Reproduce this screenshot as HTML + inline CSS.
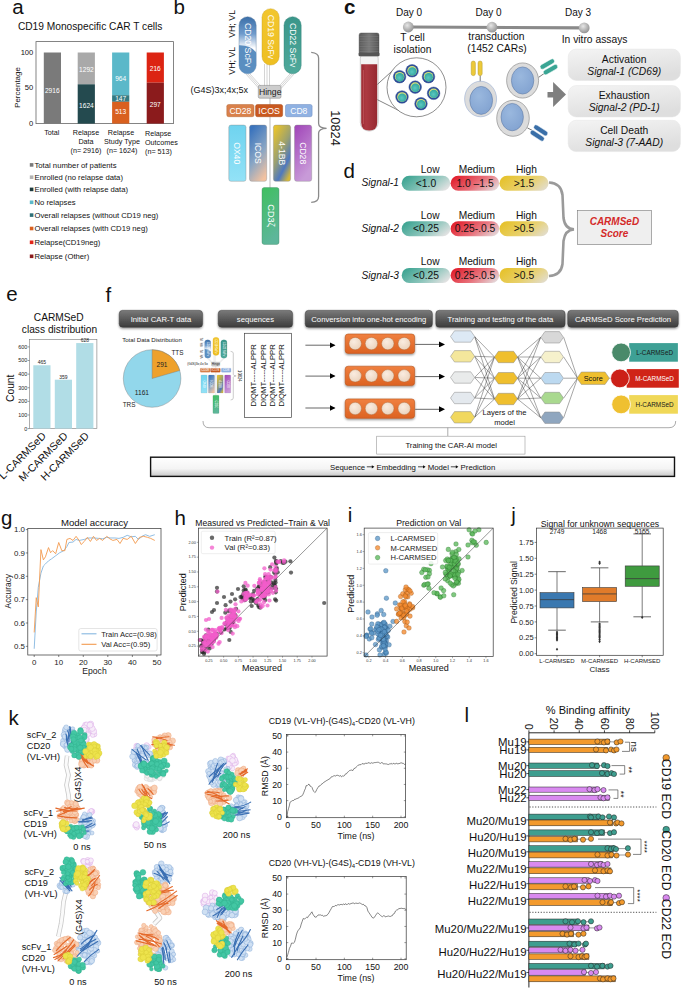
<!DOCTYPE html>
<html><head><meta charset="utf-8"><title>CAR-AI figure</title>
<style>html,body{margin:0;padding:0;background:#fff;}body{width:685px;height:989px;overflow:hidden;font-family:"Liberation Sans", sans-serif;}svg{display:block;}</style>
</head><body><svg width="685" height="989" viewBox="0 0 685 989" font-family='"Liberation Sans", sans-serif'><defs><style>.hg{fill:#2a2a2a;fill-opacity:.7}.hp{fill:#f25cc9;fill-opacity:.75}.ib{fill:#5d98c8;stroke:#1f4f7a;stroke-width:.3;fill-opacity:.78}.io{fill:#f58a2e;stroke:#8a4a10;stroke-width:.3;fill-opacity:.78}.ig{fill:#5cb85c;stroke:#1f6a1f;stroke-width:.3;fill-opacity:.78}.pB{fill:#cfe0f3;stroke:#86a9d6;stroke-width:.45}.pO{fill:#f9d0b4;stroke:#eda47c;stroke-width:.45}.pP{fill:#f7ecf9;stroke:#dba8e6;stroke-width:.5}.pW{fill:#f4f4f4;stroke:#cfcfcf;stroke-width:.45}.pT{fill:#43c7a4;stroke:#2fae8c;stroke-width:.4}.pY{fill:#ede34c;stroke:#d6c935;stroke-width:.4}.rB{stroke:#3a6fb3;stroke-width:1.1;fill:none;stroke-linecap:round}.rO{stroke:#e4692a;stroke-width:1.1;fill:none;stroke-linecap:round}.dO{fill:#f39a2d;stroke:#222;stroke-width:.5}.dT{fill:#3e9e8f;stroke:#222;stroke-width:.5}.dV{fill:#d98af0;stroke:#222;stroke-width:.5}</style><linearGradient id="gCD20" x1="0" y1="0" x2="0" y2="1"><stop offset="0" stop-color="#3b6fa8"/><stop offset="0.3" stop-color="#6f9bcc"/><stop offset="0.55" stop-color="#ffffff"/><stop offset="1" stop-color="#ffffff"/></linearGradient><clipPath id="cpCD20"><rect x="239" y="16.7" width="17.2" height="57.1" rx="8.6"/></clipPath><linearGradient id="gCD19" x1="0" y1="0" x2="0" y2="1"><stop offset="0" stop-color="#f2c62e"/><stop offset="1" stop-color="#eebf22"/></linearGradient><linearGradient id="gCD22" x1="0" y1="0" x2="0" y2="1"><stop offset="0" stop-color="#3a968a"/><stop offset="1" stop-color="#4fa99b"/></linearGradient><linearGradient id="gOX40" x1="0" y1="0" x2="0" y2="1"><stop offset="0" stop-color="#6fd3ef"/><stop offset="1" stop-color="#93e2f7"/></linearGradient><linearGradient id="gICOS" x1="0.3" y1="0" x2="0.7" y2="1"><stop offset="0" stop-color="#3b74bd"/><stop offset="0.55" stop-color="#8aa6c4"/><stop offset="1" stop-color="#f3c2a0"/></linearGradient><linearGradient id="g41BB" x1="0.2" y1="0" x2="0.8" y2="1"><stop offset="0" stop-color="#e6c22e"/><stop offset="0.45" stop-color="#9aa070"/><stop offset="0.75" stop-color="#4e78bf"/><stop offset="1" stop-color="#d6b83a"/></linearGradient><linearGradient id="gCD28v" x1="0" y1="0" x2="0.4" y2="1"><stop offset="0" stop-color="#a044b8"/><stop offset="1" stop-color="#c89ad8"/></linearGradient><linearGradient id="gCD3" x1="0" y1="0" x2="0.3" y2="1"><stop offset="0" stop-color="#3fbf5f"/><stop offset="1" stop-color="#5db69a"/></linearGradient><radialGradient id="gDot" cx="0.4" cy="0.35" r="0.7"><stop offset="0" stop-color="#e6e6e6"/><stop offset="1" stop-color="#8e8e8e"/></radialGradient><radialGradient id="gNuc" cx="0.4" cy="0.35" r="0.8"><stop offset="0" stop-color="#9ab8de"/><stop offset="1" stop-color="#7fa0cf"/></radialGradient><radialGradient id="gTc" cx="0.45" cy="0.55" r="0.6"><stop offset="0" stop-color="#5cc8c0"/><stop offset="1" stop-color="#2ea49c"/></radialGradient><linearGradient id="gBox" x1="0" y1="0" x2="0.4" y2="1"><stop offset="0" stop-color="#f4f4f4"/><stop offset="1" stop-color="#dedede"/></linearGradient><linearGradient id="gCap" x1="0" y1="0" x2="1" y2="0"><stop offset="0" stop-color="#5a5a5a"/><stop offset="0.5" stop-color="#7a7a7a"/><stop offset="1" stop-color="#555"/></linearGradient><linearGradient id="gBlood" x1="0" y1="0" x2="1" y2="0"><stop offset="0" stop-color="#9a2a32"/><stop offset="0.3" stop-color="#ad3a42"/><stop offset="1" stop-color="#962830"/></linearGradient><linearGradient id="gLow" x1="0" y1="0.3" x2="1" y2="0.7"><stop offset="0" stop-color="#3fa593"/><stop offset="0.55" stop-color="#8cc5bb"/><stop offset="1" stop-color="#e2e2e2"/></linearGradient><linearGradient id="gMed" x1="0" y1="0.3" x2="1" y2="0.7"><stop offset="0" stop-color="#e2202e"/><stop offset="0.55" stop-color="#e8707a"/><stop offset="1" stop-color="#e4d4d6"/></linearGradient><linearGradient id="gHigh" x1="0" y1="0.3" x2="1" y2="0.7"><stop offset="0" stop-color="#e6c22c"/><stop offset="0.55" stop-color="#e8d06a"/><stop offset="1" stop-color="#e2dcc8"/></linearGradient><linearGradient id="gHead" x1="0" y1="0" x2="0" y2="1"><stop offset="0" stop-color="#7a7a7a"/><stop offset="0.5" stop-color="#5a5a5a"/><stop offset="1" stop-color="#3c3c3c"/></linearGradient><filter id="fSh" x="-10%" y="-30%" width="120%" height="170%"><feDropShadow dx="0" dy="1.2" stdDeviation="0.9" flood-color="#000" flood-opacity="0.45"/></filter><marker id="mArr" markerWidth="6" markerHeight="6" refX="5" refY="3" orient="auto" markerUnits="userSpaceOnUse"><path d="M0,0 L6,3 L0,6 Z" fill="#000"/></marker><linearGradient id="gOr" x1="0" y1="0" x2="0" y2="1"><stop offset="0" stop-color="#f08040"/><stop offset="1" stop-color="#dc6222"/></linearGradient><radialGradient id="gCr" cx="0.4" cy="0.35" r="0.7"><stop offset="0" stop-color="#faece0"/><stop offset="1" stop-color="#ead2bc"/></radialGradient><linearGradient id="gBan" x1="0" y1="0" x2="0" y2="1"><stop offset="0" stop-color="#ffffff"/><stop offset="0.6" stop-color="#f4f4f4"/><stop offset="1" stop-color="#c8c8c8"/></linearGradient><filter id="fBump" x="-20%" y="-20%" width="140%" height="140%"><feTurbulence type="fractalNoise" baseFrequency="0.35" numOctaves="2" seed="3" result="n"/><feDisplacementMap in="SourceGraphic" in2="n" scale="3.2" xChannelSelector="R" yChannelSelector="G"/></filter></defs><text x="12.30" y="14.20" font-size="20.5" text-anchor="start" fill="#111">a</text><text x="173.50" y="14.20" font-size="20.5" text-anchor="start" fill="#111">b</text><text x="343.50" y="178.40" font-size="20.5" text-anchor="start" fill="#111">d</text><text x="6.30" y="301.20" font-size="20.5" text-anchor="start" fill="#111">e</text><text x="105.50" y="302.40" font-size="20.5" text-anchor="start" fill="#111">f</text><text x="1.00" y="524.50" font-size="20.5" text-anchor="start" fill="#111">g</text><text x="174.50" y="524.50" font-size="20.5" text-anchor="start" fill="#111">h</text><text x="347.80" y="522.00" font-size="20.5" text-anchor="start" fill="#111">i</text><text x="511.30" y="522.00" font-size="20.5" text-anchor="start" fill="#111">j</text><text x="8.60" y="724.50" font-size="20.5" text-anchor="start" fill="#111">k</text><text x="464.50" y="722.00" font-size="20.5" text-anchor="start" fill="#111">l</text><text x="344.00" y="14.20" font-size="20.5" text-anchor="start" fill="#111" font-weight="bold">c</text><text x="17.90" y="29.80" font-size="10.2" text-anchor="start" fill="#111">CD19 Monospecific CAR T cells</text><rect x="36.00" y="41.60" width="137.40" height="82.00" fill="none" stroke="#666" stroke-width="0.8" rx="0"/><text x="33.30" y="55.30" font-size="7.6" text-anchor="end" fill="#111">100</text><text x="33.30" y="90.30" font-size="7.6" text-anchor="end" fill="#111">50</text><text x="33.30" y="126.00" font-size="7.6" text-anchor="end" fill="#111">0</text><text x="19.50" y="87.50" font-size="8.0" text-anchor="middle" fill="#111" transform="rotate(-90 19.5 87.5)">Percentage</text><rect x="43.80" y="52.50" width="17.20" height="71.10" fill="#7a7a7a" stroke="none" stroke-width="0" rx="0"/><rect x="77.70" y="52.50" width="17.20" height="31.80" fill="#a9a9a9" stroke="none" stroke-width="0" rx="0"/><rect x="77.70" y="84.30" width="17.20" height="39.30" fill="#244a4f" stroke="none" stroke-width="0" rx="0"/><rect x="112.10" y="52.50" width="17.20" height="42.70" fill="#5bb8c9" stroke="none" stroke-width="0" rx="0"/><rect x="112.10" y="95.20" width="17.20" height="6.60" fill="#347a82" stroke="none" stroke-width="0" rx="0"/><rect x="112.10" y="101.80" width="17.20" height="21.80" fill="#d9601f" stroke="none" stroke-width="0" rx="0"/><rect x="146.70" y="52.50" width="17.20" height="30.20" fill="#dc2413" stroke="none" stroke-width="0" rx="0"/><rect x="146.70" y="82.70" width="17.20" height="40.90" fill="#8b1b1c" stroke="none" stroke-width="0" rx="0"/><text x="52.30" y="93.20" font-size="6.6" text-anchor="middle" fill="#fff">2916</text><text x="86.40" y="72.00" font-size="6.6" text-anchor="middle" fill="#fff">1292</text><text x="86.40" y="108.10" font-size="6.6" text-anchor="middle" fill="#fff">1624</text><text x="120.70" y="81.20" font-size="6.6" text-anchor="middle" fill="#fff">964</text><text x="120.70" y="100.90" font-size="6.6" text-anchor="middle" fill="#fff">147</text><text x="120.70" y="114.40" font-size="6.6" text-anchor="middle" fill="#fff">513</text><text x="155.30" y="71.40" font-size="6.6" text-anchor="middle" fill="#fff">216</text><text x="155.30" y="107.00" font-size="6.6" text-anchor="middle" fill="#fff">297</text><text x="51.80" y="135.00" font-size="7.2" text-anchor="middle" fill="#111">Total</text><text x="86.00" y="135.00" font-size="7.2" text-anchor="middle" fill="#111">Relapse</text><text x="86.00" y="143.80" font-size="7.2" text-anchor="middle" fill="#111">Data</text><text x="86.00" y="152.60" font-size="7.2" text-anchor="middle" fill="#111">(n= 2916)</text><text x="121.00" y="135.00" font-size="7.2" text-anchor="middle" fill="#111">Relapse</text><text x="122.00" y="143.80" font-size="7.2" text-anchor="middle" fill="#111">Study Type</text><text x="122.00" y="152.60" font-size="7.2" text-anchor="middle" fill="#111">(n= 1624)</text><text x="145.00" y="136.00" font-size="7.2" text-anchor="start" fill="#111">Relapse</text><text x="145.00" y="144.80" font-size="7.2" text-anchor="start" fill="#111">Outcomes</text><text x="145.00" y="153.60" font-size="7.2" text-anchor="start" fill="#111">(n= 513)</text><rect x="29.80" y="163.10" width="3.60" height="3.60" fill="#7a7a7a" stroke="none" stroke-width="0" rx="0"/><text x="34.50" y="167.70" font-size="7.7" text-anchor="start" fill="#111">Total number of patients</text><rect x="29.80" y="175.40" width="3.60" height="3.60" fill="#b3b3b3" stroke="none" stroke-width="0" rx="0"/><text x="34.50" y="180.00" font-size="7.7" text-anchor="start" fill="#111">Enrolled (no relapse data)</text><rect x="29.80" y="187.60" width="3.60" height="3.60" fill="#1d3a3d" stroke="none" stroke-width="0" rx="0"/><text x="34.50" y="192.20" font-size="7.7" text-anchor="start" fill="#111">Enrolled (with relapse data)</text><rect x="29.80" y="200.50" width="3.60" height="3.60" fill="#5bb8c9" stroke="none" stroke-width="0" rx="0"/><text x="34.50" y="205.10" font-size="7.7" text-anchor="start" fill="#111">No relapses</text><rect x="29.80" y="213.30" width="3.60" height="3.60" fill="#2f7078" stroke="none" stroke-width="0" rx="0"/><text x="34.50" y="217.90" font-size="7.7" text-anchor="start" fill="#111">Overall relapses (without CD19 neg)</text><rect x="29.80" y="226.70" width="3.60" height="3.60" fill="#d9601f" stroke="none" stroke-width="0" rx="0"/><text x="34.50" y="231.30" font-size="7.7" text-anchor="start" fill="#111">Overall relapses (with CD19 neg)</text><rect x="29.80" y="240.50" width="3.60" height="3.60" fill="#e1261a" stroke="none" stroke-width="0" rx="0"/><text x="34.50" y="245.10" font-size="7.7" text-anchor="start" fill="#111">Relapse(CD19neg)</text><rect x="29.80" y="254.50" width="3.60" height="3.60" fill="#8b1b1c" stroke="none" stroke-width="0" rx="0"/><text x="34.50" y="259.10" font-size="7.7" text-anchor="start" fill="#111">Relapse (Other)</text><g id="constructB"><line x1="245.50" y1="73.50" x2="259.00" y2="88.50" stroke="#cfcfcf" stroke-width="0.9"/><line x1="290.50" y1="73.50" x2="277.00" y2="88.50" stroke="#cfcfcf" stroke-width="0.9"/><line x1="247.50" y1="73.50" x2="261.00" y2="88.50" stroke="#cfcfcf" stroke-width="0.9"/><line x1="292.50" y1="73.50" x2="279.00" y2="88.50" stroke="#cfcfcf" stroke-width="0.9"/><line x1="249.50" y1="73.50" x2="263.00" y2="88.50" stroke="#cfcfcf" stroke-width="0.9"/><line x1="294.50" y1="73.50" x2="281.00" y2="88.50" stroke="#cfcfcf" stroke-width="0.9"/><line x1="264.50" y1="64.00" x2="264.50" y2="86.00" stroke="#cfcfcf" stroke-width="0.9"/><line x1="267.00" y1="64.00" x2="267.00" y2="86.00" stroke="#cfcfcf" stroke-width="0.9"/><line x1="269.50" y1="64.00" x2="269.50" y2="86.00" stroke="#cfcfcf" stroke-width="0.9"/><line x1="270.00" y1="98.00" x2="270.00" y2="188.00" stroke="#bdbdbd" stroke-width="1.0"/><rect x="239.00" y="16.70" width="17.20" height="57.10" fill="url(#gCD20)" stroke="#5a7a9a" stroke-width="0.4" rx="8.6"/><path d="M238,45.3 Q251,44.5 257,53.5 L257,75 L238,75 Z" fill="#5a8ec0" stroke="none" stroke-width="0" clip-path="url(#cpCD20)"/><rect x="262.00" y="8.70" width="17.20" height="56.40" fill="url(#gCD19)" stroke="#c8a020" stroke-width="0.4" rx="8.6"/><rect x="284.00" y="16.70" width="17.20" height="57.10" fill="url(#gCD22)" stroke="#2f7f74" stroke-width="0.4" rx="8.6"/><text x="247.60" y="45.20" font-size="8.7" text-anchor="middle" fill="#fff" transform="rotate(90 247.6 45.2)" dominant-baseline="central">CD20 ScFv</text><text x="270.60" y="36.90" font-size="8.7" text-anchor="middle" fill="#fff" transform="rotate(90 270.6 36.9)" dominant-baseline="central">CD19 ScFv</text><text x="292.60" y="45.20" font-size="8.7" text-anchor="middle" fill="#fff" transform="rotate(90 292.6 45.2)" dominant-baseline="central">CD22 ScFv</text><text x="232.40" y="23.90" font-size="8.8" text-anchor="middle" fill="#111" transform="rotate(-90 232.4 23.9)" dominant-baseline="central">VH; VL</text><text x="232.40" y="60.70" font-size="8.8" text-anchor="middle" fill="#111" transform="rotate(-90 232.4 60.7)" dominant-baseline="central">VH; VL</text><text x="190.50" y="93.30" font-size="9.0" text-anchor="start" fill="#111">(G4S)3x;4x;5x</text><rect x="258.30" y="85.40" width="22.70" height="12.80" fill="#cdcdcd" stroke="#7a7a7a" stroke-width="0.5" rx="1.5"/><text x="270.20" y="94.60" font-size="8.6" text-anchor="middle" fill="#222">Hinge</text><rect x="226.80" y="104.50" width="27.20" height="12.20" fill="#d9814b" stroke="#b86a38" stroke-width="0.5" rx="1.8"/><rect x="255.60" y="104.50" width="27.00" height="12.20" fill="#c9591f" stroke="#a84a18" stroke-width="0.5" rx="1.8"/><rect x="285.50" y="104.50" width="26.60" height="12.20" fill="#8fb1e2" stroke="#6b8bc0" stroke-width="0.5" rx="1.8"/><text x="240.40" y="113.80" font-size="8.6" text-anchor="middle" fill="#fff">CD28</text><text x="269.10" y="113.80" font-size="8.8" text-anchor="middle" fill="#fff">ICOS</text><text x="298.80" y="113.80" font-size="8.6" text-anchor="middle" fill="#fff">CD8</text><rect x="228.80" y="125.10" width="17.20" height="56.20" fill="url(#gOX40)" stroke="#8a8a8a" stroke-width="0.4" rx="2.2"/><text x="237.40" y="153.20" font-size="8.6" text-anchor="middle" fill="#fff" transform="rotate(90 237.4 153.2)" dominant-baseline="central">OX40</text><rect x="249.50" y="125.10" width="17.20" height="56.20" fill="url(#gICOS)" stroke="#8a8a8a" stroke-width="0.4" rx="2.2"/><text x="258.10" y="153.20" font-size="8.6" text-anchor="middle" fill="#fff" transform="rotate(90 258.1 153.2)" dominant-baseline="central">ICOS</text><rect x="273.40" y="125.10" width="17.20" height="56.20" fill="url(#g41BB)" stroke="#8a8a8a" stroke-width="0.4" rx="2.2"/><text x="282.00" y="153.20" font-size="8.6" text-anchor="middle" fill="#fff" transform="rotate(90 282.0 153.2)" dominant-baseline="central">4-1BB</text><rect x="294.50" y="125.10" width="17.20" height="56.20" fill="url(#gCD28v)" stroke="#8a8a8a" stroke-width="0.4" rx="2.2"/><text x="303.10" y="153.20" font-size="8.6" text-anchor="middle" fill="#fff" transform="rotate(90 303.1 153.2)" dominant-baseline="central">CD28</text><rect x="262.00" y="187.60" width="17.00" height="56.80" fill="url(#gCD3)" stroke="#4a8a6a" stroke-width="0.4" rx="2.2"/><text x="270.50" y="215.50" font-size="9.2" text-anchor="middle" fill="#fff" transform="rotate(90 270.5 215.5)" dominant-baseline="central">CD3ζ</text><path d="M311.2,52.4 Q318.6,53 318.6,58 L318.6,123.5 Q318.6,128 326.6,128.3 Q318.6,128.6 318.6,133 L318.6,196.5 Q318.6,202 311.2,202.4" fill="none" stroke="#8a8a8a" stroke-width="1.3"/><text x="335.30" y="128.00" font-size="12.8" text-anchor="middle" fill="#111" transform="rotate(90 335.3 128.0)" dominant-baseline="central">10824</text></g><line x1="408.30" y1="27.00" x2="584.20" y2="27.90" stroke="#8a8a8a" stroke-width="3.2"/><circle cx="408.30" cy="27.00" r="5.40" fill="url(#gDot)" stroke="none" stroke-width="0"/><circle cx="492.00" cy="27.20" r="5.40" fill="url(#gDot)" stroke="none" stroke-width="0"/><circle cx="584.20" cy="27.90" r="5.40" fill="url(#gDot)" stroke="none" stroke-width="0"/><text x="409.00" y="15.80" font-size="10.0" text-anchor="middle" fill="#111">Day 0</text><text x="488.60" y="15.80" font-size="10.0" text-anchor="middle" fill="#111">Day 0</text><text x="578.00" y="16.10" font-size="10.0" text-anchor="middle" fill="#111">Day 3</text><text x="412.50" y="41.00" font-size="10.3" text-anchor="middle" fill="#111">T cell</text><text x="412.50" y="53.10" font-size="10.3" text-anchor="middle" fill="#111">isolation</text><text x="496.40" y="40.30" font-size="10.3" text-anchor="middle" fill="#111">transduction</text><text x="497.00" y="52.40" font-size="10.3" text-anchor="middle" fill="#111">(1452 CARs)</text><text x="594.60" y="43.30" font-size="10.3" text-anchor="middle" fill="#111">In vitro assays</text><rect x="360.30" y="50.00" width="17.90" height="81.00" fill="#f4f4f4" stroke="#b5b5b5" stroke-width="0.6" rx="8.5"/><path d="M361.2,64.3 L377.2,64.3 L377.2,122.5 Q377.2,130.6 369.2,130.6 Q361.2,130.6 361.2,122.5 Z" fill="url(#gBlood)" stroke="none" stroke-width="0"/><line x1="363.40" y1="70.00" x2="363.40" y2="124.00" stroke="#c9646a" stroke-width="0.6"/><rect x="359.10" y="33.00" width="19.90" height="22.80" fill="url(#gCap)" stroke="#4a4a4a" stroke-width="0.4" rx="2"/><line x1="359.50" y1="36.50" x2="378.60" y2="36.50" stroke="#888" stroke-width="0.35"/><line x1="359.50" y1="39.00" x2="378.60" y2="39.00" stroke="#888" stroke-width="0.35"/><line x1="359.50" y1="41.50" x2="378.60" y2="41.50" stroke="#888" stroke-width="0.35"/><line x1="359.50" y1="44.00" x2="378.60" y2="44.00" stroke="#888" stroke-width="0.35"/><line x1="359.50" y1="46.50" x2="378.60" y2="46.50" stroke="#888" stroke-width="0.35"/><line x1="359.50" y1="49.00" x2="378.60" y2="49.00" stroke="#888" stroke-width="0.35"/><line x1="359.50" y1="51.50" x2="378.60" y2="51.50" stroke="#888" stroke-width="0.35"/><rect x="358.60" y="52.80" width="20.90" height="3.40" fill="#555" stroke="none" stroke-width="0" rx="1"/><line x1="377.40" y1="84.40" x2="396.40" y2="67.10" stroke="#333" stroke-width="0.6"/><line x1="377.40" y1="99.70" x2="402.80" y2="112.50" stroke="#333" stroke-width="0.6"/><circle cx="416.50" cy="87.30" r="29.50" fill="#fff" stroke="#444" stroke-width="0.6"/><circle cx="399.60" cy="76.70" r="6.30" fill="#2e4f9d" stroke="#1f3a80" stroke-width="0.4"/><circle cx="399.60" cy="76.70" r="4.80" fill="#d8e27a" stroke="none" stroke-width="0"/><circle cx="399.80" cy="77.30" r="4.20" fill="url(#gTc)" stroke="none" stroke-width="0"/><circle cx="412.10" cy="70.80" r="6.30" fill="#2e4f9d" stroke="#1f3a80" stroke-width="0.4"/><circle cx="412.10" cy="70.80" r="4.80" fill="#d8e27a" stroke="none" stroke-width="0"/><circle cx="412.30" cy="71.40" r="4.20" fill="url(#gTc)" stroke="none" stroke-width="0"/><circle cx="428.50" cy="76.70" r="6.30" fill="#2e4f9d" stroke="#1f3a80" stroke-width="0.4"/><circle cx="428.50" cy="76.70" r="4.80" fill="#d8e27a" stroke="none" stroke-width="0"/><circle cx="428.70" cy="77.30" r="4.20" fill="url(#gTc)" stroke="none" stroke-width="0"/><circle cx="415.20" cy="87.10" r="6.30" fill="#2e4f9d" stroke="#1f3a80" stroke-width="0.4"/><circle cx="415.20" cy="87.10" r="4.80" fill="#d8e27a" stroke="none" stroke-width="0"/><circle cx="415.40" cy="87.70" r="4.20" fill="url(#gTc)" stroke="none" stroke-width="0"/><circle cx="402.00" cy="97.00" r="6.30" fill="#2e4f9d" stroke="#1f3a80" stroke-width="0.4"/><circle cx="402.00" cy="97.00" r="4.80" fill="#d8e27a" stroke="none" stroke-width="0"/><circle cx="402.20" cy="97.60" r="4.20" fill="url(#gTc)" stroke="none" stroke-width="0"/><circle cx="433.60" cy="93.30" r="6.30" fill="#2e4f9d" stroke="#1f3a80" stroke-width="0.4"/><circle cx="433.60" cy="93.30" r="4.80" fill="#d8e27a" stroke="none" stroke-width="0"/><circle cx="433.80" cy="93.90" r="4.20" fill="url(#gTc)" stroke="none" stroke-width="0"/><circle cx="421.00" cy="103.70" r="6.30" fill="#2e4f9d" stroke="#1f3a80" stroke-width="0.4"/><circle cx="421.00" cy="103.70" r="4.80" fill="#d8e27a" stroke="none" stroke-width="0"/><circle cx="421.20" cy="104.30" r="4.20" fill="url(#gTc)" stroke="none" stroke-width="0"/><line x1="480.20" y1="75.50" x2="480.20" y2="83.00" stroke="#555" stroke-width="0.8"/><ellipse cx="480.6" cy="99.0" rx="16.0" ry="17.8" fill="#dcdcdc" stroke="#8aa3cc" stroke-width="0.5"/><ellipse cx="481.20000000000005" cy="100.4" rx="11.4" ry="14.0" fill="url(#gNuc)" stroke="#55709c" stroke-width="0.5"/><rect x="471.20" y="61.00" width="4.20" height="14.70" fill="#ecc93a" stroke="#a48a20" stroke-width="0.4" rx="2.1"/><rect x="478.00" y="61.00" width="4.20" height="14.70" fill="#ecc93a" stroke="#a48a20" stroke-width="0.4" rx="2.1"/><line x1="538.70" y1="77.30" x2="545.50" y2="72.50" stroke="#555" stroke-width="0.8"/><ellipse cx="522.6" cy="80.5" rx="16.0" ry="17.6" fill="#dcdcdc" stroke="#6a6a6a" stroke-width="0.5"/><ellipse cx="522.6" cy="80.5" rx="11.2" ry="13.6" fill="url(#gNuc)" stroke="#55709c" stroke-width="0.5"/><g transform="rotate(-30 549 67)"><rect x="541" y="61.2" width="16" height="4.8" rx="2.4" fill="#3aa594" stroke="#fff" stroke-width="0.5"/><rect x="541" y="67.6" width="16" height="4.8" rx="2.4" fill="#3aa594" stroke="#fff" stroke-width="0.5"/></g><line x1="527.40" y1="127.90" x2="533.50" y2="131.00" stroke="#555" stroke-width="0.8"/><ellipse cx="513.0" cy="118.3" rx="16.3" ry="18.0" fill="#dcdcdc" stroke="#6a6a6a" stroke-width="0.5"/><ellipse cx="512.2" cy="117.1" rx="11.2" ry="13.7" fill="url(#gNuc)" stroke="#55709c" stroke-width="0.5"/><g transform="rotate(33 539 133)"><rect x="531" y="127.4" width="16" height="4.8" rx="2.4" fill="#3a6fa8" stroke="#fff" stroke-width="0.5"/><rect x="531" y="133.8" width="16" height="4.8" rx="2.4" fill="#3a6fa8" stroke="#fff" stroke-width="0.5"/></g><path d="M547.5,92 L553.1,92 L553.1,82.1 L566,94.6 L553.1,107 L553.1,97.4 L547.5,97.4 Z" fill="#7f7f7f" stroke="none" stroke-width="0"/><rect x="568.20" y="49.10" width="112.20" height="31.30" fill="url(#gBox)" stroke="#e4e4e4" stroke-width="0.5" rx="8"/><text x="624.20" y="62.80" font-size="10.3" text-anchor="middle" fill="#111">Activation</text><text x="624.20" y="74.70" font-size="10.3" text-anchor="middle" fill="#111" font-style="italic">Signal-1 (CD69)</text><rect x="568.20" y="85.60" width="112.20" height="31.30" fill="url(#gBox)" stroke="#e4e4e4" stroke-width="0.5" rx="8"/><text x="624.20" y="99.30" font-size="10.3" text-anchor="middle" fill="#111">Exhaustion</text><text x="624.20" y="111.20" font-size="10.3" text-anchor="middle" fill="#111" font-style="italic">Signal-2 (PD-1)</text><rect x="568.20" y="120.30" width="112.20" height="31.30" fill="url(#gBox)" stroke="#e4e4e4" stroke-width="0.5" rx="8"/><text x="624.20" y="134.00" font-size="10.3" text-anchor="middle" fill="#111">Cell Death</text><text x="624.20" y="145.90" font-size="10.3" text-anchor="middle" fill="#111" font-style="italic">Signal-3 (7-AAD)</text><rect x="401.70" y="175.80" width="48.60" height="15.00" fill="url(#gLow)" stroke="none" stroke-width="0" rx="7.5"/><rect x="450.60" y="175.80" width="48.60" height="15.00" fill="url(#gMed)" stroke="none" stroke-width="0" rx="7.5"/><rect x="499.50" y="175.80" width="49.00" height="15.00" fill="url(#gHigh)" stroke="none" stroke-width="0" rx="7.5"/><text x="398.90" y="186.40" font-size="10.2" text-anchor="end" fill="#111" font-style="italic">Signal-1</text><text x="426.00" y="186.60" font-size="10.3" text-anchor="middle" fill="#111">&lt;1.0</text><text x="475.00" y="186.60" font-size="10.3" text-anchor="middle" fill="#111">1.0 –1.5</text><text x="524.00" y="186.60" font-size="10.3" text-anchor="middle" fill="#111">&gt;1.5</text><text x="430.20" y="173.00" font-size="10.2" text-anchor="middle" fill="#111">Low</text><text x="476.80" y="173.00" font-size="10.2" text-anchor="middle" fill="#111">Medium</text><text x="526.40" y="173.00" font-size="10.2" text-anchor="middle" fill="#111">High</text><rect x="401.70" y="221.30" width="48.60" height="15.00" fill="url(#gLow)" stroke="none" stroke-width="0" rx="7.5"/><rect x="450.60" y="221.30" width="48.60" height="15.00" fill="url(#gMed)" stroke="none" stroke-width="0" rx="7.5"/><rect x="499.50" y="221.30" width="49.00" height="15.00" fill="url(#gHigh)" stroke="none" stroke-width="0" rx="7.5"/><text x="398.90" y="231.90" font-size="10.2" text-anchor="end" fill="#111" font-style="italic">Signal-2</text><text x="426.00" y="232.10" font-size="10.3" text-anchor="middle" fill="#111">&lt;0.25</text><text x="475.00" y="232.10" font-size="10.3" text-anchor="middle" fill="#111">0.25-.0.5</text><text x="524.00" y="232.10" font-size="10.3" text-anchor="middle" fill="#111">&gt;0.5</text><text x="430.20" y="218.50" font-size="10.2" text-anchor="middle" fill="#111">Low</text><text x="476.80" y="218.50" font-size="10.2" text-anchor="middle" fill="#111">Medium</text><text x="526.40" y="218.50" font-size="10.2" text-anchor="middle" fill="#111">High</text><rect x="401.70" y="267.90" width="48.60" height="15.00" fill="url(#gLow)" stroke="none" stroke-width="0" rx="7.5"/><rect x="450.60" y="267.90" width="48.60" height="15.00" fill="url(#gMed)" stroke="none" stroke-width="0" rx="7.5"/><rect x="499.50" y="267.90" width="49.00" height="15.00" fill="url(#gHigh)" stroke="none" stroke-width="0" rx="7.5"/><text x="398.90" y="278.50" font-size="10.2" text-anchor="end" fill="#111" font-style="italic">Signal-3</text><text x="426.00" y="278.70" font-size="10.3" text-anchor="middle" fill="#111">&lt;0.25</text><text x="475.00" y="278.70" font-size="10.3" text-anchor="middle" fill="#111">0.25-.0.5</text><text x="524.00" y="278.70" font-size="10.3" text-anchor="middle" fill="#111">&gt;0.5</text><text x="430.20" y="265.10" font-size="10.2" text-anchor="middle" fill="#111">Low</text><text x="476.80" y="265.10" font-size="10.2" text-anchor="middle" fill="#111">Medium</text><text x="526.40" y="265.10" font-size="10.2" text-anchor="middle" fill="#111">High</text><path d="M549,182.5 Q561,183 562.5,195 L563.5,218 Q565,229 574,229.4 Q565,230 563.5,241 L562.5,264 Q561,275.5 549,276" fill="none" stroke="#9a9a9a" stroke-width="2.6"/><rect x="577.30" y="210.50" width="74.20" height="34.10" fill="#efefef" stroke="#777" stroke-width="0.6" rx="0"/><text x="614.40" y="225.20" font-size="10.0" text-anchor="middle" fill="#d42a2a" font-weight="bold" font-style="italic">CARMSeD</text><text x="614.40" y="237.40" font-size="10.0" text-anchor="middle" fill="#d42a2a" font-weight="bold" font-style="italic">Score</text><text x="58.70" y="320.90" font-size="10.2" text-anchor="middle" fill="#111">CARMSeD</text><text x="59.50" y="333.20" font-size="10.2" text-anchor="middle" fill="#111">class distribution</text><rect x="29.40" y="339.60" width="67.50" height="89.00" fill="none" stroke="#777" stroke-width="0.6" rx="0"/><line x1="27.60" y1="428.60" x2="29.40" y2="428.60" stroke="#333" stroke-width="0.5"/><text x="27.30" y="430.50" font-size="5.4" text-anchor="end" fill="#222">0</text><line x1="27.60" y1="414.98" x2="29.40" y2="414.98" stroke="#333" stroke-width="0.5"/><text x="27.30" y="416.88" font-size="5.4" text-anchor="end" fill="#222">100</text><line x1="27.60" y1="401.36" x2="29.40" y2="401.36" stroke="#333" stroke-width="0.5"/><text x="27.30" y="403.26" font-size="5.4" text-anchor="end" fill="#222">200</text><line x1="27.60" y1="387.74" x2="29.40" y2="387.74" stroke="#333" stroke-width="0.5"/><text x="27.30" y="389.64" font-size="5.4" text-anchor="end" fill="#222">300</text><line x1="27.60" y1="374.12" x2="29.40" y2="374.12" stroke="#333" stroke-width="0.5"/><text x="27.30" y="376.02" font-size="5.4" text-anchor="end" fill="#222">400</text><line x1="27.60" y1="360.50" x2="29.40" y2="360.50" stroke="#333" stroke-width="0.5"/><text x="27.30" y="362.40" font-size="5.4" text-anchor="end" fill="#222">500</text><line x1="27.60" y1="346.88" x2="29.40" y2="346.88" stroke="#333" stroke-width="0.5"/><text x="27.30" y="348.78" font-size="5.4" text-anchor="end" fill="#222">600</text><rect x="33.30" y="365.27" width="17.20" height="63.33" fill="#b1dde6" stroke="none" stroke-width="0" rx="0"/><text x="41.90" y="364.07" font-size="5.0" text-anchor="middle" fill="#222">465</text><rect x="54.80" y="379.70" width="17.20" height="48.90" fill="#b1dde6" stroke="none" stroke-width="0" rx="0"/><text x="63.40" y="378.50" font-size="5.0" text-anchor="middle" fill="#222">359</text><rect x="76.20" y="343.07" width="17.20" height="85.53" fill="#b1dde6" stroke="none" stroke-width="0" rx="0"/><text x="84.80" y="341.87" font-size="5.0" text-anchor="middle" fill="#222">628</text><text x="13.70" y="388.30" font-size="10.3" text-anchor="middle" fill="#111" transform="rotate(-90 13.7 388.3)">Count</text><text x="41.00" y="431.00" font-size="10.6" text-anchor="end" fill="#111" transform="rotate(-45 41.0 431.0)" dominant-baseline="hanging">L-CARMSeD</text><text x="62.70" y="431.00" font-size="10.6" text-anchor="end" fill="#111" transform="rotate(-45 62.7 431.0)" dominant-baseline="hanging">M-CARMSeD</text><text x="84.00" y="431.00" font-size="10.6" text-anchor="end" fill="#111" transform="rotate(-45 84.0 431.0)" dominant-baseline="hanging">H-CARMSeD</text><rect x="119.20" y="310.30" width="83.40" height="17.00" fill="url(#gHead)" stroke="#333" stroke-width="0.4" rx="3.5" filter="url(#fSh)"/><text x="160.90" y="321.50" font-size="7.7" text-anchor="middle" fill="#fff">Initial CAR-T data</text><rect x="218.20" y="310.30" width="74.40" height="17.00" fill="url(#gHead)" stroke="#333" stroke-width="0.4" rx="3.5" filter="url(#fSh)"/><text x="255.40" y="321.50" font-size="7.7" text-anchor="middle" fill="#fff">sequences</text><rect x="305.20" y="310.30" width="127.20" height="17.00" fill="url(#gHead)" stroke="#333" stroke-width="0.4" rx="3.5" filter="url(#fSh)"/><text x="368.80" y="321.50" font-size="7.7" text-anchor="middle" fill="#fff">Conversion into one-hot encoding</text><rect x="435.80" y="310.30" width="129.30" height="17.00" fill="url(#gHead)" stroke="#333" stroke-width="0.4" rx="3.5" filter="url(#fSh)"/><text x="500.45" y="321.50" font-size="7.7" text-anchor="middle" fill="#fff">Training and testing of the data</text><rect x="567.70" y="310.30" width="110.60" height="17.00" fill="url(#gHead)" stroke="#333" stroke-width="0.4" rx="3.5" filter="url(#fSh)"/><text x="623.00" y="321.50" font-size="7.7" text-anchor="middle" fill="#fff">CARMSeD Score Prediction</text><text x="122.20" y="341.70" font-size="6.1" text-anchor="start" fill="#222">Total Data Distribution</text><circle cx="152.10" cy="378.50" r="28.80" fill="#92d7eb" stroke="#777" stroke-width="0.4"/><path d="M152.1,378.5 L152.10,349.70 A28.8,28.8 0 0,1 179.78,370.56 Z" fill="#eea12c" stroke="#777" stroke-width="0.4"/><text x="171.40" y="354.90" font-size="6.4" text-anchor="start" fill="#222">TTS</text><text x="162.00" y="366.80" font-size="6.6" text-anchor="middle" fill="#222">291</text><text x="141.90" y="394.80" font-size="6.6" text-anchor="middle" fill="#222">1161</text><text x="122.70" y="406.50" font-size="6.4" text-anchor="start" fill="#222">TRS</text><use href="#constructB" transform="translate(216 337.2) scale(0.36 0.324) translate(-270.6 -8.7)"/><rect x="244.40" y="333.30" width="47.20" height="84.30" fill="#fff" stroke="#444" stroke-width="0.7" rx="0"/><text x="253.60" y="375.40" font-size="7.7" text-anchor="middle" fill="#111" transform="rotate(-90 253.6 375.4)" dominant-baseline="central">DIQMT-----ALPPR</text><text x="263.20" y="375.40" font-size="7.7" text-anchor="middle" fill="#111" transform="rotate(-90 263.2 375.4)" dominant-baseline="central">DIQMT-----ALPPR</text><text x="272.10" y="375.40" font-size="7.7" text-anchor="middle" fill="#111" transform="rotate(-90 272.1 375.4)" dominant-baseline="central">DIQMT-----ALPPR</text><text x="281.60" y="375.40" font-size="7.7" text-anchor="middle" fill="#111" transform="rotate(-90 281.6 375.4)" dominant-baseline="central">DIQMT-----ALPPR</text><line x1="305.40" y1="345.20" x2="334.50" y2="345.20" stroke="#000" stroke-width="0.6" marker-end="url(#mArr)"/><line x1="305.40" y1="376.10" x2="334.50" y2="376.10" stroke="#000" stroke-width="0.6" marker-end="url(#mArr)"/><line x1="305.40" y1="408.00" x2="334.50" y2="408.00" stroke="#000" stroke-width="0.6" marker-end="url(#mArr)"/><rect x="345.20" y="334.00" width="69.40" height="19.40" fill="url(#gOr)" stroke="#b8561c" stroke-width="0.6" rx="3" filter="url(#fSh)"/><circle cx="355.20" cy="343.60" r="6.20" fill="url(#gCr)" stroke="#a86a40" stroke-width="0.4"/><circle cx="371.40" cy="343.60" r="6.20" fill="url(#gCr)" stroke="#a86a40" stroke-width="0.4"/><circle cx="387.80" cy="343.60" r="6.20" fill="url(#gCr)" stroke="#a86a40" stroke-width="0.4"/><circle cx="404.20" cy="343.60" r="6.20" fill="url(#gCr)" stroke="#a86a40" stroke-width="0.4"/><line x1="415.20" y1="344.40" x2="444.00" y2="344.40" stroke="#000" stroke-width="0.6" marker-end="url(#mArr)"/><rect x="345.20" y="366.20" width="69.40" height="19.40" fill="url(#gOr)" stroke="#b8561c" stroke-width="0.6" rx="3" filter="url(#fSh)"/><circle cx="355.20" cy="375.80" r="6.20" fill="url(#gCr)" stroke="#a86a40" stroke-width="0.4"/><circle cx="371.40" cy="375.80" r="6.20" fill="url(#gCr)" stroke="#a86a40" stroke-width="0.4"/><circle cx="387.80" cy="375.80" r="6.20" fill="url(#gCr)" stroke="#a86a40" stroke-width="0.4"/><circle cx="404.20" cy="375.80" r="6.20" fill="url(#gCr)" stroke="#a86a40" stroke-width="0.4"/><line x1="415.20" y1="376.60" x2="444.00" y2="376.60" stroke="#000" stroke-width="0.6" marker-end="url(#mArr)"/><rect x="345.20" y="398.90" width="69.40" height="19.40" fill="url(#gOr)" stroke="#b8561c" stroke-width="0.6" rx="3" filter="url(#fSh)"/><circle cx="355.20" cy="408.50" r="6.20" fill="url(#gCr)" stroke="#a86a40" stroke-width="0.4"/><circle cx="371.40" cy="408.50" r="6.20" fill="url(#gCr)" stroke="#a86a40" stroke-width="0.4"/><circle cx="387.80" cy="408.50" r="6.20" fill="url(#gCr)" stroke="#a86a40" stroke-width="0.4"/><circle cx="404.20" cy="408.50" r="6.20" fill="url(#gCr)" stroke="#a86a40" stroke-width="0.4"/><line x1="415.20" y1="409.30" x2="444.00" y2="409.30" stroke="#000" stroke-width="0.6" marker-end="url(#mArr)"/><line x1="474.60" y1="336.50" x2="494.50" y2="357.00" stroke="#222" stroke-width="0.4"/><line x1="474.60" y1="336.50" x2="494.50" y2="378.20" stroke="#222" stroke-width="0.4"/><line x1="474.60" y1="336.50" x2="494.50" y2="399.00" stroke="#222" stroke-width="0.4"/><line x1="474.60" y1="356.30" x2="494.50" y2="357.00" stroke="#222" stroke-width="0.4"/><line x1="474.60" y1="356.30" x2="494.50" y2="378.20" stroke="#222" stroke-width="0.4"/><line x1="474.60" y1="356.30" x2="494.50" y2="399.00" stroke="#222" stroke-width="0.4"/><line x1="474.60" y1="377.50" x2="494.50" y2="357.00" stroke="#222" stroke-width="0.4"/><line x1="474.60" y1="377.50" x2="494.50" y2="378.20" stroke="#222" stroke-width="0.4"/><line x1="474.60" y1="377.50" x2="494.50" y2="399.00" stroke="#222" stroke-width="0.4"/><line x1="474.60" y1="398.00" x2="494.50" y2="357.00" stroke="#222" stroke-width="0.4"/><line x1="474.60" y1="398.00" x2="494.50" y2="378.20" stroke="#222" stroke-width="0.4"/><line x1="474.60" y1="398.00" x2="494.50" y2="399.00" stroke="#222" stroke-width="0.4"/><line x1="474.60" y1="417.30" x2="494.50" y2="357.00" stroke="#222" stroke-width="0.4"/><line x1="474.60" y1="417.30" x2="494.50" y2="378.20" stroke="#222" stroke-width="0.4"/><line x1="474.60" y1="417.30" x2="494.50" y2="399.00" stroke="#222" stroke-width="0.4"/><line x1="517.50" y1="357.00" x2="540.70" y2="337.30" stroke="#222" stroke-width="0.4"/><line x1="517.50" y1="357.00" x2="540.70" y2="357.00" stroke="#222" stroke-width="0.4"/><line x1="517.50" y1="357.00" x2="540.70" y2="378.20" stroke="#222" stroke-width="0.4"/><line x1="517.50" y1="357.00" x2="540.70" y2="398.00" stroke="#222" stroke-width="0.4"/><line x1="517.50" y1="357.00" x2="540.70" y2="417.70" stroke="#222" stroke-width="0.4"/><line x1="517.50" y1="378.20" x2="540.70" y2="337.30" stroke="#222" stroke-width="0.4"/><line x1="517.50" y1="378.20" x2="540.70" y2="357.00" stroke="#222" stroke-width="0.4"/><line x1="517.50" y1="378.20" x2="540.70" y2="378.20" stroke="#222" stroke-width="0.4"/><line x1="517.50" y1="378.20" x2="540.70" y2="398.00" stroke="#222" stroke-width="0.4"/><line x1="517.50" y1="378.20" x2="540.70" y2="417.70" stroke="#222" stroke-width="0.4"/><line x1="517.50" y1="399.00" x2="540.70" y2="337.30" stroke="#222" stroke-width="0.4"/><line x1="517.50" y1="399.00" x2="540.70" y2="357.00" stroke="#222" stroke-width="0.4"/><line x1="517.50" y1="399.00" x2="540.70" y2="378.20" stroke="#222" stroke-width="0.4"/><line x1="517.50" y1="399.00" x2="540.70" y2="398.00" stroke="#222" stroke-width="0.4"/><line x1="517.50" y1="399.00" x2="540.70" y2="417.70" stroke="#222" stroke-width="0.4"/><line x1="563.70" y1="337.30" x2="577.50" y2="378.20" stroke="#222" stroke-width="0.4"/><line x1="563.70" y1="357.00" x2="577.50" y2="378.20" stroke="#222" stroke-width="0.4"/><line x1="563.70" y1="378.20" x2="577.50" y2="378.20" stroke="#222" stroke-width="0.4"/><line x1="563.70" y1="398.00" x2="577.50" y2="378.20" stroke="#222" stroke-width="0.4"/><line x1="563.70" y1="417.70" x2="577.50" y2="378.20" stroke="#222" stroke-width="0.4"/><path d="M450.50,336.50 L454.49,330.80 L470.71,330.80 L474.70,336.50 L470.71,342.20 L454.49,342.20 Z" fill="#dde9f5" stroke="#888" stroke-width="0.5"/><path d="M450.50,356.30 L454.49,350.60 L470.71,350.60 L474.70,356.30 L470.71,362.00 L454.49,362.00 Z" fill="#f4e79c" stroke="#888" stroke-width="0.5"/><path d="M450.50,377.50 L454.49,371.80 L470.71,371.80 L474.70,377.50 L470.71,383.20 L454.49,383.20 Z" fill="#e9ebeb" stroke="#888" stroke-width="0.5"/><path d="M450.50,398.00 L454.49,392.30 L470.71,392.30 L474.70,398.00 L470.71,403.70 L454.49,403.70 Z" fill="#e4e9ee" stroke="#888" stroke-width="0.5"/><path d="M450.50,417.30 L454.49,411.60 L470.71,411.60 L474.70,417.30 L470.71,423.00 L454.49,423.00 Z" fill="#f1d85e" stroke="#888" stroke-width="0.5"/><path d="M494.40,357.00 L498.39,351.30 L513.61,351.30 L517.60,357.00 L513.61,362.70 L498.39,362.70 Z" fill="#efbf2e" stroke="#888" stroke-width="0.5"/><path d="M494.40,378.20 L498.39,372.50 L513.61,372.50 L517.60,378.20 L513.61,383.90 L498.39,383.90 Z" fill="#efbf2e" stroke="#888" stroke-width="0.5"/><path d="M494.40,399.00 L498.39,393.30 L513.61,393.30 L517.60,399.00 L513.61,404.70 L498.39,404.70 Z" fill="#efbf2e" stroke="#888" stroke-width="0.5"/><path d="M540.90,337.30 L544.89,331.60 L559.51,331.60 L563.50,337.30 L559.51,343.00 L544.89,343.00 Z" fill="#d8d8d8" stroke="#888" stroke-width="0.5"/><path d="M540.90,357.00 L544.89,351.30 L559.51,351.30 L563.50,357.00 L559.51,362.70 L544.89,362.70 Z" fill="#f6f1cc" stroke="#888" stroke-width="0.5"/><path d="M540.90,378.20 L544.89,372.50 L559.51,372.50 L563.50,378.20 L559.51,383.90 L544.89,383.90 Z" fill="#bcd9f0" stroke="#888" stroke-width="0.5"/><path d="M540.90,398.00 L544.89,392.30 L559.51,392.30 L563.50,398.00 L559.51,403.70 L544.89,403.70 Z" fill="#a9d98f" stroke="#888" stroke-width="0.5"/><path d="M540.90,417.70 L544.89,412.00 L559.51,412.00 L563.50,417.70 L559.51,423.40 L544.89,423.40 Z" fill="#8fa6bf" stroke="#888" stroke-width="0.5"/><path d="M577.00,378.20 L581.34,372.00 L605.06,372.00 L609.40,378.20 L605.06,384.40 L581.34,384.40 Z" fill="#efbf2e" stroke="#888" stroke-width="0.5"/><text x="593.20" y="381.00" font-size="7.3" text-anchor="middle" fill="#111">Score</text><line x1="609.40" y1="378.20" x2="612.00" y2="378.20" stroke="#222" stroke-width="0.4"/><text x="504.50" y="415.40" font-size="7.6" text-anchor="middle" fill="#111">Layers of the</text><text x="504.50" y="425.40" font-size="7.6" text-anchor="middle" fill="#111">model</text><rect x="629.20" y="343.10" width="48.70" height="18.60" fill="#3ea095" stroke="none" stroke-width="0" rx="0"/><circle cx="621.10" cy="352.40" r="9.40" fill="#4a8a6a" stroke="#fff" stroke-width="0.8"/><text x="654.60" y="354.70" font-size="6.4" text-anchor="middle" fill="#1a1a1a">L-CARMSeD</text><rect x="626.70" y="369.10" width="52.10" height="18.60" fill="#d02418" stroke="none" stroke-width="0" rx="0"/><circle cx="619.90" cy="378.40" r="9.40" fill="#cc2018" stroke="#fff" stroke-width="0.8"/><text x="654.60" y="380.70" font-size="6.4" text-anchor="middle" fill="#fff">M-CARMSeD</text><rect x="629.20" y="395.10" width="48.70" height="18.60" fill="#f0d858" stroke="none" stroke-width="0" rx="0"/><circle cx="621.10" cy="404.40" r="9.40" fill="#efc030" stroke="#fff" stroke-width="0.8"/><text x="654.60" y="406.70" font-size="6.4" text-anchor="middle" fill="#1a1a1a">H-CARMSeD</text><path d="M203,421 Q203,427.7 209,427.7 L669,427.7 Q675.7,427.7 675.7,421" fill="none" stroke="#888" stroke-width="0.7"/><line x1="447.80" y1="427.70" x2="447.80" y2="436.20" stroke="#888" stroke-width="0.7"/><rect x="376.70" y="436.20" width="148.30" height="17.90" fill="#fff" stroke="#999" stroke-width="0.6" rx="0"/><text x="451.20" y="447.60" font-size="7.7" text-anchor="middle" fill="#111">Training the CAR-AI model</text><rect x="150.60" y="457.20" width="523.90" height="19.20" fill="url(#gBan)" stroke="#111" stroke-width="1.4" rx="0"/><text x="330.00" y="469.60" font-size="7.8" text-anchor="start" fill="#111">Sequence</text><text x="376.50" y="469.60" font-size="7.8" text-anchor="start" fill="#111">Embedding</text><text x="427.70" y="469.60" font-size="7.8" text-anchor="start" fill="#111">Model</text><text x="460.60" y="469.60" font-size="7.8" text-anchor="start" fill="#111">Prediction</text><line x1="366.80" y1="466.80" x2="373.20" y2="466.80" stroke="#111" stroke-width="0.75"/><path d="M374.4,466.8 L371.8,465.2 L371.8,468.4 Z" fill="#111" stroke="none" stroke-width="0"/><line x1="418.00" y1="466.80" x2="424.40" y2="466.80" stroke="#111" stroke-width="0.75"/><path d="M425.6,466.8 L423.0,465.2 L423.0,468.4 Z" fill="#111" stroke="none" stroke-width="0"/><line x1="450.80" y1="466.80" x2="457.20" y2="466.80" stroke="#111" stroke-width="0.75"/><path d="M458.4,466.8 L455.8,465.2 L455.8,468.4 Z" fill="#111" stroke="none" stroke-width="0"/><text x="94.50" y="526.30" font-size="9.6" text-anchor="middle" fill="#111">Model accuracy</text><rect x="27.80" y="528.60" width="133.20" height="126.40" fill="none" stroke="#333" stroke-width="0.7" rx="0"/><line x1="25.80" y1="646.35" x2="27.80" y2="646.35" stroke="#333" stroke-width="0.6"/><text x="25.00" y="649.15" font-size="7.9" text-anchor="end" fill="#222">0.5</text><line x1="25.80" y1="623.00" x2="27.80" y2="623.00" stroke="#333" stroke-width="0.6"/><text x="25.00" y="625.80" font-size="7.9" text-anchor="end" fill="#222">0.6</text><line x1="25.80" y1="599.65" x2="27.80" y2="599.65" stroke="#333" stroke-width="0.6"/><text x="25.00" y="602.45" font-size="7.9" text-anchor="end" fill="#222">0.7</text><line x1="25.80" y1="576.30" x2="27.80" y2="576.30" stroke="#333" stroke-width="0.6"/><text x="25.00" y="579.10" font-size="7.9" text-anchor="end" fill="#222">0.8</text><line x1="25.80" y1="552.95" x2="27.80" y2="552.95" stroke="#333" stroke-width="0.6"/><text x="25.00" y="555.75" font-size="7.9" text-anchor="end" fill="#222">0.9</text><line x1="25.80" y1="529.60" x2="27.80" y2="529.60" stroke="#333" stroke-width="0.6"/><text x="25.00" y="532.40" font-size="7.9" text-anchor="end" fill="#222">1.0</text><line x1="34.20" y1="655.00" x2="34.20" y2="657.00" stroke="#333" stroke-width="0.6"/><text x="34.20" y="664.60" font-size="7.9" text-anchor="middle" fill="#222">0</text><line x1="58.74" y1="655.00" x2="58.74" y2="657.00" stroke="#333" stroke-width="0.6"/><text x="58.74" y="664.60" font-size="7.9" text-anchor="middle" fill="#222">10</text><line x1="83.28" y1="655.00" x2="83.28" y2="657.00" stroke="#333" stroke-width="0.6"/><text x="83.28" y="664.60" font-size="7.9" text-anchor="middle" fill="#222">20</text><line x1="107.82" y1="655.00" x2="107.82" y2="657.00" stroke="#333" stroke-width="0.6"/><text x="107.82" y="664.60" font-size="7.9" text-anchor="middle" fill="#222">30</text><line x1="132.36" y1="655.00" x2="132.36" y2="657.00" stroke="#333" stroke-width="0.6"/><text x="132.36" y="664.60" font-size="7.9" text-anchor="middle" fill="#222">40</text><line x1="156.90" y1="655.00" x2="156.90" y2="657.00" stroke="#333" stroke-width="0.6"/><text x="156.90" y="664.60" font-size="7.9" text-anchor="middle" fill="#222">50</text><text x="94.50" y="673.90" font-size="8.6" text-anchor="middle" fill="#222">Epoch</text><text x="11.20" y="591.20" font-size="8.4" text-anchor="middle" fill="#222" transform="rotate(-90 11.2 591.2)">Accuracy</text><polyline points="34.20,648.76 36.24,611.97 38.28,587.44 40.94,573.14 43.39,565.98 45.44,563.94 48.50,560.87 51.57,558.83 55.66,555.77 59.74,552.70 63.83,550.66 66.90,546.57 68.94,542.48 73.03,542.07 76.09,539.42 79.16,540.44 84.27,539.42 88.36,537.98 94.49,537.98 98.57,538.39 102.66,538.80 106.75,537.37 110.84,537.98 114.92,537.98 119.01,538.39 123.10,537.37 127.19,535.33 131.27,536.76 135.36,536.35 138.43,539.42 142.51,535.94 145.58,534.71 149.67,536.35 154.78,534.71" fill="none" stroke="#86b7e0" stroke-width="0.9" stroke-linejoin="round"/><polyline points="34.20,632.41 36.24,597.66 38.28,606.86 40.94,549.63 43.39,559.85 45.44,556.79 48.50,547.59 50.55,552.70 52.59,550.66 55.66,553.72 58.72,542.48 61.79,550.66 64.85,550.66 66.90,539.42 69.96,538.39 73.03,540.44 76.09,536.35 79.16,540.44 81.20,544.52 84.27,541.46 87.33,537.37 90.40,541.46 93.47,536.35 96.53,540.44 99.60,538.39 102.66,540.44 106.75,536.35 109.82,538.80 112.88,540.44 116.97,539.42 120.03,543.50 123.10,538.39 127.19,539.42 131.27,536.35 135.36,543.50 139.45,537.37 143.54,536.35 147.62,537.37 150.69,538.39 154.78,540.44" fill="none" stroke="#f39a4e" stroke-width="0.9" stroke-linejoin="round"/><rect x="78.80" y="628.50" width="78.30" height="22.50" fill="#fff" stroke="#d4d4d4" stroke-width="0.6" rx="2" fill-opacity="0.85"/><line x1="81.50" y1="633.80" x2="96.50" y2="633.80" stroke="#86b7e0" stroke-width="1.1"/><line x1="81.50" y1="644.30" x2="96.50" y2="644.30" stroke="#f39a4e" stroke-width="1.1"/><text x="101.20" y="636.60" font-size="7.6" text-anchor="start" fill="#222">Train Acc=(0.98)</text><text x="101.20" y="647.10" font-size="7.6" text-anchor="start" fill="#222">Val Acc=(0.95)</text><text x="262.60" y="525.60" font-size="8.6" text-anchor="middle" fill="#111">Measured vs Predicted−Train &amp; Val</text><circle class="hg" cx="208.2" cy="643.5" r="2.1"/><circle class="hg" cx="206.1" cy="641.5" r="2.1"/><circle class="hg" cx="203.2" cy="645.5" r="2.1"/><circle class="hg" cx="214.1" cy="636.0" r="2.1"/><circle class="hg" cx="213.3" cy="636.0" r="2.1"/><circle class="hg" cx="210.3" cy="639.3" r="2.1"/><circle class="hg" cx="202.8" cy="651.9" r="2.1"/><circle class="hg" cx="211.6" cy="639.4" r="2.1"/><circle class="hg" cx="202.7" cy="644.7" r="2.1"/><circle class="hg" cx="209.3" cy="639.3" r="2.1"/><circle class="hg" cx="208.6" cy="636.8" r="2.1"/><circle class="hg" cx="210.4" cy="640.2" r="2.1"/><circle class="hg" cx="209.6" cy="648.4" r="2.1"/><circle class="hg" cx="213.7" cy="640.7" r="2.1"/><circle class="hg" cx="203.2" cy="642.7" r="2.1"/><circle class="hg" cx="206.2" cy="642.6" r="2.1"/><circle class="hg" cx="211.5" cy="638.2" r="2.1"/><circle class="hg" cx="203.4" cy="641.2" r="2.1"/><circle class="hg" cx="208.9" cy="646.5" r="2.1"/><circle class="hg" cx="205.0" cy="645.9" r="2.1"/><circle class="hg" cx="205.9" cy="635.4" r="2.1"/><circle class="hg" cx="211.7" cy="643.7" r="2.1"/><circle class="hg" cx="205.3" cy="639.7" r="2.1"/><circle class="hg" cx="210.1" cy="638.2" r="2.1"/><circle class="hg" cx="203.6" cy="650.7" r="2.1"/><circle class="hg" cx="213.5" cy="639.5" r="2.1"/><circle class="hg" cx="215.5" cy="634.1" r="2.1"/><circle class="hg" cx="205.1" cy="637.4" r="2.1"/><circle class="hg" cx="209.1" cy="636.3" r="2.1"/><circle class="hg" cx="202.6" cy="640.6" r="2.1"/><circle class="hg" cx="202.2" cy="645.0" r="2.1"/><circle class="hg" cx="208.4" cy="629.5" r="2.1"/><circle class="hg" cx="202.1" cy="649.4" r="2.1"/><circle class="hg" cx="216.0" cy="634.6" r="2.1"/><circle class="hg" cx="207.6" cy="637.4" r="2.1"/><circle class="hg" cx="205.6" cy="649.2" r="2.1"/><circle class="hg" cx="213.4" cy="635.4" r="2.1"/><circle class="hg" cx="210.3" cy="640.7" r="2.1"/><circle class="hg" cx="216.8" cy="633.8" r="2.1"/><circle class="hg" cx="211.8" cy="639.5" r="2.1"/><circle class="hg" cx="204.4" cy="652.3" r="2.1"/><circle class="hg" cx="213.7" cy="637.1" r="2.1"/><circle class="hg" cx="221.0" cy="632.5" r="2.1"/><circle class="hg" cx="225.3" cy="612.7" r="2.1"/><circle class="hg" cx="232.0" cy="623.8" r="2.1"/><circle class="hg" cx="230.7" cy="631.9" r="2.1"/><circle class="hg" cx="230.1" cy="617.3" r="2.1"/><circle class="hg" cx="232.2" cy="620.0" r="2.1"/><circle class="hg" cx="233.3" cy="622.1" r="2.1"/><circle class="hg" cx="225.6" cy="624.5" r="2.1"/><circle class="hg" cx="232.2" cy="614.4" r="2.1"/><circle class="hg" cx="229.7" cy="628.1" r="2.1"/><circle class="hg" cx="231.8" cy="611.0" r="2.1"/><circle class="hg" cx="224.5" cy="629.5" r="2.1"/><circle class="hg" cx="227.5" cy="621.5" r="2.1"/><circle class="hg" cx="229.6" cy="610.4" r="2.1"/><circle class="hg" cx="228.4" cy="611.0" r="2.1"/><circle class="hg" cx="228.8" cy="627.0" r="2.1"/><circle class="hg" cx="235.3" cy="615.2" r="2.1"/><circle class="hg" cx="230.5" cy="619.0" r="2.1"/><circle class="hg" cx="231.4" cy="621.0" r="2.1"/><circle class="hg" cx="229.4" cy="622.6" r="2.1"/><circle class="hg" cx="230.7" cy="617.4" r="2.1"/><circle class="hg" cx="233.2" cy="617.1" r="2.1"/><circle class="hg" cx="236.1" cy="608.8" r="2.1"/><circle class="hg" cx="226.5" cy="623.1" r="2.1"/><circle class="hg" cx="232.1" cy="622.6" r="2.1"/><circle class="hg" cx="229.3" cy="623.8" r="2.1"/><circle class="hg" cx="225.6" cy="605.2" r="2.1"/><circle class="hg" cx="226.5" cy="628.5" r="2.1"/><circle class="hg" cx="231.0" cy="618.9" r="2.1"/><circle class="hg" cx="230.0" cy="624.8" r="2.1"/><circle class="hg" cx="243.4" cy="593.9" r="2.1"/><circle class="hg" cx="254.1" cy="590.8" r="2.1"/><circle class="hg" cx="240.5" cy="597.1" r="2.1"/><circle class="hg" cx="241.9" cy="596.4" r="2.1"/><circle class="hg" cx="230.5" cy="601.6" r="2.1"/><circle class="hg" cx="245.6" cy="590.4" r="2.1"/><circle class="hg" cx="244.1" cy="598.6" r="2.1"/><circle class="hg" cx="248.9" cy="597.7" r="2.1"/><circle class="hg" cx="235.1" cy="599.3" r="2.1"/><circle class="hg" cx="242.5" cy="598.5" r="2.1"/><circle class="hg" cx="243.7" cy="586.3" r="2.1"/><circle class="hg" cx="245.5" cy="589.5" r="2.1"/><circle class="hg" cx="243.7" cy="590.4" r="2.1"/><circle class="hg" cx="245.6" cy="598.7" r="2.1"/><circle class="hg" cx="242.6" cy="596.9" r="2.1"/><circle class="hg" cx="246.7" cy="594.4" r="2.1"/><circle class="hg" cx="244.9" cy="600.2" r="2.1"/><circle class="hg" cx="247.1" cy="592.6" r="2.1"/><circle class="hg" cx="270.2" cy="567.2" r="2.1"/><circle class="hg" cx="265.9" cy="582.7" r="2.1"/><circle class="hg" cx="266.3" cy="590.6" r="2.1"/><circle class="hg" cx="266.4" cy="589.8" r="2.1"/><circle class="hg" cx="250.6" cy="597.8" r="2.1"/><circle class="hg" cx="261.9" cy="583.3" r="2.1"/><circle class="hg" cx="252.9" cy="594.2" r="2.1"/><circle class="hg" cx="271.3" cy="582.4" r="2.1"/><circle class="hg" cx="265.6" cy="577.0" r="2.1"/><circle class="hg" cx="258.6" cy="587.4" r="2.1"/><circle class="hg" cx="272.4" cy="587.9" r="2.1"/><circle class="hg" cx="265.3" cy="600.1" r="2.1"/><circle class="hg" cx="266.5" cy="582.3" r="2.1"/><circle class="hg" cx="260.1" cy="607.7" r="2.1"/><circle class="hg" cx="260.2" cy="589.4" r="2.1"/><circle class="hg" cx="266.3" cy="588.0" r="2.1"/><circle class="hg" cx="265.4" cy="576.7" r="2.1"/><circle class="hg" cx="273.6" cy="585.0" r="2.1"/><circle class="hg" cx="268.5" cy="578.9" r="2.1"/><circle class="hg" cx="263.8" cy="597.8" r="2.1"/><circle class="hg" cx="264.0" cy="589.4" r="2.1"/><circle class="hg" cx="268.0" cy="578.9" r="2.1"/><circle class="hg" cx="251.7" cy="606.0" r="2.1"/><circle class="hg" cx="258.3" cy="605.5" r="2.1"/><circle class="hg" cx="262.0" cy="586.3" r="2.1"/><circle class="hg" cx="266.2" cy="591.9" r="2.1"/><circle class="hg" cx="268.5" cy="592.4" r="2.1"/><circle class="hg" cx="266.8" cy="592.8" r="2.1"/><circle class="hg" cx="275.6" cy="582.6" r="2.1"/><circle class="hg" cx="263.6" cy="596.9" r="2.1"/><circle class="hg" cx="250.8" cy="601.4" r="2.1"/><circle class="hg" cx="258.8" cy="606.9" r="2.1"/><circle class="hg" cx="257.7" cy="599.0" r="2.1"/><circle class="hg" cx="262.1" cy="591.4" r="2.1"/><circle class="hg" cx="261.4" cy="594.9" r="2.1"/><circle class="hg" cx="270.8" cy="576.9" r="2.1"/><circle class="hg" cx="269.2" cy="588.3" r="2.1"/><circle class="hg" cx="257.2" cy="588.6" r="2.1"/><circle class="hg" cx="264.8" cy="596.5" r="2.1"/><circle class="hg" cx="253.7" cy="600.8" r="2.1"/><circle class="hg" cx="270.4" cy="584.4" r="2.1"/><circle class="hg" cx="266.2" cy="591.8" r="2.1"/><circle class="hg" cx="259.1" cy="586.1" r="2.1"/><circle class="hg" cx="253.9" cy="600.1" r="2.1"/><circle class="hg" cx="264.7" cy="581.9" r="2.1"/><circle class="hg" cx="275.2" cy="586.0" r="2.1"/><circle class="hg" cx="275.7" cy="592.3" r="2.1"/><circle class="hg" cx="276.1" cy="588.8" r="2.1"/><circle class="hg" cx="276.1" cy="600.6" r="2.1"/><circle class="hg" cx="274.2" cy="583.4" r="2.1"/><circle class="hg" cx="275.6" cy="569.8" r="2.1"/><circle class="hg" cx="275.1" cy="599.3" r="2.1"/><circle class="hg" cx="275.4" cy="574.1" r="2.1"/><circle class="hg" cx="276.4" cy="569.2" r="2.1"/><circle class="hg" cx="276.1" cy="570.3" r="2.1"/><circle class="hg" cx="276.3" cy="563.7" r="2.1"/><circle class="hg" cx="274.1" cy="572.5" r="2.1"/><circle class="hg" cx="276.8" cy="568.0" r="2.1"/><circle class="hg" cx="275.4" cy="580.0" r="2.1"/><circle class="hg" cx="274.4" cy="557.6" r="2.1"/><circle class="hg" cx="277.7" cy="572.3" r="2.1"/><circle class="hg" cx="276.4" cy="562.5" r="2.1"/><circle class="hg" cx="290.4" cy="561.3" r="2.1"/><circle class="hg" cx="283.8" cy="562.9" r="2.1"/><circle class="hg" cx="276.5" cy="561.4" r="2.1"/><circle class="hg" cx="282.5" cy="562.7" r="2.1"/><circle class="hg" cx="280.8" cy="561.2" r="2.1"/><circle class="hg" cx="275.9" cy="561.0" r="2.1"/><circle class="hg" cx="285.5" cy="561.7" r="2.1"/><circle class="hg" cx="291.0" cy="572.6" r="2.1"/><circle class="hg" cx="324.2" cy="603.0" r="2.1"/><circle class="hg" cx="217.0" cy="587.8" r="2.1"/><circle class="hg" cx="217.0" cy="591.6" r="2.1"/><circle class="hg" cx="229.3" cy="640.0" r="2.1"/><circle class="hg" cx="217.0" cy="603.0" r="2.1"/><circle class="hg" cx="214.0" cy="610.0" r="2.1"/><circle class="hg" cx="224.0" cy="597.0" r="2.1"/><circle class="hg" cx="232.0" cy="594.0" r="2.1"/><circle class="hg" cx="238.0" cy="589.0" r="2.1"/><circle class="hg" cx="212.0" cy="612.0" r="2.1"/><circle class="hg" cx="252.0" cy="598.0" r="2.1"/><circle class="hg" cx="256.0" cy="603.0" r="2.1"/><circle class="hg" cx="201.0" cy="646.0" r="2.1"/><circle class="hg" cx="202.0" cy="652.0" r="2.1"/><circle class="hg" cx="204.0" cy="654.0" r="2.1"/><circle class="hg" cx="200.5" cy="640.0" r="2.1"/><circle class="hp" cx="206.0" cy="641.7" r="2.1"/><circle class="hp" cx="224.3" cy="623.8" r="2.1"/><circle class="hp" cx="205.9" cy="629.6" r="2.1"/><circle class="hp" cx="215.1" cy="635.1" r="2.1"/><circle class="hp" cx="218.7" cy="628.5" r="2.1"/><circle class="hp" cx="212.8" cy="639.3" r="2.1"/><circle class="hp" cx="207.8" cy="651.6" r="2.1"/><circle class="hp" cx="210.5" cy="634.8" r="2.1"/><circle class="hp" cx="221.6" cy="633.1" r="2.1"/><circle class="hp" cx="204.6" cy="645.3" r="2.1"/><circle class="hp" cx="213.1" cy="636.6" r="2.1"/><circle class="hp" cx="207.2" cy="638.7" r="2.1"/><circle class="hp" cx="222.1" cy="627.0" r="2.1"/><circle class="hp" cx="203.2" cy="642.9" r="2.1"/><circle class="hp" cx="220.5" cy="629.4" r="2.1"/><circle class="hp" cx="220.3" cy="628.4" r="2.1"/><circle class="hp" cx="209.2" cy="643.7" r="2.1"/><circle class="hp" cx="201.7" cy="649.8" r="2.1"/><circle class="hp" cx="212.9" cy="639.3" r="2.1"/><circle class="hp" cx="208.6" cy="642.2" r="2.1"/><circle class="hp" cx="214.2" cy="635.9" r="2.1"/><circle class="hp" cx="214.4" cy="634.5" r="2.1"/><circle class="hp" cx="212.8" cy="641.3" r="2.1"/><circle class="hp" cx="209.2" cy="636.3" r="2.1"/><circle class="hp" cx="209.3" cy="641.8" r="2.1"/><circle class="hp" cx="211.6" cy="638.9" r="2.1"/><circle class="hp" cx="212.0" cy="638.3" r="2.1"/><circle class="hp" cx="207.2" cy="636.6" r="2.1"/><circle class="hp" cx="216.2" cy="637.3" r="2.1"/><circle class="hp" cx="212.4" cy="635.0" r="2.1"/><circle class="hp" cx="210.1" cy="633.6" r="2.1"/><circle class="hp" cx="205.0" cy="649.6" r="2.1"/><circle class="hp" cx="210.5" cy="644.9" r="2.1"/><circle class="hp" cx="199.7" cy="640.0" r="2.1"/><circle class="hp" cx="212.6" cy="647.1" r="2.1"/><circle class="hp" cx="206.0" cy="637.9" r="2.1"/><circle class="hp" cx="210.4" cy="643.5" r="2.1"/><circle class="hp" cx="213.8" cy="635.3" r="2.1"/><circle class="hp" cx="218.8" cy="630.2" r="2.1"/><circle class="hp" cx="213.2" cy="639.2" r="2.1"/><circle class="hp" cx="220.2" cy="629.7" r="2.1"/><circle class="hp" cx="211.8" cy="629.9" r="2.1"/><circle class="hp" cx="213.2" cy="640.2" r="2.1"/><circle class="hp" cx="213.7" cy="641.7" r="2.1"/><circle class="hp" cx="216.3" cy="636.0" r="2.1"/><circle class="hp" cx="218.5" cy="643.7" r="2.1"/><circle class="hp" cx="215.2" cy="630.1" r="2.1"/><circle class="hp" cx="219.7" cy="642.0" r="2.1"/><circle class="hp" cx="212.9" cy="641.6" r="2.1"/><circle class="hp" cx="215.0" cy="632.1" r="2.1"/><circle class="hp" cx="208.0" cy="645.4" r="2.1"/><circle class="hp" cx="216.2" cy="637.8" r="2.1"/><circle class="hp" cx="214.3" cy="633.3" r="2.1"/><circle class="hp" cx="216.1" cy="633.8" r="2.1"/><circle class="hp" cx="212.4" cy="636.8" r="2.1"/><circle class="hp" cx="212.7" cy="640.7" r="2.1"/><circle class="hp" cx="205.9" cy="643.3" r="2.1"/><circle class="hp" cx="207.1" cy="635.4" r="2.1"/><circle class="hp" cx="203.9" cy="637.1" r="2.1"/><circle class="hp" cx="210.8" cy="643.1" r="2.1"/><circle class="hp" cx="213.3" cy="634.5" r="2.1"/><circle class="hp" cx="206.4" cy="636.9" r="2.1"/><circle class="hp" cx="219.5" cy="627.8" r="2.1"/><circle class="hp" cx="212.7" cy="629.8" r="2.1"/><circle class="hp" cx="205.3" cy="635.9" r="2.1"/><circle class="hp" cx="217.1" cy="634.9" r="2.1"/><circle class="hp" cx="204.7" cy="649.4" r="2.1"/><circle class="hp" cx="208.4" cy="631.1" r="2.1"/><circle class="hp" cx="201.9" cy="647.2" r="2.1"/><circle class="hp" cx="205.0" cy="639.4" r="2.1"/><circle class="hp" cx="212.4" cy="638.2" r="2.1"/><circle class="hp" cx="215.8" cy="635.4" r="2.1"/><circle class="hp" cx="220.3" cy="630.9" r="2.1"/><circle class="hp" cx="205.4" cy="645.1" r="2.1"/><circle class="hp" cx="204.5" cy="642.5" r="2.1"/><circle class="hp" cx="211.2" cy="638.5" r="2.1"/><circle class="hp" cx="208.4" cy="632.3" r="2.1"/><circle class="hp" cx="207.1" cy="645.5" r="2.1"/><circle class="hp" cx="209.9" cy="638.7" r="2.1"/><circle class="hp" cx="209.0" cy="637.1" r="2.1"/><circle class="hp" cx="233.8" cy="615.8" r="2.1"/><circle class="hp" cx="228.6" cy="619.8" r="2.1"/><circle class="hp" cx="221.6" cy="617.9" r="2.1"/><circle class="hp" cx="228.8" cy="626.5" r="2.1"/><circle class="hp" cx="228.1" cy="630.1" r="2.1"/><circle class="hp" cx="226.8" cy="617.4" r="2.1"/><circle class="hp" cx="229.4" cy="621.3" r="2.1"/><circle class="hp" cx="234.1" cy="617.7" r="2.1"/><circle class="hp" cx="228.1" cy="619.2" r="2.1"/><circle class="hp" cx="230.4" cy="620.9" r="2.1"/><circle class="hp" cx="233.7" cy="615.5" r="2.1"/><circle class="hp" cx="224.8" cy="623.1" r="2.1"/><circle class="hp" cx="227.7" cy="621.6" r="2.1"/><circle class="hp" cx="228.0" cy="627.2" r="2.1"/><circle class="hp" cx="230.2" cy="623.4" r="2.1"/><circle class="hp" cx="230.9" cy="616.1" r="2.1"/><circle class="hp" cx="235.5" cy="604.3" r="2.1"/><circle class="hp" cx="234.0" cy="612.9" r="2.1"/><circle class="hp" cx="225.9" cy="609.8" r="2.1"/><circle class="hp" cx="230.0" cy="625.2" r="2.1"/><circle class="hp" cx="240.1" cy="618.8" r="2.1"/><circle class="hp" cx="236.0" cy="619.4" r="2.1"/><circle class="hp" cx="236.0" cy="616.1" r="2.1"/><circle class="hp" cx="231.7" cy="616.5" r="2.1"/><circle class="hp" cx="228.7" cy="615.4" r="2.1"/><circle class="hp" cx="230.5" cy="611.0" r="2.1"/><circle class="hp" cx="238.6" cy="620.9" r="2.1"/><circle class="hp" cx="230.5" cy="621.5" r="2.1"/><circle class="hp" cx="233.9" cy="612.4" r="2.1"/><circle class="hp" cx="229.9" cy="625.6" r="2.1"/><circle class="hp" cx="234.7" cy="617.0" r="2.1"/><circle class="hp" cx="234.9" cy="627.2" r="2.1"/><circle class="hp" cx="235.1" cy="609.1" r="2.1"/><circle class="hp" cx="230.2" cy="617.7" r="2.1"/><circle class="hp" cx="232.1" cy="609.9" r="2.1"/><circle class="hp" cx="231.0" cy="615.0" r="2.1"/><circle class="hp" cx="231.7" cy="625.4" r="2.1"/><circle class="hp" cx="234.2" cy="611.2" r="2.1"/><circle class="hp" cx="232.0" cy="625.4" r="2.1"/><circle class="hp" cx="231.9" cy="620.7" r="2.1"/><circle class="hp" cx="238.4" cy="611.3" r="2.1"/><circle class="hp" cx="237.3" cy="626.2" r="2.1"/><circle class="hp" cx="233.6" cy="620.9" r="2.1"/><circle class="hp" cx="229.3" cy="624.2" r="2.1"/><circle class="hp" cx="232.7" cy="633.6" r="2.1"/><circle class="hp" cx="230.3" cy="609.6" r="2.1"/><circle class="hp" cx="222.1" cy="628.0" r="2.1"/><circle class="hp" cx="232.3" cy="611.7" r="2.1"/><circle class="hp" cx="229.8" cy="620.0" r="2.1"/><circle class="hp" cx="227.1" cy="619.5" r="2.1"/><circle class="hp" cx="226.3" cy="618.1" r="2.1"/><circle class="hp" cx="231.8" cy="620.8" r="2.1"/><circle class="hp" cx="231.4" cy="616.6" r="2.1"/><circle class="hp" cx="229.4" cy="626.1" r="2.1"/><circle class="hp" cx="235.0" cy="625.1" r="2.1"/><circle class="hp" cx="232.5" cy="614.8" r="2.1"/><circle class="hp" cx="227.6" cy="622.3" r="2.1"/><circle class="hp" cx="227.6" cy="625.7" r="2.1"/><circle class="hp" cx="233.4" cy="618.7" r="2.1"/><circle class="hp" cx="239.3" cy="618.8" r="2.1"/><circle class="hp" cx="245.1" cy="597.7" r="2.1"/><circle class="hp" cx="245.4" cy="582.9" r="2.1"/><circle class="hp" cx="245.7" cy="597.1" r="2.1"/><circle class="hp" cx="247.2" cy="594.8" r="2.1"/><circle class="hp" cx="246.5" cy="596.2" r="2.1"/><circle class="hp" cx="247.9" cy="595.5" r="2.1"/><circle class="hp" cx="241.3" cy="601.4" r="2.1"/><circle class="hp" cx="243.6" cy="594.1" r="2.1"/><circle class="hp" cx="246.0" cy="599.5" r="2.1"/><circle class="hp" cx="246.6" cy="598.0" r="2.1"/><circle class="hp" cx="247.7" cy="592.5" r="2.1"/><circle class="hp" cx="246.4" cy="593.0" r="2.1"/><circle class="hp" cx="244.0" cy="600.3" r="2.1"/><circle class="hp" cx="245.4" cy="592.8" r="2.1"/><circle class="hp" cx="247.6" cy="596.0" r="2.1"/><circle class="hp" cx="246.3" cy="598.8" r="2.1"/><circle class="hp" cx="268.7" cy="574.0" r="2.1"/><circle class="hp" cx="263.0" cy="588.5" r="2.1"/><circle class="hp" cx="270.8" cy="578.4" r="2.1"/><circle class="hp" cx="264.1" cy="581.4" r="2.1"/><circle class="hp" cx="262.9" cy="590.1" r="2.1"/><circle class="hp" cx="261.2" cy="607.2" r="2.1"/><circle class="hp" cx="259.9" cy="579.2" r="2.1"/><circle class="hp" cx="265.6" cy="583.8" r="2.1"/><circle class="hp" cx="266.4" cy="587.2" r="2.1"/><circle class="hp" cx="255.8" cy="601.5" r="2.1"/><circle class="hp" cx="267.0" cy="576.9" r="2.1"/><circle class="hp" cx="253.3" cy="595.3" r="2.1"/><circle class="hp" cx="259.2" cy="600.4" r="2.1"/><circle class="hp" cx="271.9" cy="577.5" r="2.1"/><circle class="hp" cx="272.9" cy="592.8" r="2.1"/><circle class="hp" cx="258.1" cy="592.7" r="2.1"/><circle class="hp" cx="267.4" cy="587.0" r="2.1"/><circle class="hp" cx="254.1" cy="595.6" r="2.1"/><circle class="hp" cx="265.2" cy="588.2" r="2.1"/><circle class="hp" cx="256.7" cy="600.0" r="2.1"/><circle class="hp" cx="262.5" cy="595.3" r="2.1"/><circle class="hp" cx="262.2" cy="590.7" r="2.1"/><circle class="hp" cx="265.7" cy="595.0" r="2.1"/><circle class="hp" cx="267.4" cy="578.2" r="2.1"/><circle class="hp" cx="263.6" cy="581.7" r="2.1"/><circle class="hp" cx="266.3" cy="591.0" r="2.1"/><circle class="hp" cx="267.9" cy="577.2" r="2.1"/><circle class="hp" cx="263.5" cy="591.0" r="2.1"/><circle class="hp" cx="256.7" cy="601.9" r="2.1"/><circle class="hp" cx="261.6" cy="596.2" r="2.1"/><circle class="hp" cx="250.4" cy="594.8" r="2.1"/><circle class="hp" cx="264.2" cy="590.2" r="2.1"/><circle class="hp" cx="264.2" cy="596.2" r="2.1"/><circle class="hp" cx="259.4" cy="590.9" r="2.1"/><circle class="hp" cx="258.8" cy="582.9" r="2.1"/><circle class="hp" cx="260.1" cy="595.3" r="2.1"/><circle class="hp" cx="265.9" cy="582.9" r="2.1"/><circle class="hp" cx="261.7" cy="586.2" r="2.1"/><circle class="hp" cx="270.9" cy="591.1" r="2.1"/><circle class="hp" cx="269.5" cy="600.5" r="2.1"/><circle class="hp" cx="260.3" cy="595.2" r="2.1"/><circle class="hp" cx="267.8" cy="590.8" r="2.1"/><circle class="hp" cx="249.4" cy="595.4" r="2.1"/><circle class="hp" cx="268.7" cy="586.9" r="2.1"/><circle class="hp" cx="276.1" cy="590.6" r="2.1"/><circle class="hp" cx="264.9" cy="588.9" r="2.1"/><circle class="hp" cx="268.4" cy="583.4" r="2.1"/><circle class="hp" cx="265.1" cy="574.2" r="2.1"/><circle class="hp" cx="247.7" cy="585.7" r="2.1"/><circle class="hp" cx="265.0" cy="582.8" r="2.1"/><circle class="hp" cx="275.5" cy="587.2" r="2.1"/><circle class="hp" cx="262.0" cy="589.5" r="2.1"/><circle class="hp" cx="257.6" cy="592.2" r="2.1"/><circle class="hp" cx="262.9" cy="596.4" r="2.1"/><circle class="hp" cx="263.4" cy="589.8" r="2.1"/><circle class="hp" cx="265.9" cy="593.3" r="2.1"/><circle class="hp" cx="264.5" cy="585.8" r="2.1"/><circle class="hp" cx="265.2" cy="584.4" r="2.1"/><circle class="hp" cx="263.9" cy="602.2" r="2.1"/><circle class="hp" cx="261.2" cy="584.3" r="2.1"/><circle class="hp" cx="268.9" cy="582.2" r="2.1"/><circle class="hp" cx="262.8" cy="605.8" r="2.1"/><circle class="hp" cx="268.0" cy="589.2" r="2.1"/><circle class="hp" cx="263.2" cy="588.1" r="2.1"/><circle class="hp" cx="260.3" cy="604.4" r="2.1"/><circle class="hp" cx="262.0" cy="589.2" r="2.1"/><circle class="hp" cx="264.8" cy="587.4" r="2.1"/><circle class="hp" cx="264.4" cy="583.8" r="2.1"/><circle class="hp" cx="254.3" cy="585.8" r="2.1"/><circle class="hp" cx="263.9" cy="594.8" r="2.1"/><circle class="hp" cx="267.2" cy="578.6" r="2.1"/><circle class="hp" cx="268.8" cy="594.3" r="2.1"/><circle class="hp" cx="264.5" cy="594.1" r="2.1"/><circle class="hp" cx="270.2" cy="576.7" r="2.1"/><circle class="hp" cx="265.4" cy="578.7" r="2.1"/><circle class="hp" cx="263.6" cy="588.2" r="2.1"/><circle class="hp" cx="268.0" cy="591.5" r="2.1"/><circle class="hp" cx="270.5" cy="569.6" r="2.1"/><circle class="hp" cx="262.5" cy="595.6" r="2.1"/><circle class="hp" cx="260.5" cy="599.4" r="2.1"/><circle class="hp" cx="264.3" cy="584.9" r="2.1"/><circle class="hp" cx="259.1" cy="582.5" r="2.1"/><circle class="hp" cx="260.1" cy="580.7" r="2.1"/><circle class="hp" cx="257.8" cy="594.4" r="2.1"/><circle class="hp" cx="264.7" cy="595.0" r="2.1"/><circle class="hp" cx="261.8" cy="588.5" r="2.1"/><circle class="hp" cx="271.6" cy="589.0" r="2.1"/><circle class="hp" cx="264.5" cy="590.7" r="2.1"/><circle class="hp" cx="269.3" cy="580.7" r="2.1"/><circle class="hp" cx="267.5" cy="605.5" r="2.1"/><circle class="hp" cx="264.4" cy="568.3" r="2.1"/><circle class="hp" cx="264.5" cy="591.2" r="2.1"/><circle class="hp" cx="269.7" cy="583.7" r="2.1"/><circle class="hp" cx="257.7" cy="589.9" r="2.1"/><circle class="hp" cx="267.5" cy="591.4" r="2.1"/><circle class="hp" cx="275.2" cy="577.6" r="2.1"/><circle class="hp" cx="274.5" cy="570.2" r="2.1"/><circle class="hp" cx="275.7" cy="571.8" r="2.1"/><circle class="hp" cx="275.4" cy="566.8" r="2.1"/><circle class="hp" cx="275.7" cy="576.2" r="2.1"/><circle class="hp" cx="275.5" cy="570.3" r="2.1"/><circle class="hp" cx="276.6" cy="569.9" r="2.1"/><circle class="hp" cx="277.4" cy="561.7" r="2.1"/><circle class="hp" cx="278.9" cy="561.5" r="2.1"/><circle class="hp" cx="272.1" cy="564.3" r="2.1"/><circle class="hp" cx="279.1" cy="562.0" r="2.1"/><circle class="hp" cx="284.1" cy="560.4" r="2.1"/><circle class="hp" cx="283.9" cy="562.0" r="2.1"/><circle class="hp" cx="217.5" cy="591.6" r="2.1"/><circle class="hp" cx="206.0" cy="620.0" r="2.1"/><circle class="hp" cx="209.0" cy="619.0" r="2.1"/><line x1="198.60" y1="655.90" x2="326.90" y2="528.30" stroke="#333" stroke-width="0.5"/><rect x="198.40" y="528.10" width="128.70" height="128.00" fill="none" stroke="#333" stroke-width="0.7" rx="0"/><line x1="196.80" y1="646.10" x2="198.40" y2="646.10" stroke="#333" stroke-width="0.4"/><text x="195.80" y="647.40" font-size="3.8" text-anchor="end" fill="#333">0.25</text><line x1="208.90" y1="656.10" x2="208.90" y2="657.70" stroke="#333" stroke-width="0.4"/><text x="208.90" y="661.60" font-size="3.8" text-anchor="middle" fill="#333">0.25</text><line x1="196.80" y1="631.27" x2="198.40" y2="631.27" stroke="#333" stroke-width="0.4"/><text x="195.80" y="632.57" font-size="3.8" text-anchor="end" fill="#333">0.50</text><line x1="223.62" y1="656.10" x2="223.62" y2="657.70" stroke="#333" stroke-width="0.4"/><text x="223.62" y="661.60" font-size="3.8" text-anchor="middle" fill="#333">0.50</text><line x1="196.80" y1="616.45" x2="198.40" y2="616.45" stroke="#333" stroke-width="0.4"/><text x="195.80" y="617.75" font-size="3.8" text-anchor="end" fill="#333">0.75</text><line x1="238.35" y1="656.10" x2="238.35" y2="657.70" stroke="#333" stroke-width="0.4"/><text x="238.35" y="661.60" font-size="3.8" text-anchor="middle" fill="#333">0.75</text><line x1="196.80" y1="601.62" x2="198.40" y2="601.62" stroke="#333" stroke-width="0.4"/><text x="195.80" y="602.92" font-size="3.8" text-anchor="end" fill="#333">1.00</text><line x1="253.07" y1="656.10" x2="253.07" y2="657.70" stroke="#333" stroke-width="0.4"/><text x="253.07" y="661.60" font-size="3.8" text-anchor="middle" fill="#333">1.00</text><line x1="196.80" y1="586.80" x2="198.40" y2="586.80" stroke="#333" stroke-width="0.4"/><text x="195.80" y="588.10" font-size="3.8" text-anchor="end" fill="#333">1.25</text><line x1="267.80" y1="656.10" x2="267.80" y2="657.70" stroke="#333" stroke-width="0.4"/><text x="267.80" y="661.60" font-size="3.8" text-anchor="middle" fill="#333">1.25</text><line x1="196.80" y1="571.98" x2="198.40" y2="571.98" stroke="#333" stroke-width="0.4"/><text x="195.80" y="573.27" font-size="3.8" text-anchor="end" fill="#333">1.50</text><line x1="282.52" y1="656.10" x2="282.52" y2="657.70" stroke="#333" stroke-width="0.4"/><text x="282.52" y="661.60" font-size="3.8" text-anchor="middle" fill="#333">1.50</text><line x1="196.80" y1="557.15" x2="198.40" y2="557.15" stroke="#333" stroke-width="0.4"/><text x="195.80" y="558.45" font-size="3.8" text-anchor="end" fill="#333">1.75</text><line x1="297.25" y1="656.10" x2="297.25" y2="657.70" stroke="#333" stroke-width="0.4"/><text x="297.25" y="661.60" font-size="3.8" text-anchor="middle" fill="#333">1.75</text><line x1="196.80" y1="542.33" x2="198.40" y2="542.33" stroke="#333" stroke-width="0.4"/><text x="195.80" y="543.62" font-size="3.8" text-anchor="end" fill="#333">2.00</text><line x1="311.98" y1="656.10" x2="311.98" y2="657.70" stroke="#333" stroke-width="0.4"/><text x="311.98" y="661.60" font-size="3.8" text-anchor="middle" fill="#333">2.00</text><text x="262.00" y="671.00" font-size="9.0" text-anchor="middle" fill="#111">Measured</text><text x="185.60" y="592.30" font-size="9.0" text-anchor="middle" fill="#111" transform="rotate(-90 185.6 592.3)">Predicted</text><rect x="201.30" y="531.20" width="73.80" height="22.50" fill="#fff" stroke="#ddd" stroke-width="0.5" rx="1.5" fill-opacity="0.85"/><circle cx="212.00" cy="537.80" r="2.20" fill="#2a2a2a" stroke="none" stroke-width="0" fill-opacity="0.7"/><circle cx="212.00" cy="547.60" r="2.20" fill="#f25cc9" stroke="none" stroke-width="0" fill-opacity="0.75"/><text x="224.60" y="540.60" font-size="7.7" text-anchor="start" fill="#222">Train (R²=0.87)</text><text x="224.60" y="550.40" font-size="7.7" text-anchor="start" fill="#222">Val (R²=0.83)</text><text x="428.70" y="526.00" font-size="8.7" text-anchor="middle" fill="#111">Prediction on Val</text><circle class="ib" cx="384.2" cy="654.3" r="2.3"/><circle class="ib" cx="379.0" cy="624.1" r="2.3"/><circle class="ib" cx="384.0" cy="627.9" r="2.3"/><circle class="ib" cx="384.6" cy="631.3" r="2.3"/><circle class="ib" cx="383.0" cy="623.0" r="2.3"/><circle class="ib" cx="382.5" cy="627.3" r="2.3"/><circle class="ib" cx="381.5" cy="628.7" r="2.3"/><circle class="ib" cx="387.7" cy="637.1" r="2.3"/><circle class="ib" cx="383.1" cy="631.5" r="2.3"/><circle class="ib" cx="381.6" cy="647.4" r="2.3"/><circle class="ib" cx="385.8" cy="634.1" r="2.3"/><circle class="ib" cx="384.8" cy="631.7" r="2.3"/><circle class="ib" cx="386.7" cy="636.4" r="2.3"/><circle class="ib" cx="382.2" cy="639.9" r="2.3"/><circle class="ib" cx="383.7" cy="627.1" r="2.3"/><circle class="ib" cx="382.1" cy="638.8" r="2.3"/><circle class="ib" cx="385.0" cy="638.6" r="2.3"/><circle class="ib" cx="380.6" cy="632.5" r="2.3"/><circle class="ib" cx="383.9" cy="631.7" r="2.3"/><circle class="ib" cx="385.4" cy="646.0" r="2.3"/><circle class="ib" cx="382.7" cy="638.8" r="2.3"/><circle class="ib" cx="386.7" cy="628.0" r="2.3"/><circle class="ib" cx="384.6" cy="642.9" r="2.3"/><circle class="ib" cx="389.1" cy="644.8" r="2.3"/><circle class="ib" cx="386.4" cy="640.9" r="2.3"/><circle class="ib" cx="385.4" cy="642.5" r="2.3"/><circle class="ib" cx="377.4" cy="613.8" r="2.3"/><circle class="ib" cx="384.7" cy="640.3" r="2.3"/><circle class="ib" cx="381.9" cy="636.9" r="2.3"/><circle class="ib" cx="383.7" cy="614.5" r="2.3"/><circle class="ib" cx="385.5" cy="652.4" r="2.3"/><circle class="ib" cx="386.3" cy="653.2" r="2.3"/><circle class="ib" cx="383.8" cy="641.8" r="2.3"/><circle class="ib" cx="383.8" cy="623.4" r="2.3"/><circle class="ib" cx="379.4" cy="649.9" r="2.3"/><circle class="ib" cx="385.3" cy="624.2" r="2.3"/><circle class="ib" cx="385.6" cy="644.2" r="2.3"/><circle class="ib" cx="385.1" cy="631.0" r="2.3"/><circle class="ib" cx="385.3" cy="627.0" r="2.3"/><circle class="ib" cx="377.6" cy="627.2" r="2.3"/><circle class="ib" cx="384.7" cy="634.3" r="2.3"/><circle class="ib" cx="381.2" cy="610.5" r="2.3"/><circle class="ib" cx="383.6" cy="639.3" r="2.3"/><circle class="ib" cx="382.4" cy="627.1" r="2.3"/><circle class="ib" cx="381.6" cy="624.5" r="2.3"/><circle class="ib" cx="382.2" cy="633.3" r="2.3"/><circle class="ib" cx="381.8" cy="634.4" r="2.3"/><circle class="ib" cx="386.1" cy="652.0" r="2.3"/><circle class="ib" cx="382.2" cy="633.0" r="2.3"/><circle class="ib" cx="385.9" cy="634.0" r="2.3"/><circle class="ib" cx="383.2" cy="645.8" r="2.3"/><circle class="ib" cx="384.8" cy="630.6" r="2.3"/><circle class="ib" cx="378.4" cy="639.4" r="2.3"/><circle class="ib" cx="384.3" cy="623.6" r="2.3"/><circle class="ib" cx="382.8" cy="635.9" r="2.3"/><circle class="ib" cx="382.5" cy="633.4" r="2.3"/><circle class="ib" cx="381.7" cy="646.2" r="2.3"/><circle class="ib" cx="382.0" cy="642.0" r="2.3"/><circle class="ib" cx="385.0" cy="647.6" r="2.3"/><circle class="ib" cx="385.1" cy="649.1" r="2.3"/><circle class="ib" cx="384.3" cy="646.1" r="2.3"/><circle class="ib" cx="384.0" cy="622.3" r="2.3"/><circle class="ib" cx="383.6" cy="643.3" r="2.3"/><circle class="ib" cx="379.3" cy="634.5" r="2.3"/><circle class="ib" cx="383.9" cy="642.1" r="2.3"/><circle class="ib" cx="383.7" cy="640.7" r="2.3"/><circle class="ib" cx="385.3" cy="628.7" r="2.3"/><circle class="ib" cx="384.9" cy="626.9" r="2.3"/><circle class="ib" cx="383.5" cy="638.9" r="2.3"/><circle class="ib" cx="382.7" cy="638.7" r="2.3"/><circle class="ib" cx="379.4" cy="637.8" r="2.3"/><circle class="ib" cx="383.4" cy="639.3" r="2.3"/><circle class="ib" cx="383.4" cy="645.7" r="2.3"/><circle class="ib" cx="383.1" cy="630.8" r="2.3"/><circle class="ib" cx="377.2" cy="615.2" r="2.3"/><circle class="ib" cx="379.1" cy="638.1" r="2.3"/><circle class="ib" cx="389.9" cy="626.2" r="2.3"/><circle class="ib" cx="382.8" cy="630.8" r="2.3"/><circle class="ib" cx="378.1" cy="630.5" r="2.3"/><circle class="ib" cx="384.4" cy="627.5" r="2.3"/><circle class="ib" cx="382.1" cy="635.8" r="2.3"/><circle class="ib" cx="382.3" cy="629.6" r="2.3"/><circle class="ib" cx="382.3" cy="633.8" r="2.3"/><circle class="ib" cx="377.7" cy="633.9" r="2.3"/><circle class="ib" cx="369.3" cy="639.0" r="2.3"/><circle class="ib" cx="376.2" cy="629.2" r="2.3"/><circle class="ib" cx="388.3" cy="630.4" r="2.3"/><circle class="ib" cx="384.4" cy="631.7" r="2.3"/><circle class="ib" cx="380.9" cy="629.1" r="2.3"/><circle class="ib" cx="366.8" cy="635.1" r="2.3"/><circle class="ib" cx="371.8" cy="624.1" r="2.3"/><circle class="ib" cx="393.0" cy="621.5" r="2.3"/><circle class="ib" cx="366.5" cy="635.6" r="2.3"/><circle class="ib" cx="370.0" cy="629.1" r="2.3"/><circle class="ib" cx="377.8" cy="623.7" r="2.3"/><circle class="ib" cx="375.5" cy="644.5" r="2.3"/><circle class="ib" cx="371.8" cy="637.7" r="2.3"/><circle class="ib" cx="371.3" cy="632.1" r="2.3"/><circle class="ib" cx="370.7" cy="628.7" r="2.3"/><circle class="ib" cx="373.2" cy="633.3" r="2.3"/><circle class="ib" cx="375.8" cy="629.5" r="2.3"/><circle class="ib" cx="366.1" cy="636.4" r="2.3"/><circle class="ib" cx="377.7" cy="631.2" r="2.3"/><circle class="ib" cx="371.6" cy="633.3" r="2.3"/><circle class="ib" cx="376.8" cy="626.6" r="2.3"/><circle class="ib" cx="379.0" cy="629.6" r="2.3"/><circle class="ib" cx="380.6" cy="635.4" r="2.3"/><circle class="ib" cx="385.8" cy="570.7" r="2.3"/><circle class="ib" cx="386.4" cy="598.2" r="2.3"/><circle class="ib" cx="395.3" cy="603.0" r="2.3"/><circle class="ib" cx="368.0" cy="612.0" r="2.3"/><circle class="ib" cx="372.0" cy="617.0" r="2.3"/><circle class="ib" cx="366.0" cy="655.0" r="2.3"/><circle class="ib" cx="380.0" cy="655.0" r="2.3"/><circle class="io" cx="403.7" cy="613.4" r="2.3"/><circle class="io" cx="402.2" cy="615.7" r="2.3"/><circle class="io" cx="411.2" cy="593.2" r="2.3"/><circle class="io" cx="407.0" cy="607.8" r="2.3"/><circle class="io" cx="407.8" cy="596.8" r="2.3"/><circle class="io" cx="400.6" cy="596.5" r="2.3"/><circle class="io" cx="406.6" cy="614.1" r="2.3"/><circle class="io" cx="405.4" cy="594.4" r="2.3"/><circle class="io" cx="403.8" cy="616.2" r="2.3"/><circle class="io" cx="402.0" cy="614.3" r="2.3"/><circle class="io" cx="402.8" cy="593.7" r="2.3"/><circle class="io" cx="412.6" cy="607.8" r="2.3"/><circle class="io" cx="406.2" cy="596.7" r="2.3"/><circle class="io" cx="406.4" cy="613.8" r="2.3"/><circle class="io" cx="407.2" cy="592.6" r="2.3"/><circle class="io" cx="405.3" cy="596.0" r="2.3"/><circle class="io" cx="404.3" cy="603.1" r="2.3"/><circle class="io" cx="409.6" cy="603.9" r="2.3"/><circle class="io" cx="404.8" cy="621.6" r="2.3"/><circle class="io" cx="403.0" cy="605.7" r="2.3"/><circle class="io" cx="407.8" cy="610.9" r="2.3"/><circle class="io" cx="407.2" cy="589.0" r="2.3"/><circle class="io" cx="399.6" cy="604.9" r="2.3"/><circle class="io" cx="405.3" cy="589.7" r="2.3"/><circle class="io" cx="401.1" cy="608.3" r="2.3"/><circle class="io" cx="401.2" cy="608.5" r="2.3"/><circle class="io" cx="406.6" cy="607.3" r="2.3"/><circle class="io" cx="406.0" cy="607.7" r="2.3"/><circle class="io" cx="410.0" cy="616.1" r="2.3"/><circle class="io" cx="398.6" cy="614.2" r="2.3"/><circle class="io" cx="402.3" cy="609.8" r="2.3"/><circle class="io" cx="403.8" cy="617.6" r="2.3"/><circle class="io" cx="400.9" cy="605.2" r="2.3"/><circle class="io" cx="410.0" cy="609.3" r="2.3"/><circle class="io" cx="404.5" cy="601.5" r="2.3"/><circle class="io" cx="404.6" cy="606.8" r="2.3"/><circle class="io" cx="407.6" cy="608.5" r="2.3"/><circle class="io" cx="396.6" cy="608.9" r="2.3"/><circle class="io" cx="401.9" cy="608.2" r="2.3"/><circle class="io" cx="402.9" cy="601.8" r="2.3"/><circle class="io" cx="412.6" cy="606.6" r="2.3"/><circle class="io" cx="401.1" cy="617.9" r="2.3"/><circle class="io" cx="396.6" cy="621.4" r="2.3"/><circle class="io" cx="406.3" cy="625.8" r="2.3"/><circle class="io" cx="398.5" cy="614.1" r="2.3"/><circle class="io" cx="407.2" cy="622.1" r="2.3"/><circle class="io" cx="403.7" cy="615.4" r="2.3"/><circle class="io" cx="409.7" cy="604.9" r="2.3"/><circle class="io" cx="408.6" cy="589.6" r="2.3"/><circle class="io" cx="405.6" cy="606.6" r="2.3"/><circle class="io" cx="410.0" cy="590.9" r="2.3"/><circle class="io" cx="406.6" cy="610.9" r="2.3"/><circle class="io" cx="405.2" cy="605.3" r="2.3"/><circle class="io" cx="400.4" cy="612.8" r="2.3"/><circle class="io" cx="399.6" cy="613.1" r="2.3"/><circle class="io" cx="406.0" cy="587.0" r="2.3"/><circle class="io" cx="409.0" cy="628.0" r="2.3"/><circle class="io" cx="404.0" cy="632.0" r="2.3"/><circle class="ig" cx="455.0" cy="557.4" r="2.3"/><circle class="ig" cx="458.3" cy="580.5" r="2.3"/><circle class="ig" cx="445.7" cy="560.5" r="2.3"/><circle class="ig" cx="456.1" cy="551.5" r="2.3"/><circle class="ig" cx="448.3" cy="549.4" r="2.3"/><circle class="ig" cx="454.6" cy="564.0" r="2.3"/><circle class="ig" cx="453.7" cy="567.1" r="2.3"/><circle class="ig" cx="447.3" cy="559.0" r="2.3"/><circle class="ig" cx="447.7" cy="580.8" r="2.3"/><circle class="ig" cx="450.7" cy="574.3" r="2.3"/><circle class="ig" cx="454.0" cy="565.5" r="2.3"/><circle class="ig" cx="450.4" cy="568.7" r="2.3"/><circle class="ig" cx="456.6" cy="573.2" r="2.3"/><circle class="ig" cx="453.4" cy="561.7" r="2.3"/><circle class="ig" cx="458.9" cy="572.1" r="2.3"/><circle class="ig" cx="455.5" cy="574.6" r="2.3"/><circle class="ig" cx="452.0" cy="558.0" r="2.3"/><circle class="ig" cx="448.8" cy="561.2" r="2.3"/><circle class="ig" cx="453.8" cy="559.4" r="2.3"/><circle class="ig" cx="455.5" cy="584.1" r="2.3"/><circle class="ig" cx="457.9" cy="577.5" r="2.3"/><circle class="ig" cx="452.4" cy="575.5" r="2.3"/><circle class="ig" cx="451.7" cy="566.3" r="2.3"/><circle class="ig" cx="450.9" cy="566.5" r="2.3"/><circle class="ig" cx="453.0" cy="562.6" r="2.3"/><circle class="ig" cx="442.5" cy="567.0" r="2.3"/><circle class="ig" cx="453.1" cy="558.0" r="2.3"/><circle class="ig" cx="453.4" cy="585.9" r="2.3"/><circle class="ig" cx="457.1" cy="564.6" r="2.3"/><circle class="ig" cx="458.9" cy="579.3" r="2.3"/><circle class="ig" cx="462.1" cy="570.5" r="2.3"/><circle class="ig" cx="455.6" cy="570.4" r="2.3"/><circle class="ig" cx="448.8" cy="572.5" r="2.3"/><circle class="ig" cx="456.4" cy="558.6" r="2.3"/><circle class="ig" cx="456.3" cy="554.4" r="2.3"/><circle class="ig" cx="446.7" cy="574.4" r="2.3"/><circle class="ig" cx="450.4" cy="575.2" r="2.3"/><circle class="ig" cx="455.2" cy="576.7" r="2.3"/><circle class="ig" cx="452.0" cy="565.9" r="2.3"/><circle class="ig" cx="452.4" cy="567.4" r="2.3"/><circle class="ig" cx="455.9" cy="567.0" r="2.3"/><circle class="ig" cx="450.4" cy="559.9" r="2.3"/><circle class="ig" cx="458.4" cy="583.3" r="2.3"/><circle class="ig" cx="457.2" cy="567.9" r="2.3"/><circle class="ig" cx="451.7" cy="584.6" r="2.3"/><circle class="ig" cx="447.5" cy="568.7" r="2.3"/><circle class="ig" cx="455.8" cy="573.9" r="2.3"/><circle class="ig" cx="459.1" cy="558.8" r="2.3"/><circle class="ig" cx="447.7" cy="577.2" r="2.3"/><circle class="ig" cx="456.6" cy="564.1" r="2.3"/><circle class="ig" cx="448.1" cy="567.2" r="2.3"/><circle class="ig" cx="456.0" cy="561.6" r="2.3"/><circle class="ig" cx="451.1" cy="563.7" r="2.3"/><circle class="ig" cx="456.0" cy="566.1" r="2.3"/><circle class="ig" cx="446.0" cy="574.3" r="2.3"/><circle class="ig" cx="454.8" cy="565.9" r="2.3"/><circle class="ig" cx="456.4" cy="568.9" r="2.3"/><circle class="ig" cx="452.7" cy="574.6" r="2.3"/><circle class="ig" cx="455.2" cy="571.9" r="2.3"/><circle class="ig" cx="452.0" cy="553.8" r="2.3"/><circle class="ig" cx="458.8" cy="549.5" r="2.3"/><circle class="ig" cx="455.2" cy="561.5" r="2.3"/><circle class="ig" cx="452.3" cy="552.2" r="2.3"/><circle class="ig" cx="449.0" cy="570.1" r="2.3"/><circle class="ig" cx="458.1" cy="564.5" r="2.3"/><circle class="ig" cx="454.6" cy="563.9" r="2.3"/><circle class="ig" cx="453.6" cy="570.9" r="2.3"/><circle class="ig" cx="457.0" cy="582.5" r="2.3"/><circle class="ig" cx="448.8" cy="572.9" r="2.3"/><circle class="ig" cx="449.9" cy="576.1" r="2.3"/><circle class="ig" cx="457.0" cy="560.9" r="2.3"/><circle class="ig" cx="456.5" cy="581.9" r="2.3"/><circle class="ig" cx="450.8" cy="560.6" r="2.3"/><circle class="ig" cx="450.2" cy="583.1" r="2.3"/><circle class="ig" cx="454.3" cy="575.0" r="2.3"/><circle class="ig" cx="445.3" cy="572.4" r="2.3"/><circle class="ig" cx="447.2" cy="566.8" r="2.3"/><circle class="ig" cx="448.4" cy="560.4" r="2.3"/><circle class="ig" cx="449.8" cy="575.6" r="2.3"/><circle class="ig" cx="457.9" cy="574.2" r="2.3"/><circle class="ig" cx="455.3" cy="560.9" r="2.3"/><circle class="ig" cx="447.1" cy="566.0" r="2.3"/><circle class="ig" cx="450.9" cy="573.9" r="2.3"/><circle class="ig" cx="454.9" cy="578.3" r="2.3"/><circle class="ig" cx="450.3" cy="576.0" r="2.3"/><circle class="ig" cx="445.2" cy="578.9" r="2.3"/><circle class="ig" cx="458.1" cy="563.3" r="2.3"/><circle class="ig" cx="449.3" cy="567.3" r="2.3"/><circle class="ig" cx="453.7" cy="594.7" r="2.3"/><circle class="ig" cx="454.1" cy="557.4" r="2.3"/><circle class="ig" cx="429.4" cy="570.4" r="2.3"/><circle class="ig" cx="423.7" cy="569.2" r="2.3"/><circle class="ig" cx="427.3" cy="569.7" r="2.3"/><circle class="ig" cx="423.8" cy="585.2" r="2.3"/><circle class="ig" cx="424.7" cy="584.5" r="2.3"/><circle class="ig" cx="421.8" cy="572.5" r="2.3"/><circle class="ig" cx="428.9" cy="588.3" r="2.3"/><circle class="ig" cx="429.4" cy="573.7" r="2.3"/><circle class="ig" cx="428.2" cy="583.9" r="2.3"/><circle class="ig" cx="431.0" cy="563.6" r="2.3"/><circle class="ig" cx="425.8" cy="577.3" r="2.3"/><circle class="ig" cx="428.0" cy="576.9" r="2.3"/><circle class="ig" cx="425.3" cy="569.8" r="2.3"/><circle class="ig" cx="427.2" cy="584.2" r="2.3"/><circle class="ig" cx="437.1" cy="593.9" r="2.3"/><circle class="ig" cx="440.1" cy="596.9" r="2.3"/><circle class="ig" cx="443.6" cy="590.6" r="2.3"/><circle class="ig" cx="440.4" cy="597.3" r="2.3"/><circle class="ig" cx="436.9" cy="593.3" r="2.3"/><circle class="ig" cx="443.8" cy="595.8" r="2.3"/><circle class="ig" cx="441.1" cy="588.0" r="2.3"/><circle class="ig" cx="434.0" cy="592.7" r="2.3"/><circle class="ig" cx="486.2" cy="542.4" r="2.3"/><circle class="ig" cx="476.3" cy="545.3" r="2.3"/><circle class="ig" cx="469.1" cy="529.8" r="2.3"/><circle class="ig" cx="472.3" cy="542.7" r="2.3"/><circle class="ig" cx="471.9" cy="540.2" r="2.3"/><circle class="ig" cx="471.9" cy="533.5" r="2.3"/><circle class="ig" cx="472.6" cy="534.0" r="2.3"/><circle class="ig" cx="474.7" cy="542.2" r="2.3"/><circle class="ig" cx="473.5" cy="541.7" r="2.3"/><circle class="ig" cx="478.9" cy="529.8" r="2.3"/><circle class="ig" cx="456.0" cy="544.0" r="2.3"/><circle class="ig" cx="468.0" cy="557.0" r="2.3"/><circle class="ig" cx="468.0" cy="545.0" r="2.3"/><circle class="ig" cx="475.0" cy="531.0" r="2.3"/><line x1="364.40" y1="656.40" x2="493.00" y2="528.30" stroke="#333" stroke-width="0.5"/><rect x="364.20" y="528.10" width="129.00" height="128.50" fill="none" stroke="#333" stroke-width="0.7" rx="0"/><line x1="362.60" y1="652.70" x2="364.20" y2="652.70" stroke="#333" stroke-width="0.4"/><text x="361.80" y="654.00" font-size="3.8" text-anchor="end" fill="#333">0.2</text><line x1="368.90" y1="656.60" x2="368.90" y2="658.20" stroke="#333" stroke-width="0.4"/><text x="368.90" y="662.00" font-size="3.8" text-anchor="middle" fill="#333">0.2</text><line x1="362.60" y1="635.84" x2="364.20" y2="635.84" stroke="#333" stroke-width="0.4"/><text x="361.80" y="637.14" font-size="3.8" text-anchor="end" fill="#333">0.4</text><line x1="385.62" y1="656.60" x2="385.62" y2="658.20" stroke="#333" stroke-width="0.4"/><text x="385.62" y="662.00" font-size="3.8" text-anchor="middle" fill="#333">0.4</text><line x1="362.60" y1="618.98" x2="364.20" y2="618.98" stroke="#333" stroke-width="0.4"/><text x="361.80" y="620.28" font-size="3.8" text-anchor="end" fill="#333">0.6</text><line x1="402.34" y1="656.60" x2="402.34" y2="658.20" stroke="#333" stroke-width="0.4"/><text x="402.34" y="662.00" font-size="3.8" text-anchor="middle" fill="#333">0.6</text><line x1="362.60" y1="602.12" x2="364.20" y2="602.12" stroke="#333" stroke-width="0.4"/><text x="361.80" y="603.42" font-size="3.8" text-anchor="end" fill="#333">0.8</text><line x1="419.06" y1="656.60" x2="419.06" y2="658.20" stroke="#333" stroke-width="0.4"/><text x="419.06" y="662.00" font-size="3.8" text-anchor="middle" fill="#333">0.8</text><line x1="362.60" y1="585.26" x2="364.20" y2="585.26" stroke="#333" stroke-width="0.4"/><text x="361.80" y="586.56" font-size="3.8" text-anchor="end" fill="#333">1.0</text><line x1="435.78" y1="656.60" x2="435.78" y2="658.20" stroke="#333" stroke-width="0.4"/><text x="435.78" y="662.00" font-size="3.8" text-anchor="middle" fill="#333">1.0</text><line x1="362.60" y1="568.40" x2="364.20" y2="568.40" stroke="#333" stroke-width="0.4"/><text x="361.80" y="569.70" font-size="3.8" text-anchor="end" fill="#333">1.2</text><line x1="452.50" y1="656.60" x2="452.50" y2="658.20" stroke="#333" stroke-width="0.4"/><text x="452.50" y="662.00" font-size="3.8" text-anchor="middle" fill="#333">1.2</text><line x1="362.60" y1="551.54" x2="364.20" y2="551.54" stroke="#333" stroke-width="0.4"/><text x="361.80" y="552.84" font-size="3.8" text-anchor="end" fill="#333">1.4</text><line x1="469.22" y1="656.60" x2="469.22" y2="658.20" stroke="#333" stroke-width="0.4"/><text x="469.22" y="662.00" font-size="3.8" text-anchor="middle" fill="#333">1.4</text><line x1="362.60" y1="534.68" x2="364.20" y2="534.68" stroke="#333" stroke-width="0.4"/><text x="361.80" y="535.98" font-size="3.8" text-anchor="end" fill="#333">1.6</text><line x1="485.94" y1="656.60" x2="485.94" y2="658.20" stroke="#333" stroke-width="0.4"/><text x="485.94" y="662.00" font-size="3.8" text-anchor="middle" fill="#333">1.6</text><text x="428.80" y="671.30" font-size="9.0" text-anchor="middle" fill="#111">Measured</text><text x="353.60" y="593.70" font-size="9.0" text-anchor="middle" fill="#111" transform="rotate(-90 353.6 593.7)">Predicted</text><rect x="368.40" y="532.60" width="69.30" height="31.50" fill="#fff" stroke="#ddd" stroke-width="0.5" rx="1.5" fill-opacity="0.85"/><circle cx="377.60" cy="538.40" r="2.30" fill="#5d98c8" stroke="#1f4f7a" stroke-width="0.3" fill-opacity="0.78"/><text x="390.50" y="541.10" font-size="7.6" text-anchor="start" fill="#222">L-CARMSED</text><circle cx="377.60" cy="547.80" r="2.30" fill="#f58a2e" stroke="#8a4a10" stroke-width="0.3" fill-opacity="0.78"/><text x="390.50" y="550.50" font-size="7.6" text-anchor="start" fill="#222">M-CARMSED</text><circle cx="377.60" cy="557.60" r="2.30" fill="#5cb85c" stroke="#1f6a1f" stroke-width="0.3" fill-opacity="0.78"/><text x="390.50" y="560.30" font-size="7.6" text-anchor="start" fill="#222">H-CARMSED</text><text x="599.90" y="527.30" font-size="8.7" text-anchor="middle" fill="#111">Signal for unknown sequences</text><rect x="536.50" y="528.10" width="126.70" height="127.20" fill="none" stroke="#333" stroke-width="0.7" rx="0"/><line x1="534.60" y1="653.70" x2="536.50" y2="653.70" stroke="#333" stroke-width="0.6"/><text x="533.60" y="656.30" font-size="7.5" text-anchor="end" fill="#222">0.00</text><line x1="534.60" y1="637.80" x2="536.50" y2="637.80" stroke="#333" stroke-width="0.6"/><text x="533.60" y="640.40" font-size="7.5" text-anchor="end" fill="#222">0.25</text><line x1="534.60" y1="621.90" x2="536.50" y2="621.90" stroke="#333" stroke-width="0.6"/><text x="533.60" y="624.50" font-size="7.5" text-anchor="end" fill="#222">0.50</text><line x1="534.60" y1="606.00" x2="536.50" y2="606.00" stroke="#333" stroke-width="0.6"/><text x="533.60" y="608.60" font-size="7.5" text-anchor="end" fill="#222">0.75</text><line x1="534.60" y1="590.10" x2="536.50" y2="590.10" stroke="#333" stroke-width="0.6"/><text x="533.60" y="592.70" font-size="7.5" text-anchor="end" fill="#222">1.00</text><line x1="534.60" y1="574.20" x2="536.50" y2="574.20" stroke="#333" stroke-width="0.6"/><text x="533.60" y="576.80" font-size="7.5" text-anchor="end" fill="#222">1.25</text><line x1="534.60" y1="558.30" x2="536.50" y2="558.30" stroke="#333" stroke-width="0.6"/><text x="533.60" y="560.90" font-size="7.5" text-anchor="end" fill="#222">1.50</text><line x1="534.60" y1="542.40" x2="536.50" y2="542.40" stroke="#333" stroke-width="0.6"/><text x="533.60" y="545.00" font-size="7.5" text-anchor="end" fill="#222">1.75</text><line x1="557.00" y1="655.30" x2="557.00" y2="657.20" stroke="#333" stroke-width="0.6"/><text x="557.00" y="663.40" font-size="6.0" text-anchor="middle" fill="#222">L-CARMSED</text><line x1="599.60" y1="655.30" x2="599.60" y2="657.20" stroke="#333" stroke-width="0.6"/><text x="599.60" y="663.40" font-size="6.0" text-anchor="middle" fill="#222">M-CARMSED</text><line x1="642.20" y1="655.30" x2="642.20" y2="657.20" stroke="#333" stroke-width="0.6"/><text x="642.20" y="663.40" font-size="6.0" text-anchor="middle" fill="#222">H-CARMSED</text><text x="599.60" y="672.00" font-size="8.0" text-anchor="middle" fill="#222">Class</text><text x="517.20" y="592.30" font-size="8.6" text-anchor="middle" fill="#222" transform="rotate(-90 517.2 592.3)">Predicted Signal</text><text x="557.00" y="534.30" font-size="6.6" text-anchor="middle" fill="#222">2749</text><text x="599.60" y="534.30" font-size="6.6" text-anchor="middle" fill="#222">1468</text><text x="642.20" y="534.30" font-size="6.6" text-anchor="middle" fill="#222">5155</text><line x1="557.00" y1="592.64" x2="557.00" y2="571.66" stroke="#444" stroke-width="0.7"/><line x1="557.00" y1="607.91" x2="557.00" y2="630.17" stroke="#444" stroke-width="0.7"/><line x1="548.20" y1="571.66" x2="565.80" y2="571.66" stroke="#444" stroke-width="0.8"/><line x1="548.20" y1="630.17" x2="565.80" y2="630.17" stroke="#444" stroke-width="0.8"/><rect x="540.00" y="592.64" width="34.00" height="15.26" fill="#3a78b0" stroke="#3a3a3a" stroke-width="0.6" rx="0"/><line x1="540.00" y1="599.64" x2="574.00" y2="599.64" stroke="#3a3a3a" stroke-width="0.8"/><path d="M557.00,630.48 L558.20,632.08 L557.00,633.68 L555.80,632.08 Z" fill="#333"/><path d="M557.00,631.75 L558.20,633.35 L557.00,634.95 L555.80,633.35 Z" fill="#333"/><path d="M557.00,633.02 L558.20,634.62 L557.00,636.22 L555.80,634.62 Z" fill="#333"/><path d="M557.00,634.29 L558.20,635.89 L557.00,637.49 L555.80,635.89 Z" fill="#333"/><path d="M557.00,635.56 L558.20,637.16 L557.00,638.76 L555.80,637.16 Z" fill="#333"/><path d="M557.00,636.52 L558.20,638.12 L557.00,639.72 L555.80,638.12 Z" fill="#333"/><path d="M557.00,637.47 L558.20,639.07 L557.00,640.67 L555.80,639.07 Z" fill="#333"/><path d="M557.00,638.43 L558.20,640.03 L557.00,641.63 L555.80,640.03 Z" fill="#333"/><path d="M557.00,647.65 L558.20,649.25 L557.00,650.85 L555.80,649.25 Z" fill="#333"/><line x1="599.60" y1="587.56" x2="599.60" y2="567.84" stroke="#444" stroke-width="0.7"/><line x1="599.60" y1="601.55" x2="599.60" y2="621.90" stroke="#444" stroke-width="0.7"/><line x1="590.80" y1="567.84" x2="608.40" y2="567.84" stroke="#444" stroke-width="0.8"/><line x1="590.80" y1="621.90" x2="608.40" y2="621.90" stroke="#444" stroke-width="0.8"/><rect x="582.60" y="587.56" width="34.00" height="13.99" fill="#e07b2a" stroke="#3a3a3a" stroke-width="0.6" rx="0"/><line x1="582.60" y1="593.92" x2="616.60" y2="593.92" stroke="#3a3a3a" stroke-width="0.8"/><path d="M599.60,622.21 L600.80,623.81 L599.60,625.41 L598.40,623.81 Z" fill="#333"/><path d="M599.60,623.48 L600.80,625.08 L599.60,626.68 L598.40,625.08 Z" fill="#333"/><path d="M599.60,624.75 L600.80,626.35 L599.60,627.95 L598.40,626.35 Z" fill="#333"/><path d="M599.60,626.02 L600.80,627.62 L599.60,629.22 L598.40,627.62 Z" fill="#333"/><path d="M599.60,627.30 L600.80,628.90 L599.60,630.50 L598.40,628.90 Z" fill="#333"/><path d="M599.60,628.57 L600.80,630.17 L599.60,631.77 L598.40,630.17 Z" fill="#333"/><path d="M599.60,629.84 L600.80,631.44 L599.60,633.04 L598.40,631.44 Z" fill="#333"/><path d="M599.60,631.11 L600.80,632.71 L599.60,634.31 L598.40,632.71 Z" fill="#333"/><path d="M599.60,632.38 L600.80,633.98 L599.60,635.58 L598.40,633.98 Z" fill="#333"/><path d="M599.60,633.66 L600.80,635.26 L599.60,636.86 L598.40,635.26 Z" fill="#333"/><path d="M599.60,634.93 L600.80,636.53 L599.60,638.13 L598.40,636.53 Z" fill="#333"/><path d="M599.60,636.20 L600.80,637.80 L599.60,639.40 L598.40,637.80 Z" fill="#333"/><path d="M599.60,638.11 L600.80,639.71 L599.60,641.31 L598.40,639.71 Z" fill="#333"/><path d="M599.60,640.02 L600.80,641.62 L599.60,643.22 L598.40,641.62 Z" fill="#333"/><path d="M599.60,561.79 L600.80,563.39 L599.60,564.99 L598.40,563.39 Z" fill="#333"/><path d="M599.60,560.52 L600.80,562.12 L599.60,563.72 L598.40,562.12 Z" fill="#333"/><line x1="642.20" y1="565.93" x2="642.20" y2="530.32" stroke="#444" stroke-width="0.7"/><line x1="642.20" y1="586.28" x2="642.20" y2="616.81" stroke="#444" stroke-width="0.7"/><line x1="633.40" y1="533.90" x2="651.00" y2="533.90" stroke="#444" stroke-width="0.8"/><line x1="633.40" y1="616.81" x2="651.00" y2="616.81" stroke="#444" stroke-width="0.8"/><rect x="625.20" y="565.93" width="34.00" height="20.35" fill="#3f9b3f" stroke="#3a3a3a" stroke-width="0.6" rx="0"/><line x1="625.20" y1="578.65" x2="659.20" y2="578.65" stroke="#3a3a3a" stroke-width="0.8"/><path d="M642.20,615.85 L643.40,617.45 L642.20,619.05 L641.00,617.45 Z" fill="#333"/><polyline points="67.10,755.80 66.00,765.00 68.50,775.00 66.50,785.00 68.50,795.00 69.00,800.50" fill="none" stroke="#c9c9c9" stroke-width="4.6" stroke-linejoin="round"/><polyline points="67.10,755.80 66.00,765.00 68.50,775.00 66.50,785.00 68.50,795.00 69.00,800.50" fill="none" stroke="#fafafa" stroke-width="3.0" stroke-linejoin="round"/><polyline points="66.10,891.40 63.50,902.00 62.50,913.00 61.00,924.00 58.30,936.60" fill="none" stroke="#c9c9c9" stroke-width="4.6" stroke-linejoin="round"/><polyline points="66.10,891.40 63.50,902.00 62.50,913.00 61.00,924.00 58.30,936.60" fill="none" stroke="#fafafa" stroke-width="3.0" stroke-linejoin="round"/><polyline points="150.00,905.00 156.00,912.00 160.00,918.00 154.00,924.00" fill="none" stroke="#c9c9c9" stroke-width="4.6" stroke-linejoin="round"/><polyline points="150.00,905.00 156.00,912.00 160.00,918.00 154.00,924.00" fill="none" stroke="#fafafa" stroke-width="3.0" stroke-linejoin="round"/><g><circle class="pP" cx="87.5" cy="732.7" r="2.9"/><circle class="pP" cx="87.7" cy="731.9" r="2.5"/><circle class="pP" cx="84.0" cy="731.9" r="2.6"/><circle class="pP" cx="85.5" cy="724.9" r="2.8"/><circle class="pP" cx="90.7" cy="724.1" r="3.0"/><circle class="pP" cx="94.3" cy="734.3" r="2.6"/><circle class="pP" cx="88.5" cy="724.4" r="2.1"/><circle class="pP" cx="87.7" cy="730.8" r="2.8"/><circle class="pP" cx="88.4" cy="734.1" r="2.4"/><circle class="pP" cx="90.3" cy="731.0" r="2.2"/><circle class="pP" cx="92.7" cy="735.2" r="2.2"/><circle class="pP" cx="84.6" cy="728.2" r="2.0"/><circle class="pP" cx="91.7" cy="730.1" r="2.8"/><circle class="pP" cx="86.6" cy="739.4" r="2.8"/><circle class="pP" cx="93.6" cy="731.2" r="3.0"/><circle class="pP" cx="86.8" cy="724.6" r="2.6"/><circle class="pP" cx="91.9" cy="727.9" r="2.0"/><circle class="pP" cx="85.9" cy="739.5" r="2.7"/><circle class="pP" cx="83.1" cy="727.5" r="2.0"/><circle class="pP" cx="83.9" cy="732.7" r="2.4"/><circle class="pP" cx="84.0" cy="735.6" r="2.0"/><circle class="pP" cx="90.1" cy="725.3" r="2.4"/><circle class="pP" cx="84.3" cy="727.9" r="3.0"/><circle class="pP" cx="92.2" cy="728.5" r="2.9"/><circle class="pP" cx="84.3" cy="730.0" r="2.8"/><circle class="pP" cx="90.0" cy="725.1" r="3.0"/><circle class="pB" cx="64.9" cy="731.3" r="2.7"/><circle class="pB" cx="66.3" cy="732.6" r="2.0"/><circle class="pB" cx="63.5" cy="742.1" r="2.2"/><circle class="pB" cx="69.6" cy="735.1" r="2.4"/><circle class="pB" cx="73.8" cy="738.8" r="2.5"/><circle class="pB" cx="72.7" cy="728.9" r="2.1"/><circle class="pB" cx="65.4" cy="729.1" r="2.7"/><circle class="pB" cx="69.6" cy="736.8" r="2.0"/><circle class="pB" cx="65.2" cy="746.1" r="2.2"/><circle class="pB" cx="72.2" cy="742.5" r="2.2"/><circle class="pB" cx="64.5" cy="746.6" r="2.0"/><circle class="pB" cx="65.1" cy="741.3" r="2.8"/><circle class="pB" cx="69.7" cy="732.1" r="2.9"/><circle class="pB" cx="65.6" cy="737.6" r="2.0"/><circle class="pB" cx="64.5" cy="735.0" r="2.5"/><circle class="pB" cx="64.0" cy="734.8" r="2.9"/><circle class="pB" cx="70.6" cy="742.1" r="2.1"/><circle class="pB" cx="73.2" cy="746.0" r="3.0"/><circle class="pB" cx="62.7" cy="743.9" r="2.4"/><circle class="pB" cx="71.1" cy="733.4" r="3.0"/><circle class="pB" cx="63.3" cy="740.9" r="2.7"/><circle class="pB" cx="73.1" cy="747.2" r="2.7"/><circle class="pB" cx="66.6" cy="745.5" r="2.9"/><circle class="pB" cx="72.8" cy="736.6" r="2.8"/><circle class="pB" cx="72.7" cy="741.8" r="2.6"/><circle class="pB" cx="66.9" cy="742.1" r="2.6"/><circle class="pB" cx="63.4" cy="744.0" r="3.0"/><circle class="pB" cx="72.9" cy="746.9" r="2.3"/><circle class="pB" cx="71.1" cy="742.0" r="2.4"/><circle class="pB" cx="69.6" cy="738.7" r="2.2"/><circle class="pB" cx="70.7" cy="739.3" r="2.6"/><circle class="pB" cx="73.4" cy="731.3" r="1.9"/><circle class="pB" cx="66.0" cy="745.2" r="2.1"/><circle class="pB" cx="70.3" cy="737.4" r="2.9"/><circle class="pB" cx="66.3" cy="744.8" r="2.1"/><circle class="pB" cx="67.5" cy="749.5" r="2.9"/><circle class="pB" cx="72.9" cy="735.5" r="2.5"/><circle class="pB" cx="66.2" cy="727.3" r="2.4"/><circle class="pB" cx="72.4" cy="750.9" r="2.7"/><circle class="pB" cx="64.4" cy="737.7" r="2.2"/><circle class="pB" cx="64.9" cy="736.5" r="2.6"/><circle class="pB" cx="68.3" cy="733.2" r="2.8"/><circle class="pO" cx="97.1" cy="759.4" r="2.0"/><circle class="pO" cx="88.9" cy="757.6" r="2.8"/><circle class="pO" cx="86.6" cy="754.0" r="2.8"/><circle class="pO" cx="82.2" cy="755.5" r="2.0"/><circle class="pO" cx="90.1" cy="759.4" r="2.6"/><circle class="pO" cx="90.6" cy="764.0" r="3.0"/><circle class="pO" cx="91.2" cy="756.2" r="2.4"/><circle class="pO" cx="86.9" cy="762.8" r="2.1"/><circle class="pO" cx="82.9" cy="758.1" r="2.7"/><circle class="pO" cx="87.9" cy="761.5" r="2.7"/><circle class="pO" cx="85.4" cy="763.8" r="2.9"/><circle class="pO" cx="91.9" cy="755.3" r="2.4"/><circle class="pO" cx="90.0" cy="765.3" r="2.3"/><circle class="pO" cx="88.9" cy="764.9" r="2.8"/><circle class="pO" cx="96.4" cy="759.6" r="2.6"/><circle class="pO" cx="81.6" cy="762.9" r="2.8"/><circle class="pO" cx="90.3" cy="762.8" r="2.1"/><circle class="pO" cx="97.0" cy="760.5" r="2.8"/><circle class="pO" cx="83.9" cy="765.3" r="2.8"/><circle class="pO" cx="84.5" cy="754.8" r="2.4"/><circle class="pO" cx="88.5" cy="763.5" r="2.4"/><circle class="pO" cx="81.0" cy="758.0" r="2.8"/><circle class="pO" cx="87.8" cy="762.9" r="2.8"/><circle class="pO" cx="91.3" cy="765.7" r="2.4"/><circle class="pO" cx="81.9" cy="760.4" r="2.2"/><circle class="pO" cx="92.1" cy="761.8" r="2.5"/><circle class="pO" cx="94.4" cy="760.8" r="2.2"/><circle class="pO" cx="85.1" cy="764.4" r="2.9"/><circle class="pO" cx="81.7" cy="764.5" r="3.0"/><path class="rB" d="M69.3,729.1Q69.2,732.2 68.3,739.0"/><path class="rB" d="M71.4,733.8Q71.6,739.6 71.3,745.5"/><path class="rB" d="M70.1,726.9Q71.4,733.3 69.1,736.4"/><path class="rB" d="M66.0,734.1Q68.1,740.5 67.8,743.6"/><path class="rB" d="M67.5,730.8Q69.9,734.6 68.9,741.4"/><path class="rB" d="M69.6,726.7Q70.9,730.2 70.7,735.1"/><path class="rB" d="M66.3,735.9Q65.9,741.5 68.5,747.0"/><path class="rO" d="M80.8,757.0Q84.1,760.4 88.1,763.6"/><path class="rO" d="M80.4,753.4Q84.2,759.2 87.7,762.2"/><path class="rO" d="M83.7,759.3Q89.9,764.4 93.6,766.1"/><path class="rO" d="M83.6,754.7Q87.6,760.2 87.7,762.6"/><path class="rO" d="M81.1,754.4Q82.2,759.4 86.5,761.8"/><path class="rO" d="M82.4,759.7Q87.5,760.3 91.0,764.7"/><path class="rO" d="M81.3,755.5Q82.9,761.4 87.7,767.3"/><circle class="pT" cx="83.2" cy="744.0" r="2.7"/><circle class="pT" cx="79.6" cy="744.4" r="2.5"/><circle class="pT" cx="72.4" cy="735.1" r="2.1"/><circle class="pT" cx="78.0" cy="751.4" r="2.3"/><circle class="pT" cx="78.1" cy="744.4" r="2.4"/><circle class="pT" cx="80.4" cy="730.2" r="2.7"/><circle class="pT" cx="84.8" cy="735.0" r="2.4"/><circle class="pT" cx="82.9" cy="741.3" r="2.1"/><circle class="pT" cx="72.7" cy="744.3" r="1.9"/><circle class="pT" cx="85.6" cy="752.5" r="2.7"/><circle class="pT" cx="85.1" cy="747.6" r="2.3"/><circle class="pT" cx="80.4" cy="744.1" r="3.0"/><circle class="pT" cx="84.1" cy="737.1" r="2.9"/><circle class="pT" cx="83.0" cy="751.8" r="2.8"/><circle class="pT" cx="77.0" cy="755.1" r="2.9"/><circle class="pT" cx="82.1" cy="751.5" r="2.7"/><circle class="pT" cx="77.0" cy="750.2" r="2.0"/><circle class="pT" cx="75.8" cy="743.1" r="1.9"/><circle class="pT" cx="76.1" cy="747.9" r="2.6"/><circle class="pT" cx="81.6" cy="739.4" r="2.6"/><circle class="pT" cx="79.9" cy="744.9" r="2.3"/><circle class="pT" cx="82.2" cy="751.3" r="3.0"/><circle class="pT" cx="70.2" cy="747.2" r="2.7"/><circle class="pT" cx="74.3" cy="741.2" r="2.0"/><circle class="pT" cx="73.2" cy="740.4" r="2.0"/><circle class="pT" cx="74.2" cy="755.4" r="2.5"/><circle class="pT" cx="78.8" cy="757.1" r="2.5"/><circle class="pT" cx="80.4" cy="751.3" r="1.9"/><circle class="pT" cx="78.1" cy="734.6" r="2.4"/><circle class="pT" cx="80.6" cy="731.5" r="2.9"/><circle class="pT" cx="77.2" cy="744.7" r="2.6"/><circle class="pT" cx="76.3" cy="737.9" r="2.6"/><circle class="pT" cx="79.7" cy="737.8" r="2.7"/><circle class="pT" cx="72.5" cy="751.1" r="2.3"/><circle class="pT" cx="85.7" cy="751.0" r="2.0"/><circle class="pT" cx="77.4" cy="743.3" r="3.0"/><circle class="pT" cx="74.1" cy="744.6" r="2.9"/><circle class="pT" cx="82.6" cy="743.1" r="3.0"/><circle class="pT" cx="84.3" cy="746.9" r="2.0"/><circle class="pT" cx="80.9" cy="742.7" r="2.1"/><circle class="pT" cx="70.7" cy="744.7" r="2.0"/><circle class="pT" cx="77.6" cy="748.7" r="2.4"/><circle class="pT" cx="74.4" cy="746.3" r="2.4"/><circle class="pT" cx="83.6" cy="744.8" r="3.0"/><circle class="pT" cx="74.0" cy="733.1" r="2.9"/><circle class="pT" cx="83.7" cy="747.5" r="2.3"/><circle class="pT" cx="74.6" cy="749.2" r="2.5"/><circle class="pT" cx="80.3" cy="747.7" r="2.7"/><circle class="pT" cx="73.1" cy="736.9" r="3.0"/><circle class="pT" cx="74.6" cy="741.8" r="2.6"/><circle class="pT" cx="71.6" cy="745.1" r="2.0"/><circle class="pT" cx="71.3" cy="748.9" r="2.5"/><circle class="pT" cx="81.0" cy="740.4" r="2.4"/><circle class="pT" cx="73.5" cy="739.5" r="2.7"/><circle class="pY" cx="86.3" cy="756.0" r="2.6"/><circle class="pY" cx="96.2" cy="745.5" r="2.4"/><circle class="pY" cx="88.4" cy="756.0" r="2.3"/><circle class="pY" cx="89.4" cy="751.4" r="2.7"/><circle class="pY" cx="98.5" cy="749.3" r="2.3"/><circle class="pY" cx="93.1" cy="750.3" r="2.7"/><circle class="pY" cx="89.0" cy="755.4" r="2.0"/><circle class="pY" cx="87.7" cy="753.4" r="2.0"/><circle class="pY" cx="89.1" cy="754.5" r="2.7"/><circle class="pY" cx="88.8" cy="744.3" r="2.3"/><circle class="pY" cx="95.5" cy="748.2" r="2.0"/><circle class="pY" cx="95.3" cy="751.8" r="2.9"/><circle class="pY" cx="91.2" cy="755.9" r="2.2"/><circle class="pY" cx="89.3" cy="748.8" r="2.9"/><circle class="pY" cx="98.1" cy="746.1" r="2.3"/><circle class="pY" cx="90.1" cy="748.2" r="2.3"/><circle class="pY" cx="90.4" cy="745.2" r="2.5"/><circle class="pY" cx="96.6" cy="751.3" r="2.8"/><circle class="pY" cx="93.1" cy="744.9" r="2.7"/><circle class="pY" cx="97.9" cy="746.7" r="1.9"/><circle class="pY" cx="92.3" cy="751.3" r="2.5"/><circle class="pY" cx="99.2" cy="753.2" r="2.8"/><circle class="pY" cx="85.5" cy="751.4" r="2.8"/><circle class="pY" cx="95.7" cy="757.5" r="2.0"/><circle class="pY" cx="94.1" cy="744.3" r="2.7"/><circle class="pY" cx="94.4" cy="746.1" r="2.1"/><circle class="pY" cx="96.1" cy="750.9" r="2.7"/><circle class="pY" cx="90.5" cy="747.7" r="3.0"/><circle class="pY" cx="94.7" cy="750.4" r="2.5"/><circle class="pY" cx="95.5" cy="754.2" r="2.9"/><circle class="pY" cx="90.7" cy="756.3" r="2.6"/><circle class="pY" cx="97.5" cy="755.9" r="2.8"/></g><g><circle class="pP" cx="91.9" cy="811.6" r="2.7"/><circle class="pP" cx="92.3" cy="811.3" r="2.4"/><circle class="pP" cx="90.6" cy="812.1" r="3.0"/><circle class="pP" cx="91.2" cy="810.6" r="2.1"/><circle class="pB" cx="86.1" cy="819.6" r="3.0"/><circle class="pB" cx="81.0" cy="820.0" r="2.0"/><circle class="pB" cx="89.3" cy="831.8" r="2.1"/><circle class="pB" cx="81.1" cy="823.8" r="2.5"/><circle class="pB" cx="83.2" cy="818.2" r="2.7"/><circle class="pB" cx="88.5" cy="817.9" r="2.1"/><circle class="pB" cx="84.1" cy="816.6" r="2.7"/><circle class="pB" cx="84.6" cy="826.1" r="2.8"/><circle class="pB" cx="86.9" cy="818.8" r="2.9"/><circle class="pB" cx="93.0" cy="820.9" r="2.5"/><circle class="pB" cx="93.6" cy="824.4" r="2.1"/><circle class="pB" cx="91.4" cy="821.9" r="2.5"/><circle class="pB" cx="87.4" cy="819.1" r="3.0"/><circle class="pB" cx="89.4" cy="818.2" r="1.9"/><circle class="pB" cx="86.8" cy="821.6" r="2.8"/><circle class="pB" cx="90.2" cy="827.5" r="2.1"/><circle class="pB" cx="82.4" cy="820.3" r="2.2"/><circle class="pB" cx="92.4" cy="825.3" r="2.6"/><circle class="pB" cx="87.7" cy="816.0" r="2.7"/><circle class="pB" cx="92.0" cy="833.0" r="2.0"/><circle class="pB" cx="84.0" cy="830.3" r="2.0"/><circle class="pB" cx="86.9" cy="824.1" r="3.0"/><circle class="pB" cx="88.4" cy="833.9" r="2.2"/><circle class="pB" cx="91.3" cy="822.7" r="2.9"/><circle class="pB" cx="83.1" cy="825.9" r="2.5"/><circle class="pB" cx="82.4" cy="833.2" r="2.2"/><circle class="pB" cx="84.6" cy="814.1" r="2.2"/><circle class="pB" cx="86.7" cy="830.3" r="2.3"/><circle class="pB" cx="89.8" cy="814.9" r="2.3"/><circle class="pB" cx="86.7" cy="836.7" r="2.8"/><circle class="pB" cx="85.5" cy="830.2" r="2.2"/><circle class="pB" cx="88.1" cy="823.8" r="1.9"/><circle class="pB" cx="83.1" cy="827.8" r="2.2"/><circle class="pB" cx="85.5" cy="825.9" r="2.2"/><circle class="pB" cx="84.9" cy="822.1" r="2.6"/><circle class="pB" cx="83.8" cy="817.3" r="2.7"/><circle class="pB" cx="84.8" cy="836.1" r="2.5"/><circle class="pB" cx="90.3" cy="820.6" r="2.8"/><circle class="pO" cx="60.5" cy="815.9" r="2.7"/><circle class="pO" cx="62.4" cy="809.9" r="2.8"/><circle class="pO" cx="71.4" cy="803.1" r="2.1"/><circle class="pO" cx="67.4" cy="802.7" r="2.9"/><circle class="pO" cx="67.8" cy="812.3" r="2.6"/><circle class="pO" cx="75.3" cy="819.1" r="2.3"/><circle class="pO" cx="65.7" cy="810.1" r="1.9"/><circle class="pO" cx="67.2" cy="816.4" r="3.0"/><circle class="pO" cx="75.8" cy="815.6" r="2.6"/><circle class="pO" cx="65.9" cy="815.4" r="2.0"/><circle class="pO" cx="66.7" cy="812.3" r="2.8"/><circle class="pO" cx="76.6" cy="814.5" r="2.1"/><circle class="pO" cx="75.3" cy="820.9" r="2.5"/><circle class="pO" cx="66.2" cy="812.1" r="2.1"/><circle class="pO" cx="69.8" cy="816.8" r="2.8"/><circle class="pO" cx="72.2" cy="805.4" r="2.0"/><circle class="pO" cx="63.8" cy="813.7" r="2.7"/><circle class="pO" cx="65.6" cy="821.4" r="2.3"/><circle class="pO" cx="68.6" cy="803.8" r="3.0"/><circle class="pO" cx="70.4" cy="813.4" r="2.5"/><circle class="pO" cx="64.2" cy="821.0" r="3.0"/><circle class="pO" cx="76.4" cy="814.3" r="2.0"/><circle class="pO" cx="76.5" cy="807.4" r="2.9"/><circle class="pO" cx="63.7" cy="813.7" r="2.8"/><circle class="pO" cx="62.5" cy="813.1" r="2.0"/><circle class="pO" cx="72.9" cy="807.8" r="2.6"/><circle class="pO" cx="74.6" cy="809.5" r="2.6"/><circle class="pO" cx="62.8" cy="811.3" r="2.1"/><circle class="pO" cx="66.9" cy="813.6" r="2.1"/><circle class="pO" cx="69.8" cy="806.9" r="2.5"/><circle class="pO" cx="65.7" cy="815.2" r="1.9"/><circle class="pO" cx="73.2" cy="804.3" r="3.0"/><circle class="pO" cx="71.6" cy="811.4" r="2.4"/><circle class="pO" cx="72.1" cy="816.2" r="2.7"/><circle class="pO" cx="74.9" cy="811.7" r="3.0"/><circle class="pO" cx="76.8" cy="819.8" r="2.3"/><circle class="pO" cx="67.9" cy="813.5" r="2.9"/><circle class="pO" cx="70.0" cy="812.6" r="2.4"/><circle class="pO" cx="78.3" cy="808.1" r="2.0"/><circle class="pO" cx="74.4" cy="820.8" r="2.7"/><circle class="pO" cx="71.5" cy="817.6" r="2.2"/><circle class="pO" cx="71.5" cy="802.6" r="2.0"/><circle class="pO" cx="68.2" cy="812.1" r="2.3"/><circle class="pO" cx="59.5" cy="816.3" r="2.5"/><circle class="pO" cx="63.7" cy="807.8" r="2.3"/><circle class="pO" cx="73.0" cy="820.1" r="2.4"/><circle class="pO" cx="76.1" cy="806.0" r="2.7"/><circle class="pO" cx="70.9" cy="820.9" r="2.0"/><circle class="pO" cx="75.8" cy="803.8" r="2.5"/><path class="rO" d="M71.2,806.7Q62.2,810.5 56.6,811.2"/><path class="rO" d="M81.5,808.6Q71.0,808.9 64.2,813.0"/><path class="rO" d="M84.3,808.1Q75.7,809.6 63.3,811.4"/><path class="rO" d="M76.5,811.0Q65.0,810.9 55.8,808.1"/><path class="rO" d="M77.4,807.8Q69.8,810.5 58.2,815.6"/><path class="rO" d="M77.1,809.0Q69.3,809.2 64.6,807.6"/><path class="rO" d="M76.8,817.9Q65.9,817.7 57.9,815.9"/><path class="rB" d="M91.5,817.1Q87.6,817.8 82.1,821.0"/><path class="rB" d="M91.5,820.6Q84.3,821.8 78.2,821.7"/><path class="rB" d="M94.8,824.2Q91.7,826.8 85.3,828.0"/><path class="rB" d="M92.0,823.4Q85.3,826.9 79.1,830.2"/><path class="rB" d="M92.4,817.9Q86.4,819.8 82.4,819.2"/><path class="rB" d="M89.1,821.8Q83.3,822.1 79.2,822.0"/><path class="rB" d="M89.1,831.0Q84.7,831.4 80.7,829.7"/><circle class="pT" cx="73.5" cy="837.2" r="2.4"/><circle class="pT" cx="69.8" cy="832.1" r="2.6"/><circle class="pT" cx="73.1" cy="833.5" r="2.8"/><circle class="pT" cx="76.0" cy="831.4" r="2.8"/><circle class="pT" cx="79.0" cy="831.6" r="2.9"/><circle class="pT" cx="69.7" cy="835.2" r="2.1"/><circle class="pT" cx="77.6" cy="827.7" r="2.4"/><circle class="pT" cx="80.7" cy="835.2" r="2.8"/><circle class="pT" cx="70.8" cy="831.2" r="2.1"/><circle class="pT" cx="77.1" cy="831.3" r="1.9"/><circle class="pT" cx="77.4" cy="834.3" r="2.5"/><circle class="pT" cx="82.5" cy="826.9" r="2.1"/><circle class="pT" cx="66.8" cy="831.2" r="2.4"/><circle class="pT" cx="74.6" cy="828.0" r="2.8"/><circle class="pT" cx="76.9" cy="831.9" r="2.8"/><circle class="pT" cx="70.8" cy="826.4" r="2.2"/><circle class="pT" cx="67.3" cy="828.7" r="2.6"/><circle class="pT" cx="76.1" cy="828.1" r="2.5"/><circle class="pT" cx="69.6" cy="827.9" r="2.1"/><circle class="pT" cx="79.1" cy="835.9" r="2.8"/><circle class="pT" cx="67.6" cy="830.1" r="2.3"/><circle class="pT" cx="67.3" cy="831.2" r="2.7"/><circle class="pT" cx="74.8" cy="834.7" r="1.9"/><circle class="pT" cx="70.9" cy="836.7" r="2.1"/><circle class="pT" cx="73.7" cy="828.5" r="2.4"/><circle class="pT" cx="79.9" cy="827.6" r="2.2"/><circle class="pT" cx="76.6" cy="827.7" r="2.4"/><circle class="pT" cx="83.6" cy="829.4" r="2.3"/><circle class="pT" cx="84.5" cy="832.8" r="1.9"/><circle class="pT" cx="73.9" cy="833.4" r="2.0"/><circle class="pY" cx="62.8" cy="828.1" r="2.9"/><circle class="pY" cx="65.1" cy="829.9" r="2.4"/><circle class="pY" cx="63.3" cy="829.5" r="2.3"/><circle class="pY" cx="66.8" cy="823.4" r="2.3"/><circle class="pY" cx="61.4" cy="826.7" r="2.1"/><circle class="pY" cx="61.6" cy="823.4" r="2.4"/><circle class="pY" cx="62.5" cy="825.7" r="3.0"/><circle class="pY" cx="65.9" cy="829.7" r="2.1"/><circle class="pY" cx="63.2" cy="822.1" r="2.7"/><circle class="pY" cx="63.0" cy="824.0" r="1.9"/><circle class="pY" cx="61.4" cy="823.9" r="2.3"/><circle class="pY" cx="68.0" cy="828.3" r="2.2"/><circle class="pY" cx="63.0" cy="822.8" r="2.9"/><circle class="pY" cx="63.0" cy="828.8" r="2.7"/></g><g><circle class="pW" cx="152.3" cy="775.7" r="2.0"/><circle class="pW" cx="162.8" cy="775.1" r="2.7"/><circle class="pW" cx="156.0" cy="772.1" r="2.3"/><circle class="pW" cx="149.0" cy="778.0" r="1.9"/><circle class="pW" cx="152.1" cy="776.2" r="2.5"/><circle class="pW" cx="148.8" cy="779.3" r="2.2"/><circle class="pW" cx="159.8" cy="778.8" r="2.1"/><circle class="pW" cx="150.1" cy="774.6" r="2.7"/><circle class="pW" cx="153.8" cy="775.8" r="2.9"/><circle class="pW" cx="150.4" cy="774.7" r="2.3"/><circle class="pW" cx="146.7" cy="778.4" r="2.5"/><circle class="pW" cx="151.8" cy="778.9" r="2.9"/><circle class="pW" cx="150.3" cy="779.1" r="2.6"/><circle class="pW" cx="150.6" cy="778.5" r="2.0"/><circle class="pW" cx="154.2" cy="775.8" r="2.0"/><circle class="pW" cx="153.4" cy="775.1" r="2.4"/><circle class="pW" cx="151.5" cy="773.2" r="2.3"/><circle class="pW" cx="155.1" cy="773.3" r="2.6"/><circle class="pW" cx="150.7" cy="772.5" r="2.3"/><circle class="pW" cx="154.1" cy="773.2" r="2.5"/><circle class="pW" cx="159.4" cy="777.6" r="2.7"/><circle class="pW" cx="146.6" cy="775.8" r="2.3"/><circle class="pW" cx="147.4" cy="775.9" r="2.0"/><circle class="pW" cx="155.5" cy="777.9" r="2.4"/><circle class="pW" cx="152.3" cy="774.3" r="1.9"/><circle class="pP" cx="139.0" cy="752.4" r="2.5"/><circle class="pP" cx="137.6" cy="750.2" r="2.1"/><circle class="pP" cx="140.9" cy="749.7" r="3.0"/><circle class="pP" cx="139.2" cy="749.3" r="2.9"/><circle class="pP" cx="145.7" cy="749.8" r="2.6"/><circle class="pP" cx="140.0" cy="747.8" r="2.2"/><circle class="pP" cx="139.5" cy="752.6" r="1.9"/><circle class="pP" cx="135.6" cy="748.7" r="2.2"/><circle class="pP" cx="139.2" cy="753.3" r="2.1"/><circle class="pP" cx="136.5" cy="745.9" r="2.6"/><circle class="pP" cx="142.1" cy="747.6" r="2.2"/><circle class="pP" cx="141.3" cy="750.1" r="2.5"/><circle class="pP" cx="143.4" cy="749.2" r="2.8"/><circle class="pP" cx="148.9" cy="747.0" r="2.3"/><circle class="pP" cx="147.6" cy="746.8" r="2.7"/><circle class="pP" cx="144.5" cy="750.4" r="3.0"/><circle class="pP" cx="146.6" cy="745.3" r="2.6"/><circle class="pP" cx="141.3" cy="749.2" r="2.3"/><circle class="pP" cx="138.0" cy="751.0" r="2.5"/><circle class="pP" cx="137.2" cy="746.1" r="2.3"/><circle class="pB" cx="135.5" cy="756.2" r="2.0"/><circle class="pB" cx="134.2" cy="760.8" r="2.0"/><circle class="pB" cx="140.5" cy="762.5" r="2.4"/><circle class="pB" cx="135.3" cy="764.8" r="2.9"/><circle class="pB" cx="141.5" cy="763.1" r="2.3"/><circle class="pB" cx="145.3" cy="749.8" r="2.7"/><circle class="pB" cx="138.2" cy="751.8" r="2.7"/><circle class="pB" cx="147.6" cy="763.8" r="2.5"/><circle class="pB" cx="140.0" cy="760.9" r="2.6"/><circle class="pB" cx="147.4" cy="763.2" r="2.0"/><circle class="pB" cx="139.2" cy="760.0" r="2.2"/><circle class="pB" cx="143.0" cy="766.6" r="3.0"/><circle class="pB" cx="134.7" cy="760.4" r="2.4"/><circle class="pB" cx="143.8" cy="753.3" r="2.9"/><circle class="pB" cx="145.3" cy="746.6" r="1.9"/><circle class="pB" cx="137.5" cy="761.5" r="3.0"/><circle class="pB" cx="134.5" cy="751.7" r="1.9"/><circle class="pB" cx="142.2" cy="755.4" r="2.3"/><circle class="pB" cx="137.9" cy="763.2" r="2.8"/><circle class="pB" cx="137.5" cy="753.2" r="2.6"/><circle class="pB" cx="139.4" cy="760.6" r="2.5"/><circle class="pB" cx="146.9" cy="747.3" r="2.1"/><circle class="pB" cx="136.9" cy="755.6" r="2.0"/><circle class="pB" cx="142.6" cy="747.2" r="2.6"/><circle class="pB" cx="137.3" cy="749.2" r="2.4"/><circle class="pB" cx="139.0" cy="750.0" r="2.0"/><circle class="pB" cx="137.9" cy="745.6" r="2.1"/><circle class="pB" cx="141.1" cy="767.9" r="2.1"/><circle class="pB" cx="148.1" cy="755.5" r="2.4"/><circle class="pB" cx="147.0" cy="753.3" r="2.0"/><circle class="pB" cx="142.3" cy="759.7" r="2.6"/><circle class="pB" cx="137.3" cy="766.5" r="2.9"/><circle class="pB" cx="150.4" cy="754.5" r="2.8"/><circle class="pB" cx="145.5" cy="748.0" r="1.9"/><circle class="pB" cx="133.7" cy="752.4" r="2.7"/><circle class="pB" cx="137.9" cy="756.2" r="1.9"/><circle class="pB" cx="132.5" cy="756.5" r="2.8"/><circle class="pB" cx="146.7" cy="761.6" r="2.3"/><circle class="pB" cx="146.9" cy="763.8" r="2.7"/><circle class="pB" cx="149.6" cy="753.5" r="2.7"/><circle class="pB" cx="136.9" cy="765.8" r="1.9"/><circle class="pB" cx="142.8" cy="749.2" r="2.3"/><circle class="pB" cx="139.0" cy="759.7" r="2.8"/><circle class="pB" cx="138.9" cy="759.2" r="2.3"/><circle class="pB" cx="137.4" cy="765.7" r="2.3"/><circle class="pB" cx="134.0" cy="751.8" r="2.7"/><circle class="pO" cx="158.0" cy="746.8" r="2.5"/><circle class="pO" cx="166.8" cy="736.8" r="2.0"/><circle class="pO" cx="156.7" cy="739.9" r="2.4"/><circle class="pO" cx="154.2" cy="742.5" r="2.3"/><circle class="pO" cx="160.0" cy="743.2" r="2.9"/><circle class="pO" cx="157.8" cy="749.2" r="2.3"/><circle class="pO" cx="168.2" cy="735.6" r="3.0"/><circle class="pO" cx="162.1" cy="750.6" r="2.1"/><circle class="pO" cx="161.7" cy="746.1" r="2.1"/><circle class="pO" cx="159.1" cy="745.6" r="2.9"/><circle class="pO" cx="160.1" cy="736.9" r="2.3"/><circle class="pO" cx="165.9" cy="740.4" r="2.6"/><circle class="pO" cx="158.0" cy="744.5" r="2.9"/><circle class="pO" cx="170.1" cy="744.8" r="2.5"/><circle class="pO" cx="164.7" cy="735.7" r="2.8"/><circle class="pO" cx="167.0" cy="741.7" r="2.6"/><circle class="pO" cx="161.9" cy="740.5" r="2.2"/><circle class="pO" cx="165.3" cy="743.8" r="2.5"/><circle class="pO" cx="154.6" cy="744.7" r="2.4"/><circle class="pO" cx="165.2" cy="744.2" r="2.9"/><circle class="pO" cx="156.9" cy="741.9" r="3.0"/><circle class="pO" cx="167.9" cy="739.2" r="2.7"/><circle class="pO" cx="172.6" cy="740.8" r="2.9"/><circle class="pO" cx="163.2" cy="737.8" r="2.8"/><circle class="pO" cx="166.2" cy="750.2" r="2.8"/><circle class="pO" cx="169.0" cy="742.7" r="3.0"/><circle class="pO" cx="167.4" cy="738.1" r="2.8"/><circle class="pO" cx="162.5" cy="743.1" r="2.9"/><circle class="pO" cx="157.7" cy="738.6" r="2.6"/><circle class="pO" cx="155.4" cy="743.5" r="2.8"/><circle class="pO" cx="163.2" cy="738.0" r="2.8"/><circle class="pO" cx="170.1" cy="747.3" r="2.5"/><circle class="pO" cx="156.9" cy="740.1" r="2.0"/><circle class="pO" cx="154.7" cy="739.8" r="2.9"/><circle class="pO" cx="157.4" cy="740.5" r="2.8"/><circle class="pO" cx="165.6" cy="749.6" r="2.0"/><path class="rO" d="M168.3,745.6Q159.4,744.5 152.9,742.0"/><path class="rO" d="M168.9,736.7Q163.3,736.8 156.5,738.6"/><path class="rO" d="M169.7,743.0Q165.2,744.3 159.1,745.9"/><path class="rO" d="M167.0,740.6Q159.3,737.4 152.7,736.7"/><path class="rO" d="M174.5,745.2Q167.4,744.0 161.7,743.6"/><path class="rO" d="M168.3,743.1Q159.7,743.6 151.8,744.6"/><path class="rO" d="M171.2,745.8Q162.4,747.2 155.7,748.1"/><path class="rB" d="M141.6,745.8Q144.7,754.7 148.1,760.2"/><path class="rB" d="M136.4,753.3Q138.6,758.8 144.3,764.9"/><path class="rB" d="M137.1,749.1Q140.2,755.7 141.6,761.0"/><path class="rB" d="M131.9,749.4Q138.0,754.4 146.1,759.9"/><path class="rB" d="M136.8,753.2Q140.1,758.5 143.1,767.0"/><path class="rB" d="M140.4,745.6Q146.0,751.0 149.7,755.2"/><path class="rB" d="M138.1,756.3Q140.5,761.0 141.8,766.1"/><circle class="pT" cx="150.7" cy="767.3" r="2.2"/><circle class="pT" cx="159.3" cy="770.2" r="3.0"/><circle class="pT" cx="151.7" cy="774.7" r="2.6"/><circle class="pT" cx="142.6" cy="767.2" r="2.3"/><circle class="pT" cx="158.9" cy="762.2" r="3.0"/><circle class="pT" cx="146.5" cy="765.3" r="2.1"/><circle class="pT" cx="151.6" cy="773.0" r="2.0"/><circle class="pT" cx="145.3" cy="771.1" r="2.6"/><circle class="pT" cx="161.2" cy="763.0" r="2.8"/><circle class="pT" cx="160.9" cy="773.7" r="2.0"/><circle class="pT" cx="153.7" cy="758.1" r="2.8"/><circle class="pT" cx="141.4" cy="765.0" r="2.5"/><circle class="pT" cx="155.5" cy="760.0" r="2.8"/><circle class="pT" cx="149.1" cy="768.1" r="2.0"/><circle class="pT" cx="156.4" cy="760.4" r="2.0"/><circle class="pT" cx="154.9" cy="763.8" r="2.8"/><circle class="pT" cx="147.6" cy="766.2" r="2.0"/><circle class="pT" cx="146.7" cy="767.0" r="2.5"/><circle class="pT" cx="153.4" cy="775.2" r="2.0"/><circle class="pT" cx="164.2" cy="760.9" r="3.0"/><circle class="pT" cx="155.2" cy="766.1" r="2.6"/><circle class="pT" cx="152.2" cy="758.0" r="2.1"/><circle class="pT" cx="163.4" cy="772.8" r="2.7"/><circle class="pT" cx="145.1" cy="768.6" r="1.9"/><circle class="pT" cx="143.8" cy="763.9" r="3.0"/><circle class="pT" cx="158.5" cy="775.1" r="2.0"/><circle class="pT" cx="152.2" cy="759.4" r="2.2"/><circle class="pT" cx="149.8" cy="767.8" r="2.6"/><circle class="pT" cx="156.4" cy="768.0" r="2.9"/><circle class="pT" cx="151.6" cy="763.9" r="2.7"/><circle class="pT" cx="147.9" cy="765.3" r="2.4"/><circle class="pT" cx="153.9" cy="765.1" r="2.4"/><circle class="pT" cx="153.2" cy="758.8" r="2.8"/><circle class="pT" cx="142.4" cy="768.6" r="2.5"/><circle class="pT" cx="151.8" cy="762.3" r="2.0"/><circle class="pT" cx="151.0" cy="764.2" r="2.4"/><circle class="pT" cx="147.1" cy="773.1" r="2.4"/><circle class="pT" cx="141.0" cy="766.1" r="3.0"/><circle class="pT" cx="167.3" cy="765.2" r="2.6"/><circle class="pT" cx="150.9" cy="763.9" r="2.6"/><circle class="pT" cx="157.0" cy="764.2" r="2.4"/><circle class="pT" cx="155.0" cy="773.2" r="2.0"/><circle class="pT" cx="143.3" cy="762.9" r="2.2"/><circle class="pT" cx="162.7" cy="766.5" r="2.8"/><circle class="pT" cx="151.8" cy="763.6" r="2.6"/><circle class="pT" cx="163.7" cy="764.5" r="2.2"/><circle class="pT" cx="163.4" cy="773.9" r="2.6"/><circle class="pT" cx="142.1" cy="770.6" r="2.5"/><circle class="pT" cx="166.4" cy="770.8" r="1.9"/><circle class="pT" cx="161.1" cy="766.3" r="2.6"/><circle class="pT" cx="152.9" cy="773.2" r="2.3"/><circle class="pT" cx="153.1" cy="766.7" r="2.0"/><circle class="pT" cx="149.6" cy="772.8" r="2.0"/><circle class="pT" cx="159.1" cy="769.0" r="2.0"/><circle class="pT" cx="144.0" cy="764.1" r="2.9"/><circle class="pT" cx="156.2" cy="776.6" r="2.1"/><circle class="pT" cx="152.2" cy="768.7" r="2.8"/><circle class="pT" cx="153.8" cy="758.4" r="2.4"/><circle class="pT" cx="151.2" cy="771.6" r="2.9"/><circle class="pY" cx="159.7" cy="752.9" r="2.3"/><circle class="pY" cx="164.3" cy="742.8" r="2.7"/><circle class="pY" cx="154.6" cy="751.1" r="2.1"/><circle class="pY" cx="157.4" cy="743.8" r="2.3"/><circle class="pY" cx="161.3" cy="750.0" r="2.3"/><circle class="pY" cx="161.0" cy="755.6" r="2.3"/><circle class="pY" cx="161.2" cy="749.3" r="3.0"/><circle class="pY" cx="157.1" cy="753.1" r="2.2"/><circle class="pY" cx="156.1" cy="753.6" r="2.5"/><circle class="pY" cx="156.0" cy="742.1" r="2.8"/><circle class="pY" cx="157.9" cy="753.4" r="2.4"/><circle class="pY" cx="161.7" cy="750.7" r="3.0"/><circle class="pY" cx="166.3" cy="748.9" r="2.4"/><circle class="pY" cx="155.6" cy="754.0" r="2.0"/><circle class="pY" cx="156.8" cy="755.7" r="1.9"/><circle class="pY" cx="163.0" cy="750.8" r="2.5"/><circle class="pY" cx="157.2" cy="743.6" r="2.9"/><circle class="pY" cx="164.0" cy="755.0" r="2.0"/><circle class="pY" cx="164.3" cy="744.8" r="2.1"/><circle class="pY" cx="160.4" cy="751.6" r="2.0"/><circle class="pY" cx="164.0" cy="751.1" r="2.9"/><circle class="pY" cx="166.6" cy="752.9" r="2.3"/><circle class="pY" cx="156.5" cy="755.9" r="2.7"/><circle class="pY" cx="156.1" cy="745.3" r="1.9"/><circle class="pY" cx="160.4" cy="745.4" r="2.2"/><circle class="pY" cx="155.9" cy="743.3" r="2.4"/><circle class="pY" cx="156.3" cy="745.9" r="2.2"/><circle class="pY" cx="160.0" cy="756.1" r="2.1"/><circle class="pY" cx="161.6" cy="750.4" r="2.7"/><circle class="pY" cx="160.4" cy="752.4" r="2.9"/><circle class="pY" cx="164.2" cy="745.5" r="2.0"/><circle class="pY" cx="166.8" cy="747.3" r="2.8"/></g><g><circle class="pP" cx="135.0" cy="825.8" r="2.3"/><circle class="pP" cx="136.8" cy="827.6" r="2.5"/><circle class="pP" cx="136.2" cy="825.5" r="2.2"/><circle class="pP" cx="137.6" cy="826.6" r="2.0"/><circle class="pP" cx="136.2" cy="824.6" r="3.0"/><circle class="pB" cx="159.4" cy="827.3" r="2.0"/><circle class="pB" cx="163.2" cy="807.7" r="1.9"/><circle class="pB" cx="162.2" cy="830.0" r="2.7"/><circle class="pB" cx="165.2" cy="825.1" r="2.5"/><circle class="pB" cx="157.0" cy="818.9" r="2.1"/><circle class="pB" cx="161.7" cy="814.6" r="2.4"/><circle class="pB" cx="158.3" cy="823.2" r="2.4"/><circle class="pB" cx="161.3" cy="807.9" r="2.4"/><circle class="pB" cx="162.1" cy="829.7" r="2.5"/><circle class="pB" cx="157.6" cy="813.3" r="2.3"/><circle class="pB" cx="163.6" cy="828.9" r="3.0"/><circle class="pB" cx="156.4" cy="817.9" r="2.5"/><circle class="pB" cx="163.4" cy="821.0" r="2.6"/><circle class="pB" cx="161.7" cy="829.4" r="1.9"/><circle class="pB" cx="163.4" cy="818.7" r="2.5"/><circle class="pB" cx="164.2" cy="825.7" r="1.9"/><circle class="pB" cx="160.5" cy="814.2" r="2.3"/><circle class="pB" cx="159.0" cy="820.3" r="2.5"/><circle class="pB" cx="159.7" cy="822.5" r="2.4"/><circle class="pB" cx="158.7" cy="827.5" r="2.1"/><circle class="pB" cx="157.8" cy="812.2" r="2.4"/><circle class="pB" cx="164.4" cy="814.1" r="2.2"/><circle class="pB" cx="163.1" cy="812.3" r="2.5"/><circle class="pB" cx="158.9" cy="827.4" r="2.1"/><circle class="pB" cx="158.6" cy="813.4" r="2.3"/><circle class="pB" cx="163.8" cy="822.4" r="2.8"/><circle class="pB" cx="161.9" cy="807.9" r="2.7"/><circle class="pB" cx="158.8" cy="811.3" r="2.4"/><circle class="pB" cx="159.9" cy="828.2" r="3.0"/><circle class="pB" cx="160.3" cy="809.3" r="2.8"/><circle class="pO" cx="151.9" cy="789.3" r="2.8"/><circle class="pO" cx="144.1" cy="788.6" r="2.6"/><circle class="pO" cx="151.1" cy="791.0" r="2.8"/><circle class="pO" cx="137.1" cy="791.3" r="2.3"/><circle class="pO" cx="139.6" cy="787.6" r="2.9"/><circle class="pO" cx="143.4" cy="796.9" r="2.1"/><circle class="pO" cx="150.6" cy="797.1" r="2.1"/><circle class="pO" cx="139.4" cy="793.6" r="2.9"/><circle class="pO" cx="145.6" cy="789.7" r="2.0"/><circle class="pO" cx="142.1" cy="797.0" r="2.0"/><circle class="pO" cx="140.4" cy="789.4" r="2.0"/><circle class="pO" cx="142.7" cy="787.3" r="2.0"/><circle class="pO" cx="147.0" cy="791.9" r="2.5"/><circle class="pO" cx="151.5" cy="791.7" r="2.9"/><circle class="pO" cx="138.3" cy="788.9" r="2.7"/><circle class="pO" cx="154.6" cy="791.4" r="2.1"/><circle class="pO" cx="143.2" cy="792.2" r="2.2"/><circle class="pO" cx="145.7" cy="792.7" r="2.8"/><circle class="pO" cx="145.8" cy="787.4" r="2.9"/><circle class="pO" cx="151.5" cy="790.1" r="2.0"/><circle class="pO" cx="139.9" cy="787.1" r="2.7"/><circle class="pO" cx="141.0" cy="795.2" r="2.4"/><circle class="pO" cx="149.4" cy="790.9" r="2.1"/><circle class="pO" cx="148.7" cy="789.7" r="2.4"/><circle class="pO" cx="148.8" cy="789.0" r="2.3"/><circle class="pO" cx="153.9" cy="792.4" r="2.4"/><circle class="pO" cx="147.2" cy="790.8" r="2.3"/><circle class="pO" cx="154.4" cy="787.9" r="2.9"/><circle class="pO" cx="139.9" cy="791.5" r="3.0"/><path class="rO" d="M139.0,789.4Q141.9,794.8 147.5,796.8"/><path class="rO" d="M141.9,784.1Q144.6,788.3 146.8,792.5"/><path class="rO" d="M148.0,788.7Q150.6,790.5 153.2,794.3"/><path class="rO" d="M144.6,789.2Q147.2,792.3 149.8,795.5"/><path class="rO" d="M144.1,791.4Q146.2,796.1 151.6,798.5"/><path class="rO" d="M141.8,789.7Q145.5,793.9 145.9,798.0"/><path class="rO" d="M143.9,786.8Q145.7,790.9 147.6,796.8"/><path class="rB" d="M164.3,813.6Q162.8,817.3 158.6,818.6"/><path class="rB" d="M169.2,821.9Q165.1,825.0 159.3,825.7"/><path class="rB" d="M167.1,812.8Q162.2,815.5 159.3,815.0"/><path class="rB" d="M163.0,815.3Q159.1,820.0 154.4,821.4"/><path class="rB" d="M167.4,816.6Q162.4,822.1 160.5,823.7"/><path class="rB" d="M167.4,812.4Q164.6,817.6 159.8,819.0"/><path class="rB" d="M165.3,812.1Q163.6,814.3 159.0,814.3"/><circle class="pT" cx="156.0" cy="829.6" r="2.5"/><circle class="pT" cx="159.1" cy="823.8" r="2.4"/><circle class="pT" cx="148.1" cy="816.7" r="1.9"/><circle class="pT" cx="143.6" cy="827.7" r="2.2"/><circle class="pT" cx="153.4" cy="827.2" r="2.7"/><circle class="pT" cx="150.7" cy="815.8" r="2.2"/><circle class="pT" cx="144.2" cy="824.0" r="2.7"/><circle class="pT" cx="159.1" cy="816.1" r="2.9"/><circle class="pT" cx="158.5" cy="815.1" r="2.9"/><circle class="pT" cx="152.7" cy="831.8" r="2.8"/><circle class="pT" cx="147.0" cy="814.9" r="2.5"/><circle class="pT" cx="150.1" cy="808.8" r="2.8"/><circle class="pT" cx="151.1" cy="819.7" r="2.7"/><circle class="pT" cx="145.4" cy="812.9" r="2.5"/><circle class="pT" cx="145.2" cy="816.1" r="2.0"/><circle class="pT" cx="141.5" cy="816.8" r="2.5"/><circle class="pT" cx="159.3" cy="823.8" r="2.4"/><circle class="pT" cx="148.5" cy="813.8" r="2.4"/><circle class="pT" cx="149.0" cy="825.0" r="2.7"/><circle class="pT" cx="151.4" cy="823.9" r="2.9"/><circle class="pT" cx="158.3" cy="814.2" r="2.5"/><circle class="pT" cx="160.2" cy="821.0" r="2.1"/><circle class="pT" cx="143.4" cy="821.6" r="2.2"/><circle class="pT" cx="154.7" cy="826.0" r="2.3"/><circle class="pT" cx="155.6" cy="824.0" r="2.7"/><circle class="pT" cx="149.5" cy="818.7" r="2.0"/><circle class="pT" cx="149.9" cy="831.6" r="2.9"/><circle class="pT" cx="145.8" cy="825.2" r="2.4"/><circle class="pT" cx="143.0" cy="818.5" r="2.5"/><circle class="pT" cx="155.2" cy="817.9" r="2.6"/><circle class="pT" cx="153.9" cy="823.2" r="2.0"/><circle class="pT" cx="154.5" cy="811.1" r="2.0"/><circle class="pT" cx="149.8" cy="808.3" r="2.0"/><circle class="pT" cx="148.2" cy="819.6" r="2.0"/><circle class="pT" cx="150.1" cy="822.5" r="2.2"/><circle class="pT" cx="146.5" cy="813.4" r="2.9"/><circle class="pT" cx="150.5" cy="818.1" r="2.3"/><circle class="pT" cx="158.0" cy="814.3" r="2.8"/><circle class="pT" cx="154.5" cy="819.1" r="2.3"/><circle class="pT" cx="149.1" cy="819.2" r="2.2"/><circle class="pT" cx="152.8" cy="818.1" r="2.2"/><circle class="pT" cx="155.8" cy="819.2" r="2.4"/><circle class="pT" cx="157.9" cy="819.2" r="2.3"/><circle class="pT" cx="156.0" cy="817.9" r="2.6"/><circle class="pT" cx="155.1" cy="815.3" r="2.7"/><circle class="pT" cx="159.3" cy="824.2" r="2.6"/><circle class="pT" cx="149.1" cy="824.2" r="2.1"/><circle class="pT" cx="155.7" cy="821.3" r="3.0"/><circle class="pT" cx="147.2" cy="825.6" r="1.9"/><circle class="pT" cx="148.7" cy="827.0" r="2.2"/><circle class="pT" cx="152.6" cy="813.4" r="2.3"/><circle class="pT" cx="152.0" cy="828.3" r="2.8"/><circle class="pT" cx="148.2" cy="822.6" r="2.7"/><circle class="pY" cx="147.5" cy="815.2" r="2.5"/><circle class="pY" cx="138.3" cy="814.2" r="2.5"/><circle class="pY" cx="143.6" cy="820.9" r="2.1"/><circle class="pY" cx="147.9" cy="805.1" r="2.7"/><circle class="pY" cx="144.0" cy="810.0" r="2.4"/><circle class="pY" cx="136.8" cy="812.3" r="2.9"/><circle class="pY" cx="145.8" cy="804.3" r="2.8"/><circle class="pY" cx="141.4" cy="800.9" r="2.6"/><circle class="pY" cx="142.1" cy="810.0" r="3.0"/><circle class="pY" cx="144.1" cy="820.1" r="2.3"/><circle class="pY" cx="147.5" cy="799.2" r="2.2"/><circle class="pY" cx="146.3" cy="813.8" r="2.8"/><circle class="pY" cx="140.6" cy="803.9" r="2.3"/><circle class="pY" cx="143.5" cy="798.0" r="2.3"/><circle class="pY" cx="145.6" cy="800.9" r="2.2"/><circle class="pY" cx="138.3" cy="801.6" r="2.0"/><circle class="pY" cx="147.1" cy="803.7" r="2.4"/><circle class="pY" cx="148.6" cy="817.9" r="2.1"/><circle class="pY" cx="146.5" cy="814.0" r="2.3"/><circle class="pY" cx="149.6" cy="802.6" r="2.4"/><circle class="pY" cx="139.4" cy="807.9" r="2.8"/><circle class="pY" cx="144.1" cy="811.9" r="3.0"/><circle class="pY" cx="137.8" cy="802.7" r="2.6"/><circle class="pY" cx="139.9" cy="807.9" r="2.4"/><circle class="pY" cx="146.0" cy="801.5" r="2.3"/><circle class="pY" cx="146.5" cy="802.5" r="2.9"/><circle class="pY" cx="149.5" cy="802.8" r="2.3"/><circle class="pY" cx="137.9" cy="814.5" r="2.0"/><circle class="pY" cx="146.3" cy="798.9" r="2.8"/><circle class="pY" cx="143.6" cy="811.3" r="2.0"/><circle class="pY" cx="134.6" cy="805.8" r="3.0"/><circle class="pY" cx="144.6" cy="817.9" r="2.0"/><circle class="pY" cx="146.4" cy="801.6" r="2.2"/><circle class="pY" cx="145.8" cy="814.0" r="2.3"/><circle class="pY" cx="142.2" cy="804.3" r="2.5"/><circle class="pY" cx="140.2" cy="806.0" r="2.2"/><circle class="pY" cx="139.0" cy="803.6" r="1.9"/><circle class="pY" cx="139.4" cy="811.5" r="2.2"/><circle class="pY" cx="142.2" cy="809.6" r="2.2"/><circle class="pY" cx="149.8" cy="815.3" r="2.6"/><circle class="pY" cx="145.7" cy="813.9" r="2.5"/><circle class="pY" cx="141.2" cy="806.7" r="2.5"/><circle class="pY" cx="142.2" cy="810.0" r="2.5"/><circle class="pY" cx="148.0" cy="818.6" r="2.1"/><circle class="pY" cx="145.0" cy="804.2" r="2.1"/><circle class="pY" cx="149.5" cy="817.3" r="2.7"/><circle class="pY" cx="146.3" cy="815.1" r="2.4"/></g><g><circle class="pP" cx="230.8" cy="762.9" r="2.9"/><circle class="pP" cx="232.3" cy="762.4" r="2.2"/><circle class="pP" cx="235.7" cy="762.4" r="3.0"/><circle class="pP" cx="230.7" cy="764.2" r="2.0"/><circle class="pP" cx="232.5" cy="768.4" r="2.4"/><circle class="pP" cx="234.7" cy="763.5" r="2.5"/><circle class="pP" cx="228.4" cy="761.7" r="2.9"/><circle class="pP" cx="233.7" cy="758.2" r="2.4"/><circle class="pP" cx="232.3" cy="759.9" r="2.5"/><circle class="pP" cx="233.3" cy="755.4" r="2.1"/><circle class="pP" cx="233.5" cy="758.2" r="2.0"/><circle class="pP" cx="234.7" cy="759.9" r="3.0"/><circle class="pP" cx="232.5" cy="756.6" r="2.6"/><circle class="pP" cx="229.3" cy="766.6" r="2.7"/><circle class="pP" cx="228.0" cy="758.0" r="1.9"/><circle class="pP" cx="228.2" cy="761.8" r="3.0"/><circle class="pP" cx="229.9" cy="758.8" r="2.8"/><circle class="pP" cx="228.5" cy="764.1" r="2.6"/><circle class="pP" cx="232.5" cy="760.6" r="2.8"/><circle class="pB" cx="212.9" cy="778.8" r="2.1"/><circle class="pB" cx="217.8" cy="786.3" r="2.2"/><circle class="pB" cx="213.4" cy="784.8" r="2.6"/><circle class="pB" cx="212.6" cy="766.3" r="2.8"/><circle class="pB" cx="221.4" cy="776.2" r="2.3"/><circle class="pB" cx="222.4" cy="772.3" r="2.0"/><circle class="pB" cx="217.8" cy="769.0" r="2.5"/><circle class="pB" cx="227.8" cy="768.7" r="2.3"/><circle class="pB" cx="210.7" cy="775.2" r="2.9"/><circle class="pB" cx="211.4" cy="772.5" r="2.4"/><circle class="pB" cx="223.4" cy="774.4" r="2.2"/><circle class="pB" cx="211.6" cy="779.1" r="2.0"/><circle class="pB" cx="211.6" cy="771.5" r="2.8"/><circle class="pB" cx="220.4" cy="779.7" r="2.7"/><circle class="pB" cx="224.6" cy="762.1" r="2.1"/><circle class="pB" cx="225.7" cy="768.9" r="2.0"/><circle class="pB" cx="220.0" cy="784.7" r="1.9"/><circle class="pB" cx="210.0" cy="766.2" r="2.1"/><circle class="pB" cx="210.0" cy="763.6" r="2.6"/><circle class="pB" cx="211.1" cy="762.7" r="2.5"/><circle class="pB" cx="215.4" cy="762.1" r="2.5"/><circle class="pB" cx="218.1" cy="769.1" r="2.4"/><circle class="pB" cx="208.5" cy="775.8" r="2.1"/><circle class="pB" cx="225.9" cy="775.0" r="2.3"/><circle class="pB" cx="218.8" cy="785.4" r="2.0"/><circle class="pB" cx="215.6" cy="778.6" r="2.3"/><circle class="pB" cx="222.2" cy="784.5" r="1.9"/><circle class="pB" cx="213.5" cy="766.3" r="2.7"/><circle class="pB" cx="223.8" cy="778.3" r="2.9"/><circle class="pB" cx="211.5" cy="769.3" r="2.8"/><circle class="pB" cx="223.4" cy="761.0" r="3.0"/><circle class="pB" cx="222.9" cy="783.2" r="2.3"/><circle class="pB" cx="220.1" cy="786.0" r="2.9"/><circle class="pB" cx="219.5" cy="784.0" r="3.0"/><circle class="pB" cx="224.9" cy="777.0" r="3.0"/><circle class="pB" cx="210.6" cy="769.6" r="2.5"/><circle class="pB" cx="210.4" cy="780.7" r="2.0"/><circle class="pB" cx="220.6" cy="766.0" r="2.3"/><circle class="pB" cx="220.1" cy="763.3" r="2.4"/><circle class="pB" cx="213.1" cy="768.5" r="2.7"/><circle class="pB" cx="211.6" cy="782.7" r="2.1"/><circle class="pB" cx="219.1" cy="767.7" r="1.9"/><circle class="pB" cx="214.4" cy="765.8" r="3.0"/><circle class="pB" cx="220.8" cy="759.6" r="2.7"/><circle class="pB" cx="212.5" cy="771.9" r="2.7"/><circle class="pB" cx="216.3" cy="767.1" r="2.3"/><circle class="pB" cx="214.1" cy="779.6" r="2.4"/><circle class="pB" cx="221.8" cy="762.2" r="2.8"/><circle class="pB" cx="220.3" cy="762.5" r="1.9"/><circle class="pB" cx="216.2" cy="763.1" r="2.7"/><circle class="pB" cx="219.4" cy="777.6" r="3.0"/><circle class="pB" cx="208.4" cy="771.3" r="2.8"/><circle class="pB" cx="221.7" cy="773.9" r="2.8"/><circle class="pB" cx="215.3" cy="761.0" r="2.6"/><circle class="pB" cx="209.0" cy="773.4" r="2.0"/><circle class="pB" cx="220.1" cy="782.0" r="2.3"/><circle class="pB" cx="210.2" cy="777.5" r="2.7"/><circle class="pB" cx="225.8" cy="774.0" r="2.5"/><circle class="pB" cx="225.4" cy="777.7" r="3.0"/><circle class="pB" cx="213.6" cy="780.5" r="2.6"/><circle class="pB" cx="238.3" cy="797.2" r="2.4"/><circle class="pB" cx="234.9" cy="810.3" r="2.5"/><circle class="pB" cx="239.0" cy="798.3" r="2.0"/><circle class="pB" cx="240.6" cy="812.1" r="3.0"/><circle class="pB" cx="243.6" cy="803.4" r="2.4"/><circle class="pB" cx="238.9" cy="814.8" r="2.3"/><circle class="pB" cx="245.7" cy="807.7" r="2.3"/><circle class="pB" cx="238.5" cy="804.9" r="3.0"/><circle class="pB" cx="231.4" cy="805.8" r="2.0"/><circle class="pB" cx="241.7" cy="800.3" r="2.1"/><circle class="pB" cx="237.5" cy="810.3" r="2.7"/><circle class="pB" cx="237.9" cy="803.5" r="2.3"/><circle class="pB" cx="245.2" cy="801.7" r="1.9"/><circle class="pB" cx="245.1" cy="807.7" r="2.0"/><circle class="pB" cx="241.7" cy="801.7" r="2.4"/><circle class="pB" cx="240.5" cy="798.1" r="2.9"/><circle class="pB" cx="236.1" cy="800.2" r="2.8"/><circle class="pB" cx="241.3" cy="807.4" r="2.9"/><circle class="pB" cx="243.6" cy="801.6" r="1.9"/><circle class="pB" cx="240.5" cy="807.4" r="2.2"/><circle class="pB" cx="241.1" cy="798.6" r="2.9"/><circle class="pB" cx="246.2" cy="810.7" r="2.3"/><circle class="pB" cx="242.5" cy="817.0" r="2.8"/><circle class="pB" cx="231.3" cy="808.1" r="2.1"/><circle class="pB" cx="239.6" cy="818.0" r="2.9"/><circle class="pB" cx="234.7" cy="809.2" r="2.2"/><circle class="pB" cx="233.4" cy="813.4" r="2.7"/><circle class="pB" cx="236.1" cy="806.3" r="2.7"/><circle class="pB" cx="242.5" cy="807.2" r="2.0"/><circle class="pB" cx="244.2" cy="808.0" r="2.6"/><circle class="pB" cx="236.6" cy="805.2" r="2.1"/><circle class="pB" cx="246.6" cy="810.4" r="2.0"/><circle class="pB" cx="242.1" cy="810.2" r="2.6"/><circle class="pB" cx="243.2" cy="810.4" r="2.9"/><circle class="pB" cx="246.5" cy="806.0" r="2.6"/><circle class="pB" cx="236.7" cy="806.1" r="2.3"/><circle class="pB" cx="241.2" cy="804.8" r="2.3"/><circle class="pB" cx="244.5" cy="814.7" r="2.6"/><circle class="pB" cx="244.4" cy="805.5" r="2.6"/><circle class="pO" cx="239.9" cy="770.7" r="2.0"/><circle class="pO" cx="240.4" cy="771.2" r="2.0"/><circle class="pO" cx="238.7" cy="773.1" r="2.9"/><circle class="pO" cx="238.1" cy="770.3" r="2.7"/><circle class="pO" cx="239.6" cy="774.9" r="2.3"/><circle class="pO" cx="242.2" cy="769.9" r="2.2"/><circle class="pO" cx="241.7" cy="770.5" r="2.7"/><circle class="pO" cx="237.5" cy="773.1" r="2.8"/><circle class="pO" cx="240.7" cy="769.8" r="2.0"/><circle class="pO" cx="243.6" cy="768.5" r="2.4"/><circle class="pO" cx="243.5" cy="770.8" r="1.9"/><circle class="pO" cx="241.7" cy="771.0" r="3.0"/><circle class="pO" cx="241.0" cy="775.2" r="2.9"/><circle class="pO" cx="219.3" cy="790.8" r="2.8"/><circle class="pO" cx="208.2" cy="797.5" r="2.0"/><circle class="pO" cx="208.2" cy="795.2" r="2.1"/><circle class="pO" cx="228.9" cy="797.8" r="2.9"/><circle class="pO" cx="221.0" cy="796.2" r="2.8"/><circle class="pO" cx="221.5" cy="791.3" r="2.5"/><circle class="pO" cx="215.6" cy="796.8" r="2.7"/><circle class="pO" cx="221.9" cy="797.7" r="2.8"/><circle class="pO" cx="213.2" cy="795.6" r="2.4"/><circle class="pO" cx="219.1" cy="793.2" r="2.8"/><circle class="pO" cx="213.7" cy="802.0" r="2.8"/><circle class="pO" cx="207.7" cy="793.0" r="2.7"/><circle class="pO" cx="219.7" cy="799.2" r="2.4"/><circle class="pO" cx="218.1" cy="792.0" r="2.4"/><circle class="pO" cx="212.0" cy="799.3" r="2.0"/><circle class="pO" cx="209.3" cy="791.9" r="2.5"/><circle class="pO" cx="214.8" cy="791.3" r="2.8"/><circle class="pO" cx="223.5" cy="801.6" r="2.9"/><circle class="pO" cx="210.9" cy="790.7" r="2.1"/><circle class="pO" cx="211.4" cy="802.8" r="2.9"/><circle class="pO" cx="217.0" cy="790.8" r="2.3"/><circle class="pO" cx="211.6" cy="798.9" r="2.7"/><circle class="pO" cx="224.0" cy="795.6" r="2.4"/><circle class="pO" cx="216.9" cy="794.6" r="2.4"/><circle class="pO" cx="221.9" cy="799.9" r="2.3"/><circle class="pO" cx="219.1" cy="791.1" r="1.9"/><circle class="pO" cx="215.0" cy="794.4" r="1.9"/><circle class="pO" cx="207.9" cy="795.4" r="2.9"/><circle class="pO" cx="213.4" cy="794.6" r="2.2"/><circle class="pO" cx="209.3" cy="798.0" r="2.8"/><circle class="pO" cx="214.9" cy="791.6" r="2.0"/><circle class="pO" cx="211.4" cy="800.1" r="2.8"/><circle class="pO" cx="213.4" cy="800.8" r="2.7"/><circle class="pO" cx="213.1" cy="795.8" r="2.3"/><circle class="pO" cx="216.9" cy="801.2" r="2.2"/><circle class="pO" cx="219.9" cy="803.8" r="2.9"/><circle class="pO" cx="210.7" cy="801.4" r="2.0"/><circle class="pO" cx="213.1" cy="795.7" r="2.8"/><path class="rB" d="M220.8,773.3Q213.1,777.9 209.0,784.3"/><path class="rB" d="M222.3,765.8Q217.1,769.4 209.3,776.6"/><path class="rB" d="M218.3,770.1Q213.6,774.3 212.3,782.2"/><path class="rB" d="M221.0,765.9Q216.2,771.3 213.1,780.5"/><path class="rB" d="M223.7,763.5Q218.8,768.0 215.8,776.1"/><path class="rB" d="M217.6,763.6Q215.8,767.3 214.1,774.8"/><path class="rB" d="M226.0,763.2Q220.0,768.6 217.8,777.2"/><path class="rO" d="M245.6,769.3Q242.8,773.2 240.1,774.8"/><path class="rO" d="M247.7,772.2Q244.3,774.2 241.2,775.9"/><path class="rO" d="M246.7,770.4Q241.2,773.2 239.2,774.0"/><path class="rO" d="M245.5,771.6Q243.1,772.1 240.8,773.5"/><path class="rO" d="M247.3,768.8Q246.1,770.4 242.9,772.1"/><path class="rO" d="M246.1,770.2Q242.8,772.1 241.6,772.1"/><path class="rO" d="M246.5,771.5Q245.6,774.4 243.0,775.4"/><path class="rO" d="M216.4,797.7Q221.9,795.3 228.7,796.0"/><path class="rO" d="M215.9,801.0Q221.1,801.2 228.1,800.1"/><path class="rO" d="M207.0,794.3Q212.9,795.5 219.3,795.9"/><path class="rO" d="M216.0,797.1Q221.5,799.5 229.3,803.9"/><path class="rO" d="M211.6,796.4Q219.1,797.1 222.7,799.4"/><path class="rO" d="M205.0,793.0Q213.5,791.1 219.2,792.8"/><path class="rO" d="M207.4,791.3Q213.6,792.7 221.7,797.2"/><path class="rB" d="M250.2,809.8Q243.9,810.7 235.3,811.6"/><path class="rB" d="M242.8,808.4Q237.4,806.9 230.9,808.3"/><path class="rB" d="M250.7,802.1Q244.6,806.2 234.8,806.9"/><path class="rB" d="M248.5,813.1Q240.0,813.2 234.9,811.5"/><path class="rB" d="M246.1,810.2Q242.6,812.1 237.1,814.2"/><path class="rB" d="M249.3,813.0Q242.8,814.8 235.0,815.1"/><path class="rB" d="M245.1,806.6Q238.6,811.0 230.3,813.0"/><circle class="pT" cx="227.3" cy="775.6" r="2.4"/><circle class="pT" cx="230.4" cy="783.4" r="2.0"/><circle class="pT" cx="224.1" cy="776.1" r="2.1"/><circle class="pT" cx="226.6" cy="786.7" r="2.9"/><circle class="pT" cx="233.1" cy="784.8" r="2.7"/><circle class="pT" cx="229.4" cy="779.0" r="2.3"/><circle class="pT" cx="221.7" cy="786.0" r="2.0"/><circle class="pT" cx="230.4" cy="791.6" r="2.6"/><circle class="pT" cx="229.3" cy="789.3" r="3.0"/><circle class="pT" cx="227.2" cy="771.3" r="2.6"/><circle class="pT" cx="229.8" cy="790.5" r="2.6"/><circle class="pT" cx="232.5" cy="785.1" r="3.0"/><circle class="pT" cx="229.1" cy="790.3" r="2.7"/><circle class="pT" cx="234.8" cy="781.4" r="2.9"/><circle class="pT" cx="226.3" cy="771.2" r="2.3"/><circle class="pT" cx="226.3" cy="777.2" r="2.7"/><circle class="pT" cx="222.0" cy="777.9" r="2.3"/><circle class="pT" cx="222.4" cy="784.5" r="2.4"/><circle class="pT" cx="232.1" cy="778.7" r="3.0"/><circle class="pT" cx="223.4" cy="783.0" r="2.1"/><circle class="pT" cx="233.5" cy="777.6" r="2.4"/><circle class="pT" cx="228.1" cy="777.0" r="2.5"/><circle class="pT" cx="221.6" cy="778.9" r="2.2"/><circle class="pT" cx="232.3" cy="788.4" r="2.7"/><circle class="pT" cx="229.2" cy="790.6" r="2.7"/><circle class="pT" cx="231.4" cy="790.0" r="3.0"/><circle class="pT" cx="231.7" cy="774.5" r="2.5"/><circle class="pT" cx="229.6" cy="784.7" r="2.0"/><circle class="pT" cx="234.5" cy="782.5" r="2.2"/><circle class="pT" cx="234.7" cy="779.7" r="2.0"/><circle class="pT" cx="230.2" cy="776.8" r="2.1"/><circle class="pT" cx="225.0" cy="784.7" r="2.3"/><circle class="pT" cx="230.2" cy="791.5" r="3.0"/><circle class="pT" cx="224.3" cy="789.7" r="2.0"/><circle class="pT" cx="229.0" cy="772.7" r="2.0"/><circle class="pT" cx="230.9" cy="782.9" r="1.9"/><circle class="pT" cx="227.7" cy="781.1" r="1.9"/><circle class="pT" cx="228.2" cy="819.2" r="2.6"/><circle class="pT" cx="221.7" cy="816.5" r="2.7"/><circle class="pT" cx="225.1" cy="817.1" r="2.5"/><circle class="pT" cx="226.4" cy="813.8" r="2.2"/><circle class="pT" cx="224.4" cy="818.7" r="2.3"/><circle class="pT" cx="232.1" cy="811.7" r="2.1"/><circle class="pT" cx="229.2" cy="807.6" r="2.1"/><circle class="pT" cx="220.7" cy="815.0" r="2.6"/><circle class="pT" cx="235.0" cy="810.8" r="2.2"/><circle class="pT" cx="223.4" cy="808.8" r="1.9"/><circle class="pT" cx="227.7" cy="812.4" r="2.3"/><circle class="pT" cx="234.9" cy="811.0" r="2.8"/><circle class="pT" cx="228.3" cy="808.2" r="1.9"/><circle class="pT" cx="229.5" cy="818.5" r="2.0"/><circle class="pT" cx="231.0" cy="809.9" r="2.7"/><circle class="pT" cx="233.1" cy="816.5" r="2.2"/><circle class="pT" cx="228.5" cy="807.5" r="2.3"/><circle class="pT" cx="233.8" cy="811.5" r="2.0"/><circle class="pT" cx="225.5" cy="809.5" r="2.4"/><circle class="pT" cx="229.6" cy="815.6" r="2.0"/><circle class="pT" cx="228.3" cy="807.5" r="2.4"/><circle class="pT" cx="232.7" cy="810.3" r="2.8"/><circle class="pT" cx="223.7" cy="812.1" r="2.8"/><circle class="pT" cx="219.9" cy="814.2" r="2.5"/><circle class="pT" cx="231.2" cy="819.5" r="2.7"/><circle class="pT" cx="223.4" cy="809.5" r="2.4"/><circle class="pY" cx="237.3" cy="784.6" r="2.0"/><circle class="pY" cx="243.4" cy="783.0" r="2.0"/><circle class="pY" cx="238.9" cy="789.8" r="2.1"/><circle class="pY" cx="243.8" cy="789.2" r="2.1"/><circle class="pY" cx="242.1" cy="783.7" r="2.0"/><circle class="pY" cx="242.6" cy="779.7" r="2.0"/><circle class="pY" cx="241.9" cy="785.7" r="2.8"/><circle class="pY" cx="245.3" cy="779.7" r="2.2"/><circle class="pY" cx="235.3" cy="783.9" r="1.9"/><circle class="pY" cx="245.9" cy="786.2" r="2.8"/><circle class="pY" cx="240.3" cy="788.9" r="2.8"/><circle class="pY" cx="245.3" cy="787.6" r="2.1"/><circle class="pY" cx="238.2" cy="778.7" r="2.7"/><circle class="pY" cx="240.1" cy="789.8" r="2.2"/><circle class="pY" cx="239.5" cy="788.4" r="3.0"/><circle class="pY" cx="244.3" cy="788.5" r="2.9"/><circle class="pY" cx="237.1" cy="785.4" r="2.0"/><circle class="pY" cx="243.1" cy="789.4" r="2.5"/><circle class="pY" cx="235.3" cy="784.8" r="2.0"/><circle class="pY" cx="239.9" cy="779.0" r="2.4"/><circle class="pY" cx="245.2" cy="786.8" r="2.8"/><circle class="pY" cx="239.9" cy="783.3" r="2.0"/><circle class="pY" cx="244.8" cy="784.8" r="2.3"/><circle class="pY" cx="213.1" cy="811.3" r="2.0"/><circle class="pY" cx="216.3" cy="807.5" r="2.8"/><circle class="pY" cx="218.4" cy="816.2" r="2.5"/><circle class="pY" cx="213.3" cy="809.1" r="2.8"/><circle class="pY" cx="218.1" cy="813.5" r="2.6"/><circle class="pY" cx="216.4" cy="815.9" r="2.9"/><circle class="pY" cx="218.2" cy="808.9" r="2.0"/><circle class="pY" cx="217.8" cy="810.7" r="2.9"/><circle class="pY" cx="213.8" cy="808.3" r="1.9"/><circle class="pY" cx="211.7" cy="812.7" r="2.2"/><circle class="pY" cx="218.4" cy="816.7" r="2.7"/><circle class="pY" cx="214.7" cy="813.1" r="2.2"/><circle class="pY" cx="220.1" cy="808.9" r="2.9"/><circle class="pY" cx="219.2" cy="816.5" r="2.3"/><circle class="pY" cx="222.3" cy="812.8" r="2.2"/><circle class="pY" cx="218.8" cy="809.5" r="2.0"/><circle class="pY" cx="212.0" cy="813.1" r="2.2"/><circle class="pY" cx="212.6" cy="815.1" r="2.1"/><circle class="pY" cx="220.0" cy="809.1" r="2.3"/></g><g><circle class="pP" cx="88.0" cy="865.1" r="2.6"/><circle class="pP" cx="87.8" cy="860.7" r="2.3"/><circle class="pP" cx="87.7" cy="860.1" r="2.6"/><circle class="pP" cx="90.2" cy="863.6" r="2.1"/><circle class="pP" cx="83.0" cy="861.0" r="2.4"/><circle class="pP" cx="90.1" cy="862.3" r="2.5"/><circle class="pP" cx="88.0" cy="862.3" r="2.6"/><circle class="pP" cx="87.6" cy="862.3" r="2.2"/><circle class="pP" cx="83.9" cy="861.5" r="2.9"/><circle class="pP" cx="90.9" cy="860.4" r="2.5"/><circle class="pP" cx="87.3" cy="861.6" r="2.1"/><circle class="pB" cx="62.5" cy="881.1" r="2.1"/><circle class="pB" cx="66.4" cy="879.6" r="2.6"/><circle class="pB" cx="67.4" cy="886.1" r="2.4"/><circle class="pB" cx="67.6" cy="881.4" r="2.4"/><circle class="pB" cx="68.6" cy="880.2" r="2.7"/><circle class="pB" cx="67.2" cy="891.1" r="2.6"/><circle class="pB" cx="66.7" cy="888.2" r="2.2"/><circle class="pB" cx="64.4" cy="883.3" r="2.7"/><circle class="pB" cx="69.0" cy="879.8" r="2.9"/><circle class="pB" cx="72.5" cy="884.2" r="3.0"/><circle class="pB" cx="67.7" cy="882.6" r="2.0"/><circle class="pB" cx="59.7" cy="885.6" r="2.7"/><circle class="pB" cx="67.6" cy="888.4" r="2.4"/><circle class="pB" cx="69.3" cy="885.8" r="2.6"/><circle class="pB" cx="66.7" cy="886.7" r="2.5"/><circle class="pB" cx="60.7" cy="886.8" r="2.7"/><circle class="pB" cx="65.1" cy="891.1" r="2.4"/><circle class="pB" cx="61.7" cy="884.5" r="2.3"/><circle class="pB" cx="61.8" cy="887.4" r="2.1"/><circle class="pB" cx="66.3" cy="891.5" r="2.0"/><circle class="pB" cx="65.4" cy="886.3" r="2.4"/><circle class="pB" cx="61.7" cy="882.2" r="2.4"/><circle class="pB" cx="66.6" cy="883.9" r="2.5"/><circle class="pO" cx="96.3" cy="884.7" r="2.3"/><circle class="pO" cx="98.6" cy="884.7" r="2.2"/><circle class="pO" cx="92.7" cy="893.5" r="2.0"/><circle class="pO" cx="94.2" cy="881.1" r="2.2"/><circle class="pO" cx="87.0" cy="872.8" r="2.4"/><circle class="pO" cx="90.9" cy="884.8" r="2.2"/><circle class="pO" cx="93.8" cy="880.6" r="2.8"/><circle class="pO" cx="96.4" cy="872.9" r="3.0"/><circle class="pO" cx="92.7" cy="876.1" r="2.2"/><circle class="pO" cx="95.1" cy="879.4" r="2.7"/><circle class="pO" cx="88.4" cy="893.2" r="2.2"/><circle class="pO" cx="97.4" cy="879.5" r="2.3"/><circle class="pO" cx="93.1" cy="882.2" r="2.5"/><circle class="pO" cx="92.9" cy="896.2" r="2.7"/><circle class="pO" cx="96.6" cy="874.2" r="1.9"/><circle class="pO" cx="87.3" cy="881.3" r="2.8"/><circle class="pO" cx="89.3" cy="881.2" r="3.0"/><circle class="pO" cx="94.2" cy="893.1" r="2.5"/><circle class="pO" cx="98.0" cy="887.1" r="2.2"/><circle class="pO" cx="90.1" cy="880.8" r="2.0"/><circle class="pO" cx="98.2" cy="880.9" r="2.1"/><circle class="pO" cx="91.9" cy="891.5" r="2.2"/><circle class="pO" cx="93.3" cy="868.2" r="2.2"/><circle class="pO" cx="87.4" cy="881.7" r="2.7"/><circle class="pO" cx="88.0" cy="887.7" r="2.5"/><circle class="pO" cx="91.3" cy="881.8" r="2.1"/><circle class="pO" cx="85.9" cy="886.2" r="2.0"/><circle class="pO" cx="92.6" cy="871.6" r="2.2"/><circle class="pO" cx="95.9" cy="879.8" r="2.1"/><circle class="pO" cx="93.8" cy="879.7" r="2.5"/><circle class="pO" cx="95.0" cy="892.5" r="2.8"/><circle class="pO" cx="88.3" cy="890.6" r="2.0"/><circle class="pO" cx="86.6" cy="881.7" r="2.1"/><circle class="pO" cx="92.9" cy="874.5" r="2.9"/><circle class="pO" cx="91.0" cy="891.8" r="2.9"/><circle class="pO" cx="91.3" cy="890.3" r="2.4"/><circle class="pO" cx="90.5" cy="869.3" r="2.6"/><circle class="pO" cx="98.2" cy="887.6" r="2.2"/><circle class="pO" cx="92.4" cy="876.8" r="2.3"/><circle class="pO" cx="91.7" cy="881.9" r="2.1"/><circle class="pO" cx="95.4" cy="873.5" r="2.3"/><circle class="pO" cx="88.3" cy="884.7" r="2.4"/><circle class="pO" cx="94.7" cy="879.1" r="2.8"/><circle class="pO" cx="92.7" cy="868.6" r="2.4"/><circle class="pO" cx="88.4" cy="874.9" r="2.9"/><circle class="pO" cx="91.7" cy="889.3" r="2.1"/><circle class="pO" cx="93.9" cy="869.1" r="2.1"/><circle class="pO" cx="95.4" cy="886.8" r="2.0"/><circle class="pO" cx="88.1" cy="890.6" r="2.7"/><path class="rB" d="M62.3,882.8Q64.9,885.1 70.0,890.8"/><path class="rB" d="M60.2,880.7Q64.5,884.8 67.6,888.3"/><path class="rB" d="M64.0,879.0Q68.6,885.5 70.2,888.2"/><path class="rB" d="M64.8,882.3Q67.4,885.0 72.0,890.9"/><path class="rB" d="M63.4,878.1Q67.7,881.9 71.1,886.3"/><path class="rB" d="M60.0,877.5Q63.5,881.9 68.6,887.8"/><path class="rB" d="M61.5,879.1Q66.8,884.9 70.0,888.3"/><path class="rO" d="M99.6,875.5Q94.9,881.9 91.6,885.7"/><path class="rO" d="M95.0,878.4Q89.4,881.6 87.7,886.6"/><path class="rO" d="M95.0,882.8Q93.7,890.6 88.6,896.0"/><path class="rO" d="M94.0,870.6Q89.5,874.8 86.6,875.6"/><path class="rO" d="M97.3,884.3Q93.3,885.5 89.4,890.0"/><path class="rO" d="M95.3,878.3Q91.7,880.0 86.9,884.6"/><path class="rO" d="M94.5,869.3Q91.0,873.5 85.8,878.3"/><circle class="pT" cx="75.0" cy="878.8" r="2.5"/><circle class="pT" cx="74.0" cy="863.8" r="2.2"/><circle class="pT" cx="69.4" cy="875.4" r="3.0"/><circle class="pT" cx="71.2" cy="860.1" r="2.9"/><circle class="pT" cx="68.2" cy="864.5" r="2.7"/><circle class="pT" cx="70.5" cy="882.5" r="2.5"/><circle class="pT" cx="65.1" cy="871.8" r="2.4"/><circle class="pT" cx="66.5" cy="874.9" r="2.1"/><circle class="pT" cx="65.1" cy="862.1" r="1.9"/><circle class="pT" cx="69.0" cy="879.2" r="2.3"/><circle class="pT" cx="74.5" cy="875.6" r="2.6"/><circle class="pT" cx="65.6" cy="883.7" r="2.3"/><circle class="pT" cx="73.6" cy="865.6" r="2.9"/><circle class="pT" cx="71.3" cy="863.8" r="2.7"/><circle class="pT" cx="63.7" cy="869.5" r="2.3"/><circle class="pT" cx="66.3" cy="868.8" r="2.1"/><circle class="pT" cx="67.2" cy="861.4" r="2.8"/><circle class="pT" cx="66.5" cy="878.5" r="2.4"/><circle class="pT" cx="71.6" cy="882.1" r="2.9"/><circle class="pT" cx="74.9" cy="870.2" r="2.6"/><circle class="pT" cx="62.4" cy="868.9" r="2.3"/><circle class="pT" cx="72.3" cy="860.9" r="2.4"/><circle class="pT" cx="68.4" cy="882.1" r="2.6"/><circle class="pT" cx="63.6" cy="877.2" r="2.2"/><circle class="pT" cx="70.3" cy="870.3" r="3.0"/><circle class="pT" cx="67.9" cy="866.3" r="2.2"/><circle class="pT" cx="75.3" cy="868.5" r="2.2"/><circle class="pT" cx="69.2" cy="877.3" r="2.9"/><circle class="pT" cx="62.6" cy="867.9" r="2.7"/><circle class="pT" cx="68.6" cy="877.9" r="2.6"/><circle class="pT" cx="64.0" cy="867.2" r="2.1"/><circle class="pT" cx="65.6" cy="862.0" r="1.9"/><circle class="pT" cx="69.0" cy="879.8" r="2.1"/><circle class="pT" cx="62.8" cy="879.0" r="2.0"/><circle class="pT" cx="63.5" cy="872.4" r="2.2"/><circle class="pT" cx="72.8" cy="872.8" r="2.5"/><circle class="pT" cx="66.8" cy="859.6" r="2.8"/><circle class="pT" cx="67.1" cy="881.7" r="2.0"/><circle class="pT" cx="67.7" cy="873.7" r="2.1"/><circle class="pT" cx="69.3" cy="879.1" r="2.6"/><circle class="pT" cx="68.3" cy="863.6" r="2.6"/><circle class="pT" cx="67.8" cy="877.6" r="1.9"/><circle class="pT" cx="65.7" cy="861.9" r="2.7"/><circle class="pT" cx="68.3" cy="866.7" r="2.8"/><circle class="pY" cx="82.6" cy="873.1" r="2.3"/><circle class="pY" cx="87.6" cy="878.8" r="2.9"/><circle class="pY" cx="82.8" cy="881.9" r="2.0"/><circle class="pY" cx="81.4" cy="880.3" r="2.3"/><circle class="pY" cx="84.4" cy="874.3" r="2.6"/><circle class="pY" cx="78.2" cy="877.6" r="2.4"/><circle class="pY" cx="82.7" cy="867.7" r="2.2"/><circle class="pY" cx="85.3" cy="870.2" r="2.4"/><circle class="pY" cx="85.6" cy="883.9" r="3.0"/><circle class="pY" cx="80.7" cy="875.4" r="2.7"/><circle class="pY" cx="75.7" cy="877.1" r="2.2"/><circle class="pY" cx="83.1" cy="883.1" r="2.8"/><circle class="pY" cx="82.4" cy="882.1" r="2.0"/><circle class="pY" cx="84.5" cy="887.5" r="2.6"/><circle class="pY" cx="82.2" cy="878.0" r="2.4"/><circle class="pY" cx="77.8" cy="870.9" r="2.8"/><circle class="pY" cx="82.5" cy="867.4" r="2.6"/><circle class="pY" cx="86.9" cy="881.2" r="2.1"/><circle class="pY" cx="82.4" cy="876.9" r="2.1"/><circle class="pY" cx="79.1" cy="870.7" r="2.1"/><circle class="pY" cx="75.9" cy="881.1" r="2.6"/><circle class="pY" cx="81.2" cy="876.8" r="2.9"/><circle class="pY" cx="84.4" cy="877.0" r="2.7"/><circle class="pY" cx="85.6" cy="873.5" r="2.0"/><circle class="pY" cx="85.5" cy="883.4" r="2.6"/><circle class="pY" cx="77.0" cy="883.3" r="2.1"/><circle class="pY" cx="86.4" cy="880.6" r="2.6"/><circle class="pY" cx="76.4" cy="874.7" r="2.7"/><circle class="pY" cx="81.1" cy="885.8" r="2.6"/><circle class="pY" cx="78.5" cy="868.3" r="2.8"/><circle class="pY" cx="87.1" cy="882.4" r="2.1"/><circle class="pY" cx="77.7" cy="873.7" r="3.0"/><circle class="pY" cx="85.6" cy="883.7" r="2.2"/><circle class="pY" cx="83.2" cy="868.4" r="2.7"/><circle class="pY" cx="84.4" cy="885.3" r="2.7"/><circle class="pY" cx="82.3" cy="888.6" r="2.4"/></g><g><circle class="pB" cx="86.6" cy="951.6" r="2.8"/><circle class="pB" cx="89.6" cy="961.8" r="2.2"/><circle class="pB" cx="84.4" cy="931.1" r="2.6"/><circle class="pB" cx="90.3" cy="962.4" r="2.5"/><circle class="pB" cx="92.6" cy="955.7" r="2.1"/><circle class="pB" cx="91.3" cy="944.9" r="2.1"/><circle class="pB" cx="82.9" cy="942.3" r="2.7"/><circle class="pB" cx="88.9" cy="940.9" r="2.0"/><circle class="pB" cx="93.9" cy="955.5" r="2.8"/><circle class="pB" cx="83.0" cy="945.7" r="2.2"/><circle class="pB" cx="94.7" cy="937.0" r="1.9"/><circle class="pB" cx="86.7" cy="931.8" r="1.9"/><circle class="pB" cx="90.0" cy="950.5" r="2.5"/><circle class="pB" cx="78.5" cy="949.0" r="2.5"/><circle class="pB" cx="83.5" cy="937.6" r="2.1"/><circle class="pB" cx="87.4" cy="942.5" r="2.5"/><circle class="pB" cx="91.5" cy="939.4" r="2.6"/><circle class="pB" cx="82.6" cy="955.2" r="2.1"/><circle class="pB" cx="89.8" cy="954.9" r="2.8"/><circle class="pB" cx="88.4" cy="960.8" r="3.0"/><circle class="pB" cx="94.0" cy="942.2" r="2.2"/><circle class="pB" cx="90.5" cy="934.4" r="2.1"/><circle class="pB" cx="79.0" cy="952.0" r="2.3"/><circle class="pB" cx="88.4" cy="941.6" r="2.3"/><circle class="pB" cx="95.7" cy="940.1" r="1.9"/><circle class="pB" cx="98.1" cy="942.9" r="2.8"/><circle class="pB" cx="86.7" cy="962.7" r="2.0"/><circle class="pB" cx="87.2" cy="951.9" r="1.9"/><circle class="pB" cx="96.7" cy="941.5" r="2.6"/><circle class="pB" cx="88.4" cy="933.2" r="2.8"/><circle class="pB" cx="87.9" cy="956.5" r="2.6"/><circle class="pB" cx="89.2" cy="935.9" r="2.1"/><circle class="pB" cx="78.8" cy="944.7" r="2.2"/><circle class="pB" cx="93.3" cy="934.1" r="2.0"/><circle class="pB" cx="89.8" cy="949.8" r="2.3"/><circle class="pB" cx="84.5" cy="934.8" r="2.7"/><circle class="pB" cx="85.0" cy="950.3" r="2.8"/><circle class="pB" cx="78.6" cy="944.4" r="2.3"/><circle class="pB" cx="97.0" cy="951.0" r="2.1"/><circle class="pB" cx="86.9" cy="930.6" r="2.5"/><circle class="pB" cx="87.9" cy="948.2" r="2.1"/><circle class="pB" cx="89.5" cy="940.6" r="2.7"/><circle class="pB" cx="86.7" cy="935.9" r="2.2"/><circle class="pB" cx="90.5" cy="933.3" r="2.9"/><circle class="pB" cx="81.8" cy="943.9" r="2.0"/><circle class="pB" cx="86.8" cy="962.5" r="2.1"/><circle class="pB" cx="80.8" cy="948.5" r="2.6"/><circle class="pB" cx="80.1" cy="937.5" r="2.6"/><circle class="pB" cx="91.9" cy="959.4" r="2.8"/><circle class="pB" cx="95.4" cy="937.3" r="2.2"/><circle class="pB" cx="89.9" cy="950.9" r="2.6"/><circle class="pB" cx="88.9" cy="938.0" r="2.2"/><circle class="pB" cx="89.5" cy="933.0" r="2.9"/><circle class="pB" cx="97.8" cy="951.1" r="1.9"/><circle class="pB" cx="85.2" cy="942.3" r="2.2"/><circle class="pB" cx="77.4" cy="945.2" r="2.4"/><circle class="pB" cx="96.0" cy="946.9" r="2.8"/><circle class="pB" cx="84.6" cy="955.5" r="2.8"/><circle class="pB" cx="84.6" cy="955.0" r="2.3"/><circle class="pB" cx="80.7" cy="944.2" r="2.0"/><circle class="pB" cx="92.4" cy="938.6" r="2.4"/><circle class="pB" cx="94.4" cy="950.3" r="2.9"/><circle class="pB" cx="92.6" cy="953.4" r="2.7"/><circle class="pB" cx="91.8" cy="961.1" r="2.6"/><circle class="pB" cx="91.2" cy="948.6" r="2.5"/><circle class="pB" cx="97.2" cy="940.2" r="2.1"/><circle class="pB" cx="87.8" cy="940.6" r="2.7"/><circle class="pB" cx="81.5" cy="951.0" r="2.3"/><circle class="pB" cx="91.6" cy="945.9" r="2.0"/><circle class="pB" cx="79.0" cy="950.9" r="2.6"/><circle class="pO" cx="68.5" cy="949.4" r="2.5"/><circle class="pO" cx="64.2" cy="956.8" r="2.6"/><circle class="pO" cx="59.3" cy="956.9" r="2.9"/><circle class="pO" cx="59.2" cy="948.9" r="2.9"/><circle class="pO" cx="71.1" cy="951.3" r="2.9"/><circle class="pO" cx="68.5" cy="955.3" r="2.2"/><circle class="pO" cx="61.1" cy="959.0" r="2.8"/><circle class="pO" cx="68.8" cy="955.0" r="3.0"/><circle class="pO" cx="71.2" cy="944.0" r="2.0"/><circle class="pO" cx="57.9" cy="943.4" r="2.5"/><circle class="pO" cx="61.5" cy="940.8" r="2.0"/><circle class="pO" cx="70.2" cy="956.8" r="2.0"/><circle class="pO" cx="66.1" cy="960.8" r="2.3"/><circle class="pO" cx="66.6" cy="956.7" r="1.9"/><circle class="pO" cx="74.7" cy="955.9" r="2.7"/><circle class="pO" cx="62.0" cy="949.1" r="2.9"/><circle class="pO" cx="69.1" cy="960.2" r="2.1"/><circle class="pO" cx="58.2" cy="948.3" r="2.8"/><circle class="pO" cx="67.3" cy="953.1" r="2.0"/><circle class="pO" cx="58.5" cy="951.3" r="2.7"/><circle class="pO" cx="61.3" cy="947.2" r="2.3"/><circle class="pO" cx="69.3" cy="960.2" r="2.6"/><circle class="pO" cx="68.5" cy="946.0" r="2.8"/><circle class="pO" cx="68.1" cy="952.0" r="2.9"/><circle class="pO" cx="64.2" cy="939.3" r="2.5"/><circle class="pO" cx="59.1" cy="954.0" r="2.3"/><circle class="pO" cx="56.7" cy="943.7" r="2.5"/><circle class="pO" cx="71.0" cy="940.0" r="2.6"/><circle class="pO" cx="56.8" cy="950.0" r="2.0"/><circle class="pO" cx="60.5" cy="948.1" r="2.5"/><circle class="pO" cx="69.5" cy="959.5" r="2.3"/><circle class="pO" cx="62.1" cy="942.2" r="2.7"/><circle class="pO" cx="62.6" cy="942.3" r="2.1"/><circle class="pO" cx="63.8" cy="957.4" r="2.4"/><circle class="pO" cx="73.3" cy="948.6" r="2.5"/><circle class="pO" cx="59.9" cy="947.1" r="2.7"/><circle class="pO" cx="55.7" cy="948.1" r="2.2"/><circle class="pO" cx="60.7" cy="945.3" r="2.1"/><circle class="pO" cx="67.6" cy="938.2" r="2.2"/><circle class="pO" cx="60.1" cy="941.6" r="2.8"/><circle class="pO" cx="70.2" cy="958.6" r="2.0"/><circle class="pO" cx="58.2" cy="944.8" r="2.5"/><circle class="pO" cx="73.8" cy="957.3" r="2.8"/><circle class="pO" cx="61.8" cy="947.5" r="1.9"/><circle class="pO" cx="62.1" cy="940.3" r="2.9"/><circle class="pO" cx="58.8" cy="944.9" r="2.1"/><circle class="pO" cx="64.3" cy="942.5" r="2.2"/><circle class="pO" cx="71.4" cy="945.8" r="3.0"/><circle class="pO" cx="77.0" cy="952.5" r="2.1"/><circle class="pO" cx="54.9" cy="950.3" r="2.4"/><circle class="pO" cx="73.4" cy="943.0" r="3.0"/><circle class="pO" cx="68.5" cy="938.1" r="2.1"/><circle class="pO" cx="71.5" cy="953.2" r="1.9"/><circle class="pO" cx="76.3" cy="944.4" r="2.7"/><circle class="pO" cx="66.7" cy="949.0" r="2.5"/><circle class="pO" cx="63.2" cy="957.7" r="2.1"/><circle class="pO" cx="62.1" cy="944.9" r="2.0"/><circle class="pO" cx="65.3" cy="938.7" r="2.2"/><path class="rO" d="M70.3,937.2Q61.8,943.4 56.3,950.6"/><path class="rO" d="M74.9,944.1Q65.4,953.5 58.0,960.8"/><path class="rO" d="M66.6,950.0Q62.0,956.3 54.9,959.5"/><path class="rO" d="M69.2,951.1Q62.5,955.2 53.5,957.6"/><path class="rO" d="M73.8,939.6Q67.7,949.5 59.3,955.9"/><path class="rO" d="M67.1,946.0Q58.7,951.8 54.1,954.4"/><path class="rO" d="M75.1,945.5Q70.3,950.4 63.1,958.7"/><path class="rB" d="M97.6,941.5Q91.5,945.1 82.3,951.0"/><path class="rB" d="M92.9,935.9Q88.7,944.8 80.6,950.5"/><path class="rB" d="M98.8,949.4Q89.9,955.2 84.3,961.7"/><path class="rB" d="M94.1,935.5Q86.6,938.2 81.2,944.1"/><path class="rB" d="M95.8,939.2Q87.9,942.6 80.5,948.8"/><path class="rB" d="M88.8,944.4Q82.9,950.0 77.0,956.3"/><path class="rB" d="M96.9,930.4Q91.4,938.3 87.3,947.4"/><circle class="pT" cx="76.2" cy="962.8" r="2.7"/><circle class="pT" cx="71.8" cy="966.3" r="2.7"/><circle class="pT" cx="75.0" cy="968.6" r="2.3"/><circle class="pT" cx="78.7" cy="960.2" r="2.2"/><circle class="pT" cx="77.9" cy="967.1" r="2.4"/><circle class="pT" cx="71.0" cy="966.1" r="2.9"/><circle class="pT" cx="74.1" cy="961.6" r="2.6"/><circle class="pT" cx="73.6" cy="960.2" r="2.0"/><circle class="pT" cx="78.8" cy="970.7" r="2.7"/><circle class="pT" cx="78.3" cy="970.6" r="2.8"/><circle class="pT" cx="74.0" cy="963.9" r="3.0"/><circle class="pT" cx="83.0" cy="967.5" r="2.6"/><circle class="pT" cx="75.0" cy="960.0" r="2.3"/><circle class="pT" cx="73.5" cy="967.3" r="2.6"/><circle class="pT" cx="78.8" cy="971.1" r="1.9"/><circle class="pT" cx="73.2" cy="960.1" r="2.3"/><circle class="pT" cx="82.6" cy="965.1" r="2.8"/><circle class="pT" cx="72.9" cy="963.6" r="2.8"/><circle class="pT" cx="74.4" cy="968.7" r="2.6"/><circle class="pT" cx="79.2" cy="959.2" r="2.3"/><circle class="pT" cx="78.3" cy="968.2" r="2.4"/><circle class="pT" cx="78.7" cy="964.1" r="2.2"/><circle class="pT" cx="74.3" cy="961.9" r="2.7"/><circle class="pY" cx="68.1" cy="961.6" r="2.8"/><circle class="pY" cx="69.1" cy="959.8" r="2.1"/><circle class="pY" cx="68.1" cy="954.5" r="2.5"/><circle class="pY" cx="65.7" cy="956.9" r="2.4"/><circle class="pY" cx="65.8" cy="955.8" r="2.9"/><circle class="pY" cx="69.0" cy="961.4" r="2.9"/><circle class="pY" cx="70.2" cy="956.7" r="2.7"/><circle class="pY" cx="69.8" cy="959.5" r="2.4"/><circle class="pY" cx="68.5" cy="961.2" r="2.5"/></g><g><circle class="pP" cx="155.7" cy="872.5" r="2.9"/><circle class="pP" cx="165.9" cy="872.8" r="2.9"/><circle class="pP" cx="166.6" cy="870.6" r="2.7"/><circle class="pP" cx="169.4" cy="872.4" r="2.8"/><circle class="pP" cx="159.9" cy="870.5" r="2.6"/><circle class="pP" cx="167.2" cy="874.3" r="2.9"/><circle class="pP" cx="157.0" cy="871.1" r="2.3"/><circle class="pP" cx="167.2" cy="875.1" r="3.0"/><circle class="pP" cx="168.4" cy="873.3" r="2.7"/><circle class="pP" cx="167.6" cy="873.2" r="2.6"/><circle class="pP" cx="168.1" cy="875.9" r="2.1"/><circle class="pP" cx="167.5" cy="870.3" r="2.8"/><circle class="pP" cx="166.7" cy="870.0" r="2.1"/><circle class="pP" cx="165.2" cy="874.1" r="2.1"/><circle class="pP" cx="168.9" cy="870.5" r="2.8"/><circle class="pP" cx="165.8" cy="873.4" r="2.9"/><circle class="pP" cx="162.0" cy="872.2" r="2.2"/><circle class="pP" cx="168.0" cy="871.4" r="2.9"/><circle class="pB" cx="170.7" cy="869.0" r="2.6"/><circle class="pB" cx="161.3" cy="863.7" r="2.8"/><circle class="pB" cx="162.7" cy="878.9" r="1.9"/><circle class="pB" cx="157.0" cy="867.1" r="2.8"/><circle class="pB" cx="160.7" cy="870.4" r="2.8"/><circle class="pB" cx="169.1" cy="867.3" r="2.7"/><circle class="pB" cx="160.4" cy="878.2" r="2.6"/><circle class="pB" cx="155.3" cy="872.1" r="2.4"/><circle class="pB" cx="162.1" cy="873.8" r="2.7"/><circle class="pB" cx="161.1" cy="873.1" r="2.8"/><circle class="pB" cx="166.0" cy="866.4" r="2.1"/><circle class="pB" cx="160.9" cy="880.5" r="3.0"/><circle class="pB" cx="166.3" cy="870.0" r="2.7"/><circle class="pB" cx="162.9" cy="882.0" r="2.5"/><circle class="pB" cx="165.2" cy="876.5" r="2.6"/><circle class="pB" cx="157.2" cy="874.1" r="2.4"/><circle class="pB" cx="166.0" cy="878.4" r="2.1"/><circle class="pB" cx="160.6" cy="867.7" r="3.0"/><circle class="pB" cx="162.7" cy="871.7" r="3.0"/><circle class="pB" cx="167.8" cy="880.1" r="2.5"/><circle class="pB" cx="156.3" cy="870.1" r="2.0"/><circle class="pB" cx="161.1" cy="871.7" r="2.4"/><circle class="pB" cx="171.2" cy="873.4" r="2.1"/><circle class="pB" cx="157.2" cy="876.4" r="2.5"/><circle class="pB" cx="161.3" cy="872.6" r="2.4"/><circle class="pB" cx="166.0" cy="874.6" r="2.0"/><circle class="pB" cx="162.8" cy="867.6" r="2.5"/><circle class="pB" cx="162.2" cy="878.1" r="3.0"/><circle class="pB" cx="167.1" cy="875.1" r="2.5"/><circle class="pB" cx="156.1" cy="877.4" r="2.1"/><circle class="pB" cx="160.7" cy="874.4" r="2.2"/><circle class="pB" cx="169.2" cy="873.7" r="3.0"/><circle class="pB" cx="154.5" cy="872.0" r="2.3"/><circle class="pB" cx="164.2" cy="875.8" r="2.5"/><circle class="pB" cx="170.5" cy="871.5" r="2.3"/><circle class="pB" cx="167.2" cy="873.8" r="2.2"/><circle class="pB" cx="155.4" cy="873.5" r="2.9"/><circle class="pB" cx="169.1" cy="879.2" r="2.6"/><circle class="pO" cx="161.9" cy="892.4" r="2.1"/><circle class="pO" cx="160.1" cy="909.3" r="2.5"/><circle class="pO" cx="162.8" cy="901.7" r="2.4"/><circle class="pO" cx="166.4" cy="894.5" r="2.7"/><circle class="pO" cx="159.5" cy="904.9" r="2.5"/><circle class="pO" cx="165.1" cy="912.0" r="2.9"/><circle class="pO" cx="161.1" cy="895.4" r="2.7"/><circle class="pO" cx="166.1" cy="886.3" r="2.5"/><circle class="pO" cx="155.6" cy="903.5" r="2.1"/><circle class="pO" cx="156.1" cy="891.2" r="2.2"/><circle class="pO" cx="163.4" cy="910.2" r="2.6"/><circle class="pO" cx="165.6" cy="907.1" r="2.3"/><circle class="pO" cx="159.7" cy="903.6" r="2.1"/><circle class="pO" cx="168.4" cy="912.0" r="2.9"/><circle class="pO" cx="154.1" cy="887.4" r="2.6"/><circle class="pO" cx="157.5" cy="888.9" r="2.6"/><circle class="pO" cx="162.6" cy="900.0" r="2.5"/><circle class="pO" cx="164.8" cy="907.6" r="2.7"/><circle class="pO" cx="167.2" cy="909.1" r="2.4"/><circle class="pO" cx="165.4" cy="886.8" r="2.0"/><circle class="pO" cx="160.3" cy="904.5" r="2.2"/><circle class="pO" cx="161.4" cy="897.9" r="3.0"/><circle class="pO" cx="152.2" cy="891.1" r="2.6"/><circle class="pO" cx="157.9" cy="894.0" r="2.0"/><circle class="pO" cx="172.9" cy="897.1" r="2.5"/><circle class="pO" cx="151.0" cy="905.1" r="2.0"/><circle class="pO" cx="162.4" cy="893.4" r="2.9"/><circle class="pO" cx="160.0" cy="909.5" r="1.9"/><circle class="pO" cx="158.1" cy="884.5" r="2.2"/><circle class="pO" cx="157.9" cy="899.8" r="2.3"/><circle class="pO" cx="156.3" cy="898.1" r="2.4"/><circle class="pO" cx="153.0" cy="899.5" r="2.5"/><circle class="pO" cx="163.6" cy="906.4" r="2.4"/><circle class="pO" cx="151.3" cy="892.8" r="2.4"/><circle class="pO" cx="159.2" cy="889.9" r="2.8"/><circle class="pO" cx="156.3" cy="900.4" r="2.6"/><circle class="pO" cx="151.6" cy="896.8" r="2.0"/><circle class="pO" cx="162.7" cy="906.1" r="2.8"/><circle class="pO" cx="160.5" cy="904.1" r="2.3"/><circle class="pO" cx="173.6" cy="898.7" r="2.9"/><circle class="pO" cx="149.9" cy="895.4" r="2.7"/><circle class="pO" cx="170.7" cy="898.8" r="2.8"/><circle class="pO" cx="168.6" cy="896.2" r="2.7"/><circle class="pO" cx="162.0" cy="886.8" r="2.9"/><circle class="pO" cx="154.4" cy="907.5" r="1.9"/><circle class="pO" cx="161.6" cy="892.7" r="2.5"/><circle class="pO" cx="158.4" cy="900.5" r="2.4"/><circle class="pO" cx="168.6" cy="903.8" r="2.2"/><circle class="pO" cx="153.5" cy="890.7" r="2.3"/><circle class="pO" cx="159.6" cy="899.0" r="2.7"/><circle class="pO" cx="156.1" cy="899.5" r="1.9"/><circle class="pO" cx="165.2" cy="884.5" r="2.6"/><circle class="pO" cx="163.9" cy="895.2" r="3.0"/><circle class="pO" cx="151.0" cy="890.8" r="2.7"/><circle class="pO" cx="168.1" cy="894.3" r="2.9"/><circle class="pO" cx="152.5" cy="890.4" r="2.5"/><circle class="pO" cx="162.5" cy="908.0" r="2.2"/><circle class="pO" cx="172.4" cy="903.0" r="2.7"/><circle class="pO" cx="163.6" cy="889.9" r="2.5"/><circle class="pO" cx="157.0" cy="892.9" r="2.2"/><circle class="pO" cx="168.9" cy="903.5" r="2.0"/><circle class="pO" cx="167.1" cy="910.7" r="2.0"/><circle class="pO" cx="148.6" cy="902.1" r="2.9"/><circle class="pO" cx="163.0" cy="899.1" r="2.3"/><circle class="pO" cx="163.4" cy="911.8" r="2.6"/><circle class="pO" cx="168.2" cy="897.8" r="2.9"/><circle class="pO" cx="168.9" cy="899.2" r="2.2"/><circle class="pO" cx="165.4" cy="885.5" r="2.5"/><circle class="pO" cx="159.6" cy="902.0" r="2.2"/><circle class="pO" cx="172.5" cy="898.4" r="2.8"/><circle class="pO" cx="155.1" cy="911.0" r="2.5"/><circle class="pO" cx="162.8" cy="896.9" r="2.9"/><circle class="pO" cx="163.3" cy="900.0" r="2.3"/><circle class="pO" cx="160.5" cy="891.7" r="2.4"/><circle class="pO" cx="155.2" cy="885.7" r="2.3"/><circle class="pO" cx="156.7" cy="891.8" r="2.5"/><circle class="pO" cx="156.0" cy="905.9" r="2.2"/><circle class="pO" cx="166.7" cy="891.5" r="2.6"/><circle class="pO" cx="157.8" cy="899.2" r="2.2"/><circle class="pO" cx="162.7" cy="903.5" r="2.8"/><path class="rB" d="M160.1,867.4Q164.9,875.2 166.8,879.5"/><path class="rB" d="M158.9,865.0Q162.2,872.7 165.1,878.2"/><path class="rB" d="M160.1,868.1Q163.3,870.9 167.5,877.7"/><path class="rB" d="M159.8,869.1Q165.8,874.9 169.8,883.7"/><path class="rB" d="M153.9,873.3Q162.4,876.1 168.6,881.8"/><path class="rB" d="M157.1,871.3Q160.4,874.1 163.4,879.4"/><path class="rB" d="M160.2,870.2Q164.1,874.7 171.9,876.0"/><path class="rO" d="M173.4,890.1Q165.1,891.6 155.6,891.0"/><path class="rO" d="M172.4,886.5Q160.9,892.0 152.3,898.4"/><path class="rO" d="M176.6,891.1Q166.7,898.5 158.1,903.7"/><path class="rO" d="M168.1,903.4Q160.0,904.2 151.5,905.5"/><path class="rO" d="M166.4,900.9Q154.9,907.6 146.8,910.7"/><path class="rO" d="M177.2,895.5Q167.8,901.9 158.8,908.5"/><path class="rO" d="M168.7,891.8Q158.9,894.0 147.0,894.3"/><circle class="pT" cx="139.6" cy="885.8" r="2.2"/><circle class="pT" cx="142.6" cy="882.1" r="2.8"/><circle class="pT" cx="138.2" cy="880.6" r="2.0"/><circle class="pT" cx="134.9" cy="881.9" r="2.3"/><circle class="pT" cx="144.7" cy="879.8" r="2.2"/><circle class="pT" cx="142.1" cy="879.8" r="1.9"/><circle class="pT" cx="136.3" cy="889.8" r="2.7"/><circle class="pT" cx="144.0" cy="879.3" r="2.5"/><circle class="pT" cx="138.1" cy="881.5" r="2.9"/><circle class="pT" cx="137.8" cy="881.9" r="2.9"/><circle class="pT" cx="140.2" cy="894.0" r="2.5"/><circle class="pT" cx="138.9" cy="891.1" r="2.6"/><circle class="pT" cx="143.4" cy="890.8" r="2.4"/><circle class="pT" cx="142.8" cy="895.7" r="2.3"/><circle class="pT" cx="143.6" cy="890.4" r="2.5"/><circle class="pT" cx="144.0" cy="883.8" r="2.0"/><circle class="pT" cx="141.0" cy="892.1" r="2.1"/><circle class="pT" cx="140.3" cy="894.7" r="1.9"/><circle class="pT" cx="145.1" cy="879.6" r="2.3"/><circle class="pT" cx="143.1" cy="886.5" r="2.2"/><circle class="pT" cx="136.6" cy="881.8" r="2.9"/><circle class="pT" cx="143.1" cy="890.1" r="2.9"/><circle class="pT" cx="136.7" cy="873.2" r="2.8"/><circle class="pT" cx="135.0" cy="885.0" r="2.3"/><circle class="pT" cx="145.8" cy="888.1" r="2.1"/><circle class="pT" cx="135.5" cy="883.4" r="2.5"/><circle class="pT" cx="140.4" cy="886.8" r="2.0"/><circle class="pT" cx="139.1" cy="894.5" r="2.2"/><circle class="pT" cx="137.0" cy="874.2" r="2.9"/><circle class="pT" cx="145.2" cy="881.3" r="2.3"/><circle class="pT" cx="139.2" cy="896.2" r="2.9"/><circle class="pT" cx="142.9" cy="872.3" r="2.9"/><circle class="pT" cx="136.8" cy="891.7" r="2.3"/><circle class="pT" cx="135.2" cy="889.2" r="2.2"/><circle class="pT" cx="142.8" cy="882.3" r="2.0"/><circle class="pT" cx="138.1" cy="878.3" r="2.8"/><circle class="pT" cx="136.7" cy="875.2" r="2.3"/><circle class="pT" cx="138.6" cy="875.1" r="2.7"/><circle class="pT" cx="134.8" cy="885.4" r="2.0"/><circle class="pT" cx="138.5" cy="877.8" r="2.4"/><circle class="pT" cx="146.0" cy="891.6" r="2.4"/><circle class="pT" cx="137.0" cy="888.5" r="2.7"/><circle class="pT" cx="143.4" cy="884.5" r="2.7"/><circle class="pY" cx="148.9" cy="902.2" r="2.7"/><circle class="pY" cx="156.5" cy="892.3" r="2.9"/><circle class="pY" cx="151.1" cy="902.3" r="2.4"/><circle class="pY" cx="159.0" cy="886.9" r="2.5"/><circle class="pY" cx="152.6" cy="892.6" r="2.8"/><circle class="pY" cx="157.3" cy="883.6" r="2.7"/><circle class="pY" cx="152.0" cy="889.0" r="2.0"/><circle class="pY" cx="155.3" cy="893.1" r="2.0"/><circle class="pY" cx="148.7" cy="887.2" r="2.0"/><circle class="pY" cx="149.5" cy="888.1" r="2.4"/><circle class="pY" cx="159.0" cy="892.7" r="2.2"/><circle class="pY" cx="150.8" cy="888.0" r="2.4"/><circle class="pY" cx="146.3" cy="897.3" r="2.9"/><circle class="pY" cx="153.7" cy="902.5" r="2.8"/><circle class="pY" cx="152.2" cy="891.9" r="2.7"/><circle class="pY" cx="149.4" cy="881.1" r="2.4"/><circle class="pY" cx="156.8" cy="895.6" r="1.9"/><circle class="pY" cx="151.9" cy="883.5" r="2.2"/><circle class="pY" cx="147.2" cy="894.1" r="2.7"/><circle class="pY" cx="157.9" cy="891.5" r="2.0"/><circle class="pY" cx="145.5" cy="883.5" r="2.2"/><circle class="pY" cx="145.9" cy="899.8" r="2.3"/><circle class="pY" cx="151.3" cy="898.2" r="2.1"/><circle class="pY" cx="151.6" cy="880.2" r="2.4"/><circle class="pY" cx="158.6" cy="893.0" r="2.2"/><circle class="pY" cx="153.8" cy="891.4" r="2.4"/><circle class="pY" cx="153.8" cy="896.5" r="2.9"/><circle class="pY" cx="156.7" cy="895.8" r="2.8"/><circle class="pY" cx="146.6" cy="884.0" r="2.8"/><circle class="pY" cx="150.5" cy="879.7" r="2.7"/><circle class="pY" cx="145.6" cy="885.8" r="2.9"/><circle class="pY" cx="146.5" cy="899.3" r="2.2"/><circle class="pY" cx="156.4" cy="888.5" r="2.5"/><circle class="pY" cx="154.6" cy="896.6" r="2.1"/><circle class="pY" cx="154.4" cy="883.3" r="2.2"/><circle class="pY" cx="156.2" cy="882.9" r="2.4"/><circle class="pY" cx="145.3" cy="893.3" r="2.1"/><circle class="pY" cx="149.3" cy="903.0" r="2.4"/><circle class="pY" cx="151.6" cy="880.0" r="2.2"/><circle class="pY" cx="145.1" cy="894.3" r="2.1"/><circle class="pY" cx="146.3" cy="882.7" r="2.7"/><circle class="pY" cx="154.1" cy="886.3" r="2.2"/><circle class="pY" cx="147.9" cy="892.5" r="2.5"/><circle class="pY" cx="153.7" cy="886.0" r="2.6"/></g><g><circle class="pB" cx="166.5" cy="937.6" r="2.3"/><circle class="pB" cx="168.1" cy="943.8" r="2.8"/><circle class="pB" cx="157.9" cy="953.4" r="2.5"/><circle class="pB" cx="166.7" cy="941.1" r="2.7"/><circle class="pB" cx="171.4" cy="956.9" r="1.9"/><circle class="pB" cx="171.6" cy="945.4" r="2.9"/><circle class="pB" cx="163.1" cy="943.5" r="2.1"/><circle class="pB" cx="165.9" cy="938.4" r="3.0"/><circle class="pB" cx="161.2" cy="958.3" r="2.3"/><circle class="pB" cx="172.8" cy="954.5" r="2.4"/><circle class="pB" cx="170.2" cy="954.5" r="2.4"/><circle class="pB" cx="160.6" cy="962.0" r="2.6"/><circle class="pB" cx="165.4" cy="967.8" r="2.4"/><circle class="pB" cx="169.9" cy="942.1" r="2.3"/><circle class="pB" cx="168.1" cy="945.1" r="3.0"/><circle class="pB" cx="169.5" cy="945.5" r="2.7"/><circle class="pB" cx="171.8" cy="951.3" r="2.5"/><circle class="pB" cx="168.5" cy="944.8" r="2.0"/><circle class="pB" cx="160.8" cy="953.4" r="2.6"/><circle class="pB" cx="171.7" cy="945.4" r="2.1"/><circle class="pB" cx="164.6" cy="942.1" r="2.2"/><circle class="pB" cx="165.8" cy="958.4" r="2.0"/><circle class="pB" cx="160.6" cy="951.7" r="2.5"/><circle class="pB" cx="160.7" cy="957.6" r="2.5"/><circle class="pB" cx="168.0" cy="939.8" r="2.5"/><circle class="pB" cx="162.2" cy="945.7" r="2.0"/><circle class="pB" cx="169.1" cy="957.5" r="2.2"/><circle class="pB" cx="166.8" cy="958.8" r="2.2"/><circle class="pB" cx="173.2" cy="959.4" r="2.5"/><circle class="pB" cx="159.6" cy="950.6" r="1.9"/><circle class="pB" cx="161.2" cy="961.4" r="2.0"/><circle class="pB" cx="161.1" cy="947.7" r="3.0"/><circle class="pB" cx="160.5" cy="950.0" r="2.5"/><circle class="pB" cx="158.5" cy="954.6" r="2.0"/><circle class="pB" cx="163.0" cy="947.1" r="3.0"/><circle class="pB" cx="164.9" cy="946.3" r="2.3"/><circle class="pB" cx="162.7" cy="942.1" r="2.2"/><circle class="pB" cx="169.1" cy="948.0" r="2.2"/><circle class="pB" cx="162.7" cy="945.4" r="2.8"/><circle class="pB" cx="173.6" cy="954.2" r="2.0"/><circle class="pB" cx="171.4" cy="960.8" r="1.9"/><circle class="pB" cx="162.5" cy="963.1" r="2.4"/><circle class="pB" cx="161.3" cy="942.6" r="2.7"/><circle class="pB" cx="161.3" cy="957.7" r="3.0"/><circle class="pB" cx="159.7" cy="957.9" r="2.6"/><circle class="pB" cx="162.9" cy="948.7" r="2.8"/><circle class="pB" cx="166.7" cy="956.5" r="2.0"/><circle class="pB" cx="167.9" cy="941.7" r="2.8"/><circle class="pB" cx="170.4" cy="957.2" r="2.6"/><circle class="pB" cx="169.5" cy="948.2" r="1.9"/><circle class="pB" cx="158.5" cy="955.6" r="3.0"/><circle class="pB" cx="165.1" cy="943.5" r="1.9"/><circle class="pO" cx="140.4" cy="936.0" r="2.3"/><circle class="pO" cx="142.9" cy="953.0" r="3.0"/><circle class="pO" cx="152.8" cy="929.4" r="2.4"/><circle class="pO" cx="148.3" cy="934.4" r="2.8"/><circle class="pO" cx="141.8" cy="950.5" r="2.7"/><circle class="pO" cx="151.2" cy="926.5" r="2.0"/><circle class="pO" cx="142.2" cy="946.0" r="2.7"/><circle class="pO" cx="152.7" cy="935.8" r="2.7"/><circle class="pO" cx="140.5" cy="945.1" r="2.2"/><circle class="pO" cx="146.8" cy="943.5" r="2.9"/><circle class="pO" cx="141.1" cy="949.8" r="2.0"/><circle class="pO" cx="140.8" cy="947.0" r="2.0"/><circle class="pO" cx="141.8" cy="947.3" r="2.6"/><circle class="pO" cx="159.3" cy="940.3" r="2.3"/><circle class="pO" cx="157.0" cy="932.8" r="2.9"/><circle class="pO" cx="145.1" cy="937.4" r="2.8"/><circle class="pO" cx="154.2" cy="930.1" r="2.6"/><circle class="pO" cx="159.5" cy="937.2" r="2.5"/><circle class="pO" cx="151.9" cy="947.8" r="2.3"/><circle class="pO" cx="145.5" cy="929.8" r="2.6"/><circle class="pO" cx="144.3" cy="950.0" r="1.9"/><circle class="pO" cx="154.2" cy="929.3" r="2.9"/><circle class="pO" cx="155.7" cy="935.8" r="2.0"/><circle class="pO" cx="141.6" cy="930.9" r="3.0"/><circle class="pO" cx="136.9" cy="942.4" r="2.4"/><circle class="pO" cx="149.5" cy="951.8" r="2.8"/><circle class="pO" cx="147.3" cy="939.5" r="2.1"/><circle class="pO" cx="142.2" cy="930.1" r="2.2"/><circle class="pO" cx="149.3" cy="932.5" r="2.2"/><circle class="pO" cx="157.7" cy="938.5" r="2.4"/><circle class="pO" cx="147.9" cy="939.0" r="2.7"/><circle class="pO" cx="149.9" cy="947.2" r="2.0"/><circle class="pO" cx="143.5" cy="933.1" r="2.4"/><circle class="pO" cx="146.4" cy="927.6" r="2.0"/><circle class="pO" cx="151.6" cy="955.8" r="2.6"/><circle class="pO" cx="141.3" cy="944.2" r="2.4"/><circle class="pO" cx="143.2" cy="950.5" r="2.2"/><circle class="pO" cx="143.8" cy="925.5" r="2.2"/><circle class="pO" cx="158.0" cy="939.8" r="2.7"/><circle class="pO" cx="148.0" cy="932.8" r="2.3"/><circle class="pO" cx="148.5" cy="934.2" r="2.5"/><circle class="pO" cx="137.3" cy="936.8" r="2.0"/><circle class="pO" cx="147.8" cy="941.5" r="2.9"/><circle class="pO" cx="147.0" cy="933.7" r="2.8"/><circle class="pO" cx="139.5" cy="936.5" r="2.0"/><circle class="pO" cx="155.5" cy="948.6" r="2.9"/><circle class="pO" cx="141.0" cy="951.6" r="2.7"/><circle class="pO" cx="149.3" cy="938.6" r="2.8"/><circle class="pO" cx="147.6" cy="955.2" r="2.9"/><circle class="pO" cx="145.2" cy="941.8" r="2.4"/><circle class="pO" cx="146.0" cy="936.1" r="2.2"/><circle class="pO" cx="152.0" cy="946.0" r="2.6"/><circle class="pO" cx="148.7" cy="946.2" r="1.9"/><circle class="pO" cx="147.8" cy="946.9" r="2.7"/><circle class="pO" cx="155.5" cy="931.4" r="2.9"/><circle class="pO" cx="159.1" cy="944.5" r="2.8"/><circle class="pO" cx="141.2" cy="930.2" r="2.1"/><circle class="pO" cx="149.0" cy="953.5" r="2.3"/><circle class="pO" cx="159.8" cy="940.5" r="2.8"/><circle class="pO" cx="156.6" cy="934.0" r="1.9"/><circle class="pO" cx="145.9" cy="945.8" r="1.9"/><circle class="pO" cx="158.4" cy="944.2" r="3.0"/><circle class="pO" cx="152.6" cy="935.9" r="2.1"/><circle class="pO" cx="148.6" cy="952.5" r="2.5"/><circle class="pO" cx="149.2" cy="931.3" r="2.1"/><circle class="pO" cx="142.2" cy="934.0" r="2.4"/><circle class="pO" cx="158.5" cy="933.0" r="2.2"/><circle class="pO" cx="153.8" cy="955.0" r="2.2"/><circle class="pO" cx="143.6" cy="937.7" r="2.0"/><circle class="pO" cx="138.8" cy="942.2" r="2.2"/><circle class="pO" cx="142.1" cy="950.6" r="2.4"/><circle class="pO" cx="149.7" cy="945.6" r="2.7"/><circle class="pO" cx="139.3" cy="948.4" r="1.9"/><path class="rO" d="M138.0,933.0Q146.7,935.1 153.0,934.9"/><path class="rO" d="M140.3,936.5Q146.6,941.2 156.3,946.3"/><path class="rO" d="M139.2,935.2Q144.1,940.3 150.4,944.8"/><path class="rO" d="M141.6,934.4Q151.8,935.3 158.6,939.7"/><path class="rO" d="M146.2,936.3Q153.3,939.6 159.3,946.7"/><path class="rO" d="M136.3,940.9Q147.0,943.4 153.8,945.4"/><path class="rO" d="M139.0,939.4Q149.7,939.7 161.4,943.9"/><path class="rB" d="M163.8,942.9Q167.0,947.7 166.6,952.4"/><path class="rB" d="M163.1,947.4Q165.4,953.2 165.2,959.4"/><path class="rB" d="M169.0,951.8Q170.3,959.0 170.0,962.3"/><path class="rB" d="M166.8,940.6Q169.2,946.5 170.4,949.3"/><path class="rB" d="M166.0,948.1Q167.7,956.5 169.0,962.6"/><path class="rB" d="M162.3,947.2Q163.3,953.8 163.8,957.0"/><path class="rB" d="M161.8,948.6Q164.3,957.1 163.1,964.5"/><circle class="pT" cx="157.5" cy="963.4" r="2.4"/><circle class="pT" cx="157.5" cy="961.3" r="2.8"/><circle class="pT" cx="156.7" cy="962.8" r="2.5"/><circle class="pT" cx="159.1" cy="968.9" r="2.8"/><circle class="pT" cx="159.1" cy="959.9" r="1.9"/><circle class="pT" cx="156.1" cy="957.3" r="2.4"/><circle class="pT" cx="159.8" cy="962.8" r="2.9"/><circle class="pT" cx="153.9" cy="963.5" r="2.2"/><circle class="pT" cx="150.5" cy="964.9" r="2.0"/><circle class="pT" cx="150.8" cy="960.6" r="2.7"/><circle class="pT" cx="157.2" cy="968.3" r="3.0"/><circle class="pT" cx="158.4" cy="959.9" r="3.0"/><circle class="pT" cx="163.0" cy="966.0" r="2.2"/><circle class="pT" cx="155.6" cy="960.7" r="2.8"/><circle class="pT" cx="154.5" cy="957.5" r="2.9"/><circle class="pT" cx="153.5" cy="958.8" r="2.7"/><circle class="pT" cx="150.5" cy="965.3" r="2.4"/><circle class="pT" cx="158.9" cy="957.0" r="2.9"/><circle class="pT" cx="158.2" cy="968.6" r="2.7"/><circle class="pT" cx="151.1" cy="960.9" r="2.1"/><circle class="pT" cx="157.1" cy="966.3" r="3.0"/><circle class="pT" cx="156.3" cy="962.9" r="2.2"/><circle class="pT" cx="151.4" cy="969.1" r="1.9"/><circle class="pT" cx="151.5" cy="964.2" r="2.2"/><circle class="pT" cx="154.3" cy="956.5" r="2.6"/><circle class="pT" cx="149.7" cy="960.6" r="2.0"/><circle class="pT" cx="158.9" cy="959.5" r="2.5"/><circle class="pT" cx="149.0" cy="964.8" r="2.3"/><circle class="pY" cx="141.6" cy="959.8" r="2.0"/><circle class="pY" cx="144.3" cy="954.3" r="2.2"/><circle class="pY" cx="139.9" cy="954.5" r="1.9"/><circle class="pY" cx="142.8" cy="951.1" r="2.7"/><circle class="pY" cx="143.3" cy="956.1" r="2.5"/><circle class="pY" cx="147.4" cy="960.7" r="2.5"/><circle class="pY" cx="147.1" cy="955.4" r="2.0"/><circle class="pY" cx="149.1" cy="955.0" r="1.9"/><circle class="pY" cx="147.8" cy="954.6" r="2.9"/><circle class="pY" cx="143.3" cy="954.1" r="2.9"/><circle class="pY" cx="143.7" cy="953.6" r="2.7"/><circle class="pY" cx="149.9" cy="953.9" r="2.7"/><circle class="pY" cx="145.3" cy="955.3" r="2.1"/><circle class="pY" cx="141.4" cy="951.0" r="3.0"/><circle class="pY" cx="140.4" cy="959.1" r="2.6"/><circle class="pY" cx="141.8" cy="948.9" r="2.6"/><circle class="pY" cx="147.9" cy="956.6" r="2.7"/><circle class="pY" cx="145.8" cy="947.8" r="2.8"/><circle class="pY" cx="149.6" cy="949.8" r="2.3"/><circle class="pY" cx="148.8" cy="959.5" r="2.1"/><circle class="pY" cx="149.6" cy="959.2" r="2.1"/><circle class="pY" cx="148.7" cy="949.9" r="2.3"/><circle class="pY" cx="148.4" cy="959.3" r="2.3"/><circle class="pY" cx="143.2" cy="957.4" r="3.0"/><circle class="pY" cx="146.2" cy="952.4" r="2.2"/></g><g><circle class="pP" cx="205.6" cy="902.9" r="2.7"/><circle class="pP" cx="206.1" cy="905.5" r="2.6"/><circle class="pP" cx="211.4" cy="901.3" r="2.4"/><circle class="pP" cx="203.0" cy="901.5" r="2.6"/><circle class="pP" cx="212.5" cy="894.1" r="2.8"/><circle class="pP" cx="209.0" cy="909.8" r="2.9"/><circle class="pP" cx="203.5" cy="904.2" r="2.4"/><circle class="pP" cx="212.2" cy="897.3" r="2.6"/><circle class="pP" cx="213.8" cy="895.5" r="2.0"/><circle class="pP" cx="205.1" cy="902.4" r="2.5"/><circle class="pP" cx="212.2" cy="892.4" r="2.7"/><circle class="pP" cx="204.1" cy="900.5" r="2.7"/><circle class="pP" cx="214.5" cy="896.8" r="2.6"/><circle class="pP" cx="210.9" cy="900.6" r="2.6"/><circle class="pP" cx="209.5" cy="898.4" r="2.7"/><circle class="pP" cx="212.5" cy="910.0" r="2.9"/><circle class="pP" cx="214.8" cy="893.1" r="2.5"/><circle class="pP" cx="210.3" cy="906.4" r="2.9"/><circle class="pP" cx="207.9" cy="902.7" r="2.3"/><circle class="pP" cx="208.6" cy="903.4" r="2.7"/><circle class="pP" cx="216.3" cy="898.1" r="2.4"/><circle class="pP" cx="209.6" cy="910.2" r="2.5"/><circle class="pP" cx="204.5" cy="900.7" r="2.6"/><circle class="pP" cx="204.0" cy="902.3" r="2.7"/><circle class="pP" cx="208.0" cy="901.5" r="2.3"/><circle class="pP" cx="205.1" cy="896.0" r="2.9"/><circle class="pP" cx="212.4" cy="901.5" r="2.8"/><circle class="pP" cx="215.3" cy="905.7" r="2.3"/><circle class="pP" cx="210.9" cy="897.3" r="2.0"/><circle class="pP" cx="208.4" cy="907.6" r="2.2"/><circle class="pP" cx="205.0" cy="899.7" r="2.6"/><circle class="pP" cx="214.7" cy="908.5" r="2.8"/><circle class="pP" cx="221.2" cy="954.3" r="2.3"/><circle class="pP" cx="222.9" cy="953.1" r="2.2"/><circle class="pP" cx="223.3" cy="953.1" r="2.3"/><circle class="pP" cx="222.0" cy="952.6" r="2.0"/><circle class="pP" cx="222.3" cy="952.5" r="2.9"/><circle class="pP" cx="221.9" cy="953.8" r="2.0"/><circle class="pB" cx="233.0" cy="905.2" r="2.0"/><circle class="pB" cx="217.6" cy="917.2" r="2.9"/><circle class="pB" cx="221.0" cy="911.7" r="2.0"/><circle class="pB" cx="236.2" cy="914.6" r="2.2"/><circle class="pB" cx="234.0" cy="904.7" r="2.4"/><circle class="pB" cx="214.7" cy="911.5" r="2.2"/><circle class="pB" cx="223.7" cy="906.3" r="1.9"/><circle class="pB" cx="208.7" cy="915.2" r="2.4"/><circle class="pB" cx="222.6" cy="913.0" r="2.2"/><circle class="pB" cx="211.3" cy="908.8" r="2.7"/><circle class="pB" cx="230.2" cy="909.7" r="2.6"/><circle class="pB" cx="227.0" cy="915.4" r="2.3"/><circle class="pB" cx="224.9" cy="913.9" r="2.5"/><circle class="pB" cx="231.2" cy="906.5" r="2.8"/><circle class="pB" cx="215.8" cy="910.6" r="2.1"/><circle class="pB" cx="218.8" cy="916.8" r="1.9"/><circle class="pB" cx="211.3" cy="911.1" r="2.6"/><circle class="pB" cx="228.7" cy="913.5" r="2.7"/><circle class="pB" cx="225.7" cy="904.6" r="2.5"/><circle class="pB" cx="222.4" cy="918.3" r="2.4"/><circle class="pB" cx="231.2" cy="912.4" r="1.9"/><circle class="pB" cx="223.9" cy="918.5" r="2.6"/><circle class="pB" cx="215.1" cy="917.1" r="2.6"/><circle class="pB" cx="225.1" cy="909.8" r="2.5"/><circle class="pB" cx="215.8" cy="916.3" r="2.0"/><circle class="pB" cx="220.1" cy="912.2" r="2.2"/><circle class="pB" cx="225.9" cy="902.9" r="2.9"/><circle class="pB" cx="234.7" cy="915.1" r="2.7"/><circle class="pB" cx="211.2" cy="911.5" r="2.0"/><circle class="pB" cx="230.7" cy="915.2" r="2.1"/><circle class="pB" cx="220.1" cy="903.5" r="2.6"/><circle class="pB" cx="229.1" cy="903.0" r="2.6"/><circle class="pB" cx="235.4" cy="905.0" r="2.9"/><circle class="pB" cx="207.6" cy="914.6" r="2.1"/><circle class="pB" cx="234.7" cy="909.3" r="2.0"/><circle class="pB" cx="233.2" cy="907.5" r="2.0"/><circle class="pB" cx="220.8" cy="910.3" r="2.5"/><circle class="pB" cx="235.7" cy="909.1" r="2.7"/><circle class="pB" cx="235.9" cy="911.9" r="2.7"/><circle class="pB" cx="212.4" cy="905.5" r="2.5"/><circle class="pB" cx="212.8" cy="912.6" r="2.2"/><circle class="pB" cx="217.2" cy="906.7" r="3.0"/><circle class="pB" cx="218.1" cy="909.7" r="2.0"/><circle class="pB" cx="233.6" cy="906.0" r="2.2"/><circle class="pB" cx="206.2" cy="907.9" r="3.0"/><circle class="pB" cx="217.3" cy="907.5" r="2.7"/><circle class="pB" cx="212.7" cy="914.6" r="3.0"/><circle class="pB" cx="232.0" cy="915.2" r="2.8"/><circle class="pB" cx="224.9" cy="903.8" r="2.6"/><circle class="pB" cx="225.0" cy="910.1" r="2.7"/><circle class="pB" cx="211.1" cy="908.3" r="2.6"/><circle class="pB" cx="235.6" cy="906.4" r="2.4"/><circle class="pB" cx="223.0" cy="909.7" r="2.0"/><circle class="pB" cx="217.5" cy="917.5" r="2.3"/><circle class="pB" cx="222.7" cy="917.3" r="3.0"/><circle class="pB" cx="205.0" cy="911.9" r="2.9"/><circle class="pB" cx="215.5" cy="908.1" r="2.1"/><circle class="pB" cx="235.5" cy="911.4" r="2.6"/><circle class="pB" cx="241.6" cy="956.6" r="2.5"/><circle class="pB" cx="240.5" cy="942.9" r="2.3"/><circle class="pB" cx="249.8" cy="949.0" r="2.4"/><circle class="pB" cx="230.3" cy="948.7" r="1.9"/><circle class="pB" cx="238.8" cy="935.7" r="2.3"/><circle class="pB" cx="233.2" cy="936.1" r="2.4"/><circle class="pB" cx="231.0" cy="937.0" r="2.7"/><circle class="pB" cx="237.4" cy="935.7" r="2.7"/><circle class="pB" cx="236.7" cy="940.5" r="1.9"/><circle class="pB" cx="239.3" cy="942.5" r="2.5"/><circle class="pB" cx="247.4" cy="948.5" r="2.3"/><circle class="pB" cx="247.4" cy="938.2" r="2.4"/><circle class="pB" cx="245.7" cy="955.2" r="2.2"/><circle class="pB" cx="234.2" cy="944.9" r="2.5"/><circle class="pB" cx="240.3" cy="943.5" r="2.8"/><circle class="pB" cx="233.9" cy="942.5" r="2.6"/><circle class="pB" cx="248.1" cy="937.0" r="2.3"/><circle class="pB" cx="238.7" cy="937.4" r="2.5"/><circle class="pB" cx="239.2" cy="940.0" r="2.0"/><circle class="pB" cx="240.5" cy="955.0" r="2.3"/><circle class="pB" cx="234.0" cy="954.5" r="2.1"/><circle class="pB" cx="240.8" cy="952.6" r="2.5"/><circle class="pB" cx="234.8" cy="947.5" r="2.3"/><circle class="pB" cx="243.1" cy="953.5" r="2.8"/><circle class="pB" cx="245.5" cy="933.1" r="2.2"/><circle class="pB" cx="243.1" cy="948.6" r="2.9"/><circle class="pB" cx="238.1" cy="931.1" r="2.0"/><circle class="pB" cx="229.4" cy="945.7" r="2.3"/><circle class="pB" cx="229.7" cy="939.9" r="2.8"/><circle class="pB" cx="243.5" cy="935.9" r="3.0"/><circle class="pB" cx="238.2" cy="954.3" r="2.4"/><circle class="pB" cx="242.7" cy="958.4" r="2.0"/><circle class="pB" cx="240.9" cy="947.3" r="3.0"/><circle class="pB" cx="241.7" cy="937.3" r="2.1"/><circle class="pB" cx="240.6" cy="934.3" r="2.3"/><circle class="pB" cx="232.8" cy="949.7" r="2.5"/><circle class="pB" cx="248.5" cy="939.3" r="2.7"/><circle class="pB" cx="236.5" cy="943.7" r="2.4"/><circle class="pB" cx="241.4" cy="950.3" r="2.1"/><circle class="pB" cx="242.7" cy="954.3" r="2.4"/><circle class="pB" cx="234.3" cy="937.0" r="2.6"/><circle class="pB" cx="231.0" cy="935.7" r="2.2"/><circle class="pB" cx="243.6" cy="951.9" r="2.5"/><circle class="pB" cx="231.6" cy="940.1" r="2.0"/><circle class="pB" cx="250.4" cy="943.3" r="2.8"/><circle class="pB" cx="233.8" cy="937.7" r="2.1"/><circle class="pB" cx="236.9" cy="950.1" r="2.5"/><circle class="pB" cx="235.5" cy="933.2" r="2.2"/><circle class="pB" cx="245.4" cy="934.7" r="3.0"/><circle class="pB" cx="246.9" cy="934.4" r="1.9"/><circle class="pB" cx="243.2" cy="944.6" r="2.4"/><circle class="pB" cx="241.2" cy="929.8" r="2.7"/><circle class="pB" cx="234.6" cy="954.8" r="2.1"/><circle class="pB" cx="231.5" cy="953.8" r="3.0"/><circle class="pB" cx="230.9" cy="939.3" r="3.0"/><circle class="pB" cx="245.1" cy="934.8" r="2.3"/><circle class="pB" cx="240.5" cy="934.1" r="2.0"/><circle class="pB" cx="232.5" cy="938.4" r="1.9"/><circle class="pB" cx="238.8" cy="942.5" r="2.5"/><circle class="pB" cx="246.8" cy="941.8" r="2.9"/><circle class="pB" cx="241.1" cy="958.4" r="2.2"/><circle class="pB" cx="250.3" cy="944.5" r="2.6"/><circle class="pB" cx="230.4" cy="941.3" r="2.6"/><circle class="pB" cx="237.1" cy="946.5" r="2.8"/><circle class="pB" cx="235.2" cy="950.6" r="2.7"/><circle class="pB" cx="245.5" cy="939.0" r="2.3"/><circle class="pO" cx="226.6" cy="926.0" r="2.4"/><circle class="pO" cx="226.3" cy="930.1" r="2.1"/><circle class="pO" cx="220.8" cy="921.8" r="2.5"/><circle class="pO" cx="220.7" cy="926.0" r="2.7"/><circle class="pO" cx="221.9" cy="921.2" r="2.2"/><circle class="pO" cx="228.5" cy="924.7" r="2.9"/><circle class="pO" cx="219.9" cy="924.1" r="2.4"/><circle class="pO" cx="222.7" cy="924.0" r="2.0"/><circle class="pO" cx="225.4" cy="930.0" r="2.3"/><circle class="pO" cx="233.0" cy="928.3" r="2.3"/><circle class="pO" cx="223.2" cy="923.8" r="2.0"/><circle class="pO" cx="224.9" cy="927.2" r="2.8"/><circle class="pO" cx="231.7" cy="924.9" r="2.7"/><circle class="pO" cx="231.3" cy="923.8" r="2.1"/><circle class="pO" cx="229.7" cy="924.1" r="2.5"/><circle class="pO" cx="224.4" cy="922.9" r="2.1"/><circle class="pO" cx="222.3" cy="924.3" r="2.3"/><circle class="pO" cx="222.9" cy="925.2" r="3.0"/><circle class="pO" cx="226.1" cy="928.2" r="2.3"/><circle class="pO" cx="228.8" cy="925.8" r="2.1"/><circle class="pO" cx="228.5" cy="932.4" r="2.1"/><circle class="pO" cx="229.3" cy="930.4" r="2.3"/><circle class="pO" cx="225.6" cy="933.0" r="2.5"/><circle class="pO" cx="231.2" cy="925.4" r="2.6"/><circle class="pO" cx="225.1" cy="929.5" r="2.7"/><path class="rB" d="M232.1,902.1Q227.5,906.3 220.9,913.1"/><path class="rB" d="M229.2,901.9Q222.0,906.1 216.8,909.5"/><path class="rB" d="M225.3,905.8Q220.9,911.5 212.8,916.0"/><path class="rB" d="M224.9,906.1Q224.3,912.4 220.7,914.9"/><path class="rB" d="M231.5,903.4Q227.0,908.5 223.8,911.3"/><path class="rB" d="M235.2,900.9Q230.2,904.3 223.6,910.5"/><path class="rB" d="M222.1,907.9Q219.6,911.4 217.1,917.5"/><path class="rO" d="M218.1,921.8Q221.8,923.0 226.9,927.2"/><path class="rO" d="M218.5,923.5Q220.8,926.9 226.8,928.4"/><path class="rO" d="M217.1,923.2Q224.1,927.3 227.3,929.7"/><path class="rO" d="M216.4,920.6Q220.2,925.4 227.4,928.0"/><path class="rO" d="M223.8,925.7Q226.9,929.9 231.2,932.9"/><path class="rO" d="M220.5,923.7Q225.6,927.4 229.8,932.9"/><path class="rO" d="M222.9,921.0Q224.3,924.3 226.4,928.2"/><path class="rB" d="M235.6,939.8Q234.3,945.6 234.4,954.8"/><path class="rB" d="M250.4,929.5Q246.6,937.7 239.4,945.1"/><path class="rB" d="M242.7,936.4Q238.6,944.0 237.1,950.9"/><path class="rB" d="M248.0,944.9Q241.5,952.6 237.4,959.8"/><path class="rB" d="M239.6,943.4Q235.0,952.0 231.7,957.4"/><path class="rB" d="M242.3,930.2Q237.2,939.0 235.1,945.0"/><path class="rB" d="M238.7,932.5Q235.5,939.2 233.6,946.4"/><circle class="pT" cx="240.5" cy="902.6" r="2.4"/><circle class="pT" cx="237.4" cy="905.5" r="2.7"/><circle class="pT" cx="235.5" cy="903.7" r="2.1"/><circle class="pT" cx="223.4" cy="901.8" r="2.1"/><circle class="pT" cx="223.3" cy="903.2" r="2.1"/><circle class="pT" cx="232.7" cy="907.5" r="1.9"/><circle class="pT" cx="225.2" cy="895.4" r="2.9"/><circle class="pT" cx="237.4" cy="895.9" r="2.4"/><circle class="pT" cx="234.5" cy="903.1" r="2.4"/><circle class="pT" cx="230.8" cy="896.8" r="2.0"/><circle class="pT" cx="221.4" cy="901.4" r="2.1"/><circle class="pT" cx="239.3" cy="898.1" r="1.9"/><circle class="pT" cx="233.5" cy="903.8" r="2.7"/><circle class="pT" cx="228.5" cy="907.6" r="2.6"/><circle class="pT" cx="224.3" cy="900.2" r="2.1"/><circle class="pT" cx="233.1" cy="899.5" r="2.4"/><circle class="pT" cx="226.6" cy="896.3" r="2.5"/><circle class="pT" cx="235.4" cy="898.9" r="2.0"/><circle class="pT" cx="232.7" cy="903.1" r="2.5"/><circle class="pT" cx="236.3" cy="902.8" r="2.9"/><circle class="pT" cx="231.4" cy="901.5" r="2.1"/><circle class="pT" cx="225.5" cy="899.2" r="2.2"/><circle class="pT" cx="224.3" cy="896.4" r="2.0"/><circle class="pT" cx="231.2" cy="900.3" r="2.8"/><circle class="pT" cx="235.4" cy="907.8" r="2.9"/><circle class="pT" cx="220.2" cy="903.7" r="2.9"/><circle class="pT" cx="225.5" cy="902.3" r="2.3"/><circle class="pT" cx="227.9" cy="903.3" r="2.9"/><circle class="pT" cx="219.1" cy="900.0" r="2.7"/><circle class="pT" cx="236.9" cy="903.2" r="2.2"/><circle class="pT" cx="231.3" cy="907.3" r="2.5"/><circle class="pT" cx="232.2" cy="899.5" r="2.7"/><circle class="pT" cx="241.4" cy="900.9" r="2.6"/><circle class="pT" cx="230.6" cy="897.5" r="2.9"/><circle class="pT" cx="219.4" cy="900.0" r="2.9"/><circle class="pT" cx="231.6" cy="899.6" r="2.1"/><circle class="pT" cx="226.7" cy="905.1" r="2.6"/><circle class="pT" cx="232.8" cy="908.2" r="2.3"/><circle class="pT" cx="224.5" cy="903.1" r="2.9"/><circle class="pT" cx="234.9" cy="906.7" r="2.8"/><circle class="pT" cx="218.1" cy="903.4" r="2.2"/><circle class="pT" cx="234.3" cy="905.7" r="2.8"/><circle class="pT" cx="216.5" cy="943.4" r="2.1"/><circle class="pT" cx="226.3" cy="951.1" r="2.5"/><circle class="pT" cx="222.0" cy="951.8" r="2.4"/><circle class="pT" cx="225.5" cy="946.2" r="2.5"/><circle class="pT" cx="216.7" cy="940.2" r="2.0"/><circle class="pT" cx="223.8" cy="953.5" r="2.2"/><circle class="pT" cx="216.6" cy="944.8" r="2.2"/><circle class="pT" cx="225.2" cy="940.5" r="2.2"/><circle class="pT" cx="219.8" cy="954.6" r="2.7"/><circle class="pT" cx="214.4" cy="950.2" r="2.6"/><circle class="pT" cx="216.1" cy="941.3" r="2.8"/><circle class="pT" cx="226.3" cy="949.9" r="2.3"/><circle class="pT" cx="224.9" cy="956.1" r="2.5"/><circle class="pT" cx="223.1" cy="948.7" r="2.9"/><circle class="pT" cx="221.1" cy="937.7" r="2.4"/><circle class="pT" cx="220.1" cy="950.5" r="2.4"/><circle class="pT" cx="217.3" cy="939.4" r="2.7"/><circle class="pT" cx="222.3" cy="952.6" r="2.1"/><circle class="pT" cx="220.4" cy="937.5" r="2.1"/><circle class="pT" cx="218.9" cy="941.2" r="2.9"/><circle class="pT" cx="215.2" cy="946.6" r="2.0"/><circle class="pT" cx="226.7" cy="942.1" r="2.3"/><circle class="pT" cx="215.1" cy="949.3" r="2.0"/><circle class="pT" cx="223.8" cy="947.1" r="2.2"/><circle class="pT" cx="223.5" cy="951.2" r="2.0"/><circle class="pT" cx="218.8" cy="937.8" r="2.4"/><circle class="pT" cx="227.7" cy="950.5" r="2.0"/><circle class="pT" cx="225.1" cy="953.4" r="2.4"/><circle class="pT" cx="223.5" cy="954.9" r="2.4"/><circle class="pT" cx="225.7" cy="948.0" r="2.8"/><circle class="pT" cx="226.6" cy="938.2" r="2.1"/><circle class="pT" cx="222.6" cy="942.8" r="2.2"/><circle class="pT" cx="216.9" cy="943.4" r="2.6"/><circle class="pT" cx="221.6" cy="943.2" r="2.7"/><circle class="pT" cx="227.6" cy="952.1" r="2.6"/><circle class="pT" cx="222.8" cy="939.3" r="2.1"/><circle class="pT" cx="220.4" cy="950.6" r="2.4"/><circle class="pT" cx="221.3" cy="936.7" r="2.9"/><circle class="pT" cx="217.2" cy="943.8" r="2.8"/><circle class="pT" cx="228.1" cy="943.3" r="2.4"/><circle class="pY" cx="234.1" cy="890.2" r="2.0"/><circle class="pY" cx="228.0" cy="889.1" r="1.9"/><circle class="pY" cx="234.1" cy="892.8" r="2.2"/><circle class="pY" cx="229.3" cy="893.6" r="2.0"/><circle class="pY" cx="230.1" cy="889.3" r="2.7"/><circle class="pY" cx="235.4" cy="891.1" r="2.9"/><circle class="pY" cx="231.8" cy="888.1" r="2.5"/><circle class="pY" cx="228.5" cy="893.4" r="2.8"/><circle class="pY" cx="226.9" cy="891.4" r="2.6"/><circle class="pY" cx="233.5" cy="887.6" r="2.5"/><circle class="pY" cx="226.9" cy="889.7" r="2.3"/><circle class="pY" cx="229.4" cy="889.6" r="2.5"/><circle class="pY" cx="227.0" cy="890.5" r="2.0"/><circle class="pY" cx="218.3" cy="928.7" r="2.8"/><circle class="pY" cx="217.9" cy="937.4" r="2.7"/><circle class="pY" cx="213.3" cy="935.4" r="2.4"/><circle class="pY" cx="214.5" cy="937.4" r="2.3"/><circle class="pY" cx="214.1" cy="939.8" r="2.4"/><circle class="pY" cx="213.9" cy="938.8" r="2.1"/><circle class="pY" cx="219.3" cy="934.7" r="2.7"/><circle class="pY" cx="216.5" cy="943.1" r="2.3"/><circle class="pY" cx="221.7" cy="945.0" r="2.9"/><circle class="pY" cx="221.5" cy="936.7" r="2.4"/><circle class="pY" cx="213.4" cy="934.2" r="2.2"/><circle class="pY" cx="222.1" cy="943.6" r="2.6"/><circle class="pY" cx="221.6" cy="936.8" r="2.6"/><circle class="pY" cx="218.7" cy="945.3" r="2.4"/><circle class="pY" cx="223.3" cy="936.0" r="2.2"/><circle class="pY" cx="214.3" cy="936.8" r="2.2"/><circle class="pY" cx="213.7" cy="934.6" r="2.9"/><circle class="pY" cx="221.9" cy="936.6" r="2.2"/><circle class="pY" cx="218.4" cy="935.0" r="2.6"/><circle class="pY" cx="215.8" cy="940.5" r="2.7"/><circle class="pY" cx="215.8" cy="932.9" r="2.5"/><circle class="pY" cx="219.3" cy="945.4" r="2.8"/><circle class="pY" cx="218.0" cy="938.0" r="2.8"/><circle class="pY" cx="219.4" cy="930.9" r="2.3"/><circle class="pY" cx="213.8" cy="941.4" r="2.8"/><circle class="pY" cx="220.1" cy="929.7" r="2.3"/><circle class="pY" cx="221.5" cy="932.5" r="2.7"/><circle class="pY" cx="220.3" cy="946.4" r="2.7"/></g><text x="26.80" y="738.00" font-size="9.2" text-anchor="start" fill="#111">scFv_2</text><text x="26.80" y="748.90" font-size="9.2" text-anchor="start" fill="#111">CD20</text><text x="26.80" y="759.80" font-size="9.2" text-anchor="start" fill="#111">(VL-VH)</text><text x="23.60" y="815.60" font-size="9.2" text-anchor="start" fill="#111">scFv_1</text><text x="23.60" y="826.50" font-size="9.2" text-anchor="start" fill="#111">CD19</text><text x="23.60" y="837.40" font-size="9.2" text-anchor="start" fill="#111">(VL-VH)</text><text x="24.40" y="874.80" font-size="9.2" text-anchor="start" fill="#111">scFv_2</text><text x="24.40" y="885.70" font-size="9.2" text-anchor="start" fill="#111">CD19</text><text x="24.40" y="896.60" font-size="9.2" text-anchor="start" fill="#111">(VH-VL)</text><text x="21.70" y="949.70" font-size="9.2" text-anchor="start" fill="#111">scFv_1</text><text x="21.70" y="960.60" font-size="9.2" text-anchor="start" fill="#111">CD20</text><text x="21.70" y="971.50" font-size="9.2" text-anchor="start" fill="#111">(VH-VL)</text><text x="78.30" y="784.40" font-size="9.2" text-anchor="middle" fill="#111" transform="rotate(-90 78.3 784.4)" dominant-baseline="central">(G4S)X4</text><text x="79.00" y="917.20" font-size="9.2" text-anchor="middle" fill="#111" transform="rotate(-90 79.0 917.2)" dominant-baseline="central">(G4S)X4</text><text x="82.00" y="849.90" font-size="9.2" text-anchor="middle" fill="#111">0 ns</text><text x="155.00" y="848.30" font-size="9.2" text-anchor="middle" fill="#111">50 ns</text><text x="236.50" y="838.10" font-size="9.2" text-anchor="middle" fill="#111">200 ns</text><text x="78.00" y="985.10" font-size="9.2" text-anchor="middle" fill="#111">0 ns</text><text x="165.50" y="985.10" font-size="9.2" text-anchor="middle" fill="#111">50 ns</text><text x="238.50" y="977.30" font-size="9.2" text-anchor="middle" fill="#111">200 ns</text><text x="341.80" y="723.50" font-size="8.8" text-anchor="middle" fill="#111">CD19 (VL-VH)-(G4S)<tspan font-size="6" dy="2">4</tspan><tspan dy="-2">-CD20 (VL-VH)</tspan></text><rect x="286.50" y="734.50" width="119.10" height="83.20" fill="none" stroke="#333" stroke-width="0.7" rx="0"/><line x1="286.50" y1="816.80" x2="288.30" y2="816.80" stroke="#333" stroke-width="0.5"/><line x1="405.60" y1="816.80" x2="403.80" y2="816.80" stroke="#333" stroke-width="0.5"/><text x="282.00" y="820.00" font-size="8.8" text-anchor="end" fill="#111">0</text><line x1="286.50" y1="800.62" x2="288.30" y2="800.62" stroke="#333" stroke-width="0.5"/><line x1="405.60" y1="800.62" x2="403.80" y2="800.62" stroke="#333" stroke-width="0.5"/><text x="282.00" y="803.82" font-size="8.8" text-anchor="end" fill="#111">10</text><line x1="286.50" y1="784.44" x2="288.30" y2="784.44" stroke="#333" stroke-width="0.5"/><line x1="405.60" y1="784.44" x2="403.80" y2="784.44" stroke="#333" stroke-width="0.5"/><text x="282.00" y="787.64" font-size="8.8" text-anchor="end" fill="#111">20</text><line x1="286.50" y1="768.26" x2="288.30" y2="768.26" stroke="#333" stroke-width="0.5"/><line x1="405.60" y1="768.26" x2="403.80" y2="768.26" stroke="#333" stroke-width="0.5"/><text x="282.00" y="771.46" font-size="8.8" text-anchor="end" fill="#111">30</text><line x1="286.50" y1="752.08" x2="288.30" y2="752.08" stroke="#333" stroke-width="0.5"/><line x1="405.60" y1="752.08" x2="403.80" y2="752.08" stroke="#333" stroke-width="0.5"/><text x="282.00" y="755.28" font-size="8.8" text-anchor="end" fill="#111">40</text><line x1="286.50" y1="735.90" x2="288.30" y2="735.90" stroke="#333" stroke-width="0.5"/><line x1="405.60" y1="735.90" x2="403.80" y2="735.90" stroke="#333" stroke-width="0.5"/><text x="282.00" y="739.10" font-size="8.8" text-anchor="end" fill="#111">50</text><line x1="287.70" y1="817.70" x2="287.70" y2="815.70" stroke="#333" stroke-width="0.5"/><line x1="287.70" y1="734.50" x2="287.70" y2="736.30" stroke="#333" stroke-width="0.5"/><text x="287.70" y="828.40" font-size="8.8" text-anchor="middle" fill="#111">0</text><line x1="316.02" y1="817.70" x2="316.02" y2="815.70" stroke="#333" stroke-width="0.5"/><line x1="316.02" y1="734.50" x2="316.02" y2="736.30" stroke="#333" stroke-width="0.5"/><text x="316.02" y="828.40" font-size="8.8" text-anchor="middle" fill="#111">50</text><line x1="344.35" y1="817.70" x2="344.35" y2="815.70" stroke="#333" stroke-width="0.5"/><line x1="344.35" y1="734.50" x2="344.35" y2="736.30" stroke="#333" stroke-width="0.5"/><text x="344.35" y="828.40" font-size="8.8" text-anchor="middle" fill="#111">100</text><line x1="372.67" y1="817.70" x2="372.67" y2="815.70" stroke="#333" stroke-width="0.5"/><line x1="372.67" y1="734.50" x2="372.67" y2="736.30" stroke="#333" stroke-width="0.5"/><text x="372.67" y="828.40" font-size="8.8" text-anchor="middle" fill="#111">150</text><line x1="401.00" y1="817.70" x2="401.00" y2="815.70" stroke="#333" stroke-width="0.5"/><line x1="401.00" y1="734.50" x2="401.00" y2="736.30" stroke="#333" stroke-width="0.5"/><text x="401.00" y="828.40" font-size="8.8" text-anchor="middle" fill="#111">200</text><text x="356.00" y="838.90" font-size="8.8" text-anchor="middle" fill="#111">Time (ns)</text><text x="268.40" y="776.15" font-size="8.8" text-anchor="middle" fill="#111" transform="rotate(-90 268.4 776.15)">RMSD (Å)</text><polyline points="287.12,816.94 287.41,814.16 287.70,811.30 288.14,810.02 288.58,808.32 289.31,805.91 290.04,802.21 290.77,801.71 291.50,801.26 292.59,800.54 293.69,800.48 294.78,799.17 295.88,799.23 296.85,798.48 297.82,798.35 298.80,797.90 299.77,796.74 300.74,796.50 301.72,796.09 302.69,794.90 303.66,792.78 304.64,790.10 305.36,788.68 306.09,785.70 307.07,785.79 308.04,784.71 309.01,784.07 309.99,786.09 310.96,786.27 311.93,787.25 312.91,789.92 313.88,791.54 314.85,792.59 315.83,791.65 316.80,789.39 317.77,787.80 318.87,786.14 319.96,785.93 321.06,784.54 322.15,783.77 323.13,783.20 324.10,782.00 325.07,781.59 326.05,780.86 327.02,780.35 327.99,779.77 329.09,779.10 330.18,778.52 331.28,776.85 332.37,776.71 333.47,776.01 334.56,775.68 335.66,776.00 336.75,775.31 337.73,775.30 338.70,775.70 339.67,776.16 340.64,775.58 341.62,776.87 342.59,775.92 343.56,776.11 344.54,775.55 345.51,773.87 346.48,773.82 347.46,772.35 348.43,771.63 349.53,770.58 350.62,770.26 351.72,770.06 352.81,770.62 353.91,768.61 355.00,768.19 356.09,767.30 357.19,766.22 358.16,765.17 359.14,764.84 360.11,764.70 361.08,764.66 362.06,763.52 363.03,763.95 364.00,763.91 364.98,763.89 365.95,762.80 366.92,763.80 367.90,762.67 368.87,762.87 369.84,763.10 370.82,763.37 371.79,762.58 372.76,763.28 373.73,762.83 374.71,762.55 375.68,762.55 376.65,762.39 377.63,762.27 378.60,762.35 379.57,763.00 380.55,763.37 381.52,762.61 382.49,762.72 383.47,764.09 384.44,763.79 385.41,763.88 386.39,763.92 387.36,764.28 388.33,764.50 389.31,763.99 390.28,763.88 391.25,763.38 392.23,764.34 393.20,763.22 394.17,763.71 395.15,764.06 396.12,763.11 397.09,763.73 398.07,763.90 399.04,763.42 400.01,763.51 400.99,762.59 402.08,763.28 403.18,763.23 404.27,764.36 405.36,764.23" fill="none" stroke="#222" stroke-width="0.55" stroke-linejoin="round"/><text x="341.80" y="865.50" font-size="8.8" text-anchor="middle" fill="#111">CD20 (VH-VL)-(G4S)<tspan font-size="6" dy="2">4</tspan><tspan dy="-2">-CD19 (VH-VL)</tspan></text><rect x="286.50" y="876.50" width="119.70" height="83.20" fill="none" stroke="#333" stroke-width="0.7" rx="0"/><line x1="286.50" y1="958.80" x2="288.30" y2="958.80" stroke="#333" stroke-width="0.5"/><line x1="406.20" y1="958.80" x2="404.40" y2="958.80" stroke="#333" stroke-width="0.5"/><text x="282.00" y="962.00" font-size="8.8" text-anchor="end" fill="#111">0</text><line x1="286.50" y1="942.62" x2="288.30" y2="942.62" stroke="#333" stroke-width="0.5"/><line x1="406.20" y1="942.62" x2="404.40" y2="942.62" stroke="#333" stroke-width="0.5"/><text x="282.00" y="945.82" font-size="8.8" text-anchor="end" fill="#111">10</text><line x1="286.50" y1="926.44" x2="288.30" y2="926.44" stroke="#333" stroke-width="0.5"/><line x1="406.20" y1="926.44" x2="404.40" y2="926.44" stroke="#333" stroke-width="0.5"/><text x="282.00" y="929.64" font-size="8.8" text-anchor="end" fill="#111">20</text><line x1="286.50" y1="910.26" x2="288.30" y2="910.26" stroke="#333" stroke-width="0.5"/><line x1="406.20" y1="910.26" x2="404.40" y2="910.26" stroke="#333" stroke-width="0.5"/><text x="282.00" y="913.46" font-size="8.8" text-anchor="end" fill="#111">30</text><line x1="286.50" y1="894.08" x2="288.30" y2="894.08" stroke="#333" stroke-width="0.5"/><line x1="406.20" y1="894.08" x2="404.40" y2="894.08" stroke="#333" stroke-width="0.5"/><text x="282.00" y="897.28" font-size="8.8" text-anchor="end" fill="#111">40</text><line x1="286.50" y1="877.90" x2="288.30" y2="877.90" stroke="#333" stroke-width="0.5"/><line x1="406.20" y1="877.90" x2="404.40" y2="877.90" stroke="#333" stroke-width="0.5"/><text x="282.00" y="881.10" font-size="8.8" text-anchor="end" fill="#111">50</text><line x1="287.70" y1="959.70" x2="287.70" y2="957.70" stroke="#333" stroke-width="0.5"/><line x1="287.70" y1="876.50" x2="287.70" y2="878.30" stroke="#333" stroke-width="0.5"/><text x="287.70" y="970.40" font-size="8.8" text-anchor="middle" fill="#111">0</text><line x1="316.02" y1="959.70" x2="316.02" y2="957.70" stroke="#333" stroke-width="0.5"/><line x1="316.02" y1="876.50" x2="316.02" y2="878.30" stroke="#333" stroke-width="0.5"/><text x="316.02" y="970.40" font-size="8.8" text-anchor="middle" fill="#111">50</text><line x1="344.35" y1="959.70" x2="344.35" y2="957.70" stroke="#333" stroke-width="0.5"/><line x1="344.35" y1="876.50" x2="344.35" y2="878.30" stroke="#333" stroke-width="0.5"/><text x="344.35" y="970.40" font-size="8.8" text-anchor="middle" fill="#111">100</text><line x1="372.67" y1="959.70" x2="372.67" y2="957.70" stroke="#333" stroke-width="0.5"/><line x1="372.67" y1="876.50" x2="372.67" y2="878.30" stroke="#333" stroke-width="0.5"/><text x="372.67" y="970.40" font-size="8.8" text-anchor="middle" fill="#111">150</text><line x1="401.00" y1="959.70" x2="401.00" y2="957.70" stroke="#333" stroke-width="0.5"/><line x1="401.00" y1="876.50" x2="401.00" y2="878.30" stroke="#333" stroke-width="0.5"/><text x="401.00" y="970.40" font-size="8.8" text-anchor="middle" fill="#111">200</text><text x="356.00" y="980.90" font-size="8.8" text-anchor="middle" fill="#111">Time (ns)</text><text x="268.40" y="918.15" font-size="8.8" text-anchor="middle" fill="#111" transform="rotate(-90 268.4 918.15)">RMSD (Å)</text><polyline points="287.12,956.94 287.70,954.89 288.28,952.76 288.87,950.75 289.45,948.32 290.47,946.35 291.50,943.08 292.47,943.12 293.44,943.21 294.42,942.37 295.39,939.26 296.36,934.91 297.34,931.93 298.31,930.21 299.28,929.10 300.26,927.68 301.23,924.09 302.20,921.41 303.18,918.57 304.27,918.97 305.36,918.42 306.46,917.33 307.55,917.73 308.65,915.70 309.74,915.03 310.84,913.20 311.93,911.81 312.91,914.51 313.88,915.37 314.85,917.03 315.95,917.22 317.04,916.36 318.14,914.93 319.23,915.01 320.33,914.86 321.42,915.40 322.52,915.19 323.61,916.44 324.71,915.78 325.80,915.74 326.90,915.29 327.99,914.21 329.09,912.46 330.18,910.40 331.28,908.55 332.37,906.63 333.35,906.53 334.32,906.50 335.29,905.39 336.27,905.81 337.24,905.01 338.21,904.59 339.12,905.13 340.04,904.65 340.95,904.38 341.86,904.50 342.77,904.70 343.69,903.85 344.60,904.88 345.51,903.66 346.42,904.46 347.34,904.50 348.25,903.44 349.16,904.29 350.07,903.71 350.99,903.89 351.90,903.13 352.81,903.11 353.78,903.12 354.76,903.90 355.73,902.85 356.70,903.37 357.68,903.44 358.65,903.30 359.56,902.95 360.47,903.33 361.39,903.90 362.30,904.56 363.21,904.13 364.12,905.26 365.04,905.69 365.95,906.13 366.92,907.57 367.90,911.09 368.87,912.50 369.96,914.12 371.06,915.75 372.15,917.44 373.25,918.06 374.34,917.44 375.44,915.67 376.53,914.08 377.63,912.77 378.60,913.58 379.57,914.43 380.55,915.49 381.52,916.24 382.49,916.70 383.47,915.80 384.44,915.76 385.41,916.98 386.39,916.54 387.36,916.29 388.33,915.99 389.31,916.32 390.28,916.50 391.25,915.96 392.23,915.82 393.32,913.92 394.42,913.49 395.51,910.97 396.61,910.07 397.70,909.90 398.80,908.46 399.89,908.60 400.99,908.28 402.04,908.24 403.09,908.78 404.14,908.32 405.19,909.06 406.24,909.49" fill="none" stroke="#222" stroke-width="0.55" stroke-linejoin="round"/><text x="587.90" y="714.20" font-size="11.0" text-anchor="middle" fill="#111">% Binding affinity</text><text x="529.10" y="729.80" font-size="10.8" text-anchor="end" fill="#111" transform="rotate(90 529.1 729.8)" dominant-baseline="central">0</text><line x1="528.90" y1="732.80" x2="528.90" y2="730.30" stroke="#111" stroke-width="0.8"/><text x="554.28" y="729.80" font-size="10.8" text-anchor="end" fill="#111" transform="rotate(90 554.28 729.8)" dominant-baseline="central">20</text><line x1="554.08" y1="732.80" x2="554.08" y2="730.30" stroke="#111" stroke-width="0.8"/><text x="579.46" y="729.80" font-size="10.8" text-anchor="end" fill="#111" transform="rotate(90 579.46 729.8)" dominant-baseline="central">40</text><line x1="579.26" y1="732.80" x2="579.26" y2="730.30" stroke="#111" stroke-width="0.8"/><text x="604.64" y="729.80" font-size="10.8" text-anchor="end" fill="#111" transform="rotate(90 604.64 729.8)" dominant-baseline="central">60</text><line x1="604.44" y1="732.80" x2="604.44" y2="730.30" stroke="#111" stroke-width="0.8"/><text x="629.82" y="729.80" font-size="10.8" text-anchor="end" fill="#111" transform="rotate(90 629.82 729.8)" dominant-baseline="central">80</text><line x1="629.62" y1="732.80" x2="629.62" y2="730.30" stroke="#111" stroke-width="0.8"/><text x="655.00" y="729.80" font-size="10.8" text-anchor="end" fill="#111" transform="rotate(90 655.0 729.8)" dominant-baseline="central">100</text><line x1="654.80" y1="732.80" x2="654.80" y2="730.30" stroke="#111" stroke-width="0.8"/><line x1="528.90" y1="732.80" x2="654.80" y2="732.80" stroke="#111" stroke-width="0.9"/><line x1="528.90" y1="732.80" x2="528.90" y2="987.50" stroke="#111" stroke-width="0.9"/><rect x="528.90" y="739.10" width="80.80" height="5.50" fill="#f39a2d" stroke="#222" stroke-width="0.5" rx="0"/><line x1="609.70" y1="741.85" x2="618.50" y2="741.85" stroke="#333" stroke-width="0.5"/><circle class="dO" cx="597.4" cy="741.5" r="2.6"/><circle class="dO" cx="603.9" cy="742.4" r="2.6"/><circle class="dO" cx="607.4" cy="741.5" r="2.6"/><circle class="dO" cx="616.7" cy="742.4" r="2.6"/><circle class="dO" cx="620.5" cy="741.5" r="2.6"/><text x="526.60" y="746.25" font-size="11.4" text-anchor="end" fill="#111">Mu19</text><line x1="526.40" y1="741.85" x2="528.90" y2="741.85" stroke="#111" stroke-width="0.7"/><rect x="528.90" y="747.30" width="78.50" height="5.20" fill="#f39a2d" stroke="#222" stroke-width="0.5" rx="0"/><line x1="607.40" y1="749.90" x2="614.50" y2="749.90" stroke="#333" stroke-width="0.5"/><circle class="dO" cx="596.0" cy="749.5" r="2.6"/><circle class="dO" cx="606.0" cy="750.4" r="2.6"/><circle class="dO" cx="611.0" cy="749.5" r="2.6"/><circle class="dO" cx="614.0" cy="750.4" r="2.6"/><circle class="dO" cx="616.5" cy="749.5" r="2.6"/><text x="526.60" y="754.30" font-size="11.4" text-anchor="end" fill="#111">Hu19</text><line x1="526.40" y1="749.90" x2="528.90" y2="749.90" stroke="#111" stroke-width="0.7"/><rect x="528.90" y="763.00" width="69.70" height="5.30" fill="#3e9e8f" stroke="#222" stroke-width="0.5" rx="0"/><line x1="598.60" y1="765.65" x2="605.50" y2="765.65" stroke="#333" stroke-width="0.5"/><circle class="dT" cx="592.0" cy="765.2" r="2.6"/><circle class="dT" cx="597.0" cy="766.1" r="2.6"/><circle class="dT" cx="604.0" cy="765.2" r="2.6"/><circle class="dT" cx="607.5" cy="766.1" r="2.6"/><text x="526.60" y="770.05" font-size="11.4" text-anchor="end" fill="#111">Mu20</text><line x1="526.40" y1="765.65" x2="528.90" y2="765.65" stroke="#111" stroke-width="0.7"/><rect x="528.90" y="770.60" width="79.60" height="5.90" fill="#3e9e8f" stroke="#222" stroke-width="0.5" rx="0"/><line x1="608.50" y1="773.55" x2="612.00" y2="773.55" stroke="#333" stroke-width="0.5"/><circle class="dT" cx="602.0" cy="773.1" r="2.6"/><circle class="dT" cx="607.5" cy="774.0" r="2.6"/><circle class="dT" cx="611.5" cy="773.1" r="2.6"/><circle class="dT" cx="614.0" cy="774.0" r="2.6"/><text x="526.60" y="777.95" font-size="11.4" text-anchor="end" fill="#111">Hu20</text><line x1="526.40" y1="773.55" x2="528.90" y2="773.55" stroke="#111" stroke-width="0.7"/><rect x="528.90" y="787.00" width="68.00" height="5.20" fill="#d98af0" stroke="#222" stroke-width="0.5" rx="0"/><line x1="596.90" y1="789.60" x2="601.50" y2="789.60" stroke="#333" stroke-width="0.5"/><circle class="dV" cx="589.5" cy="789.2" r="2.6"/><circle class="dV" cx="594.5" cy="790.1" r="2.6"/><circle class="dV" cx="597.5" cy="789.2" r="2.6"/><circle class="dV" cx="603.5" cy="790.1" r="2.6"/><text x="526.60" y="794.00" font-size="11.4" text-anchor="end" fill="#111">Mu22</text><line x1="526.40" y1="789.60" x2="528.90" y2="789.60" stroke="#111" stroke-width="0.7"/><rect x="528.90" y="795.20" width="80.80" height="5.20" fill="#d98af0" stroke="#222" stroke-width="0.5" rx="0"/><line x1="609.70" y1="797.80" x2="605.50" y2="797.80" stroke="#333" stroke-width="0.5"/><circle class="dV" cx="600.5" cy="797.4" r="2.6"/><circle class="dV" cx="603.5" cy="798.3" r="2.6"/><circle class="dV" cx="607.5" cy="797.4" r="2.6"/><text x="526.60" y="802.20" font-size="11.4" text-anchor="end" fill="#111">Hu22</text><line x1="526.40" y1="797.80" x2="528.90" y2="797.80" stroke="#111" stroke-width="0.7"/><rect x="528.90" y="814.10" width="70.50" height="5.60" fill="#3e9e8f" stroke="#222" stroke-width="0.5" rx="0"/><line x1="599.40" y1="816.90" x2="612.00" y2="816.90" stroke="#333" stroke-width="0.5"/><circle class="dT" cx="590.0" cy="816.5" r="2.6"/><circle class="dT" cx="591.0" cy="817.4" r="2.6"/><circle class="dT" cx="598.5" cy="816.5" r="2.6"/><circle class="dT" cx="602.5" cy="817.4" r="2.6"/><circle class="dT" cx="609.0" cy="816.5" r="2.6"/><circle class="dT" cx="614.0" cy="817.4" r="2.6"/><rect x="528.90" y="820.00" width="83.70" height="5.80" fill="#f39a2d" stroke="#222" stroke-width="0.5" rx="0"/><line x1="612.60" y1="822.90" x2="619.50" y2="822.90" stroke="#333" stroke-width="0.5"/><circle class="dO" cx="610.0" cy="822.5" r="2.6"/><circle class="dO" cx="616.0" cy="823.4" r="2.6"/><circle class="dO" cx="617.5" cy="822.5" r="2.6"/><circle class="dO" cx="621.5" cy="823.4" r="2.6"/><text x="526.60" y="825.20" font-size="11.4" text-anchor="end" fill="#111">Mu20/Mu19</text><line x1="526.40" y1="819.90" x2="528.90" y2="819.90" stroke="#111" stroke-width="0.7"/><rect x="528.90" y="829.90" width="75.60" height="5.50" fill="#3e9e8f" stroke="#222" stroke-width="0.5" rx="0"/><line x1="604.50" y1="832.65" x2="612.00" y2="832.65" stroke="#333" stroke-width="0.5"/><circle class="dT" cx="591.0" cy="832.2" r="2.6"/><circle class="dT" cx="597.0" cy="833.1" r="2.6"/><circle class="dT" cx="601.5" cy="832.2" r="2.6"/><circle class="dT" cx="610.0" cy="833.1" r="2.6"/><circle class="dT" cx="614.0" cy="832.2" r="2.6"/><rect x="528.90" y="836.50" width="48.60" height="5.40" fill="#f39a2d" stroke="#222" stroke-width="0.5" rx="0"/><line x1="577.50" y1="839.20" x2="589.00" y2="839.20" stroke="#333" stroke-width="0.5"/><circle class="dO" cx="565.5" cy="838.8" r="2.6"/><circle class="dO" cx="570.5" cy="839.7" r="2.6"/><circle class="dO" cx="574.5" cy="838.8" r="2.6"/><circle class="dO" cx="583.0" cy="839.7" r="2.6"/><circle class="dO" cx="591.0" cy="838.8" r="2.6"/><text x="526.60" y="841.22" font-size="11.4" text-anchor="end" fill="#111">Hu20/Hu19</text><line x1="526.40" y1="835.92" x2="528.90" y2="835.92" stroke="#111" stroke-width="0.7"/><rect x="528.90" y="845.70" width="85.10" height="5.80" fill="#3e9e8f" stroke="#222" stroke-width="0.5" rx="0"/><line x1="614.00" y1="848.60" x2="625.90" y2="848.60" stroke="#333" stroke-width="0.5"/><circle class="dT" cx="607.5" cy="848.2" r="2.6"/><circle class="dT" cx="611.0" cy="849.1" r="2.6"/><circle class="dT" cx="614.0" cy="848.2" r="2.6"/><circle class="dT" cx="616.0" cy="849.1" r="2.6"/><circle class="dT" cx="627.9" cy="848.2" r="2.6"/><rect x="528.90" y="852.10" width="83.70" height="5.80" fill="#f39a2d" stroke="#222" stroke-width="0.5" rx="0"/><line x1="612.60" y1="855.00" x2="626.00" y2="855.00" stroke="#333" stroke-width="0.5"/><circle class="dO" cx="597.5" cy="854.6" r="2.6"/><circle class="dO" cx="607.5" cy="855.5" r="2.6"/><circle class="dO" cx="611.5" cy="854.6" r="2.6"/><circle class="dO" cx="616.5" cy="855.5" r="2.6"/><circle class="dO" cx="628.0" cy="854.6" r="2.6"/><text x="526.60" y="857.10" font-size="11.4" text-anchor="end" fill="#111">Hu20/Mu19</text><line x1="526.40" y1="851.80" x2="528.90" y2="851.80" stroke="#111" stroke-width="0.7"/><rect x="528.90" y="861.70" width="73.40" height="5.40" fill="#d98af0" stroke="#222" stroke-width="0.5" rx="0"/><line x1="602.30" y1="864.40" x2="605.50" y2="864.40" stroke="#333" stroke-width="0.5"/><circle class="dV" cx="591.0" cy="864.0" r="2.6"/><circle class="dV" cx="597.0" cy="864.9" r="2.6"/><circle class="dV" cx="600.5" cy="864.0" r="2.6"/><circle class="dV" cx="603.5" cy="864.9" r="2.6"/><circle class="dV" cx="607.5" cy="864.0" r="2.6"/><rect x="528.90" y="867.90" width="82.10" height="5.80" fill="#f39a2d" stroke="#222" stroke-width="0.5" rx="0"/><line x1="611.00" y1="870.80" x2="608.00" y2="870.80" stroke="#333" stroke-width="0.5"/><circle class="dO" cx="595.0" cy="870.4" r="2.6"/><circle class="dO" cx="603.5" cy="871.3" r="2.6"/><circle class="dO" cx="607.5" cy="870.4" r="2.6"/><circle class="dO" cx="610.0" cy="871.3" r="2.6"/><text x="526.60" y="872.90" font-size="11.4" text-anchor="end" fill="#111">Mu22/Mu19</text><line x1="526.40" y1="867.60" x2="528.90" y2="867.60" stroke="#111" stroke-width="0.7"/><rect x="528.90" y="877.80" width="60.30" height="5.40" fill="#d98af0" stroke="#222" stroke-width="0.5" rx="0"/><line x1="589.20" y1="880.50" x2="595.50" y2="880.50" stroke="#333" stroke-width="0.5"/><circle class="dV" cx="584.5" cy="880.1" r="2.6"/><circle class="dV" cx="590.0" cy="881.0" r="2.6"/><circle class="dV" cx="595.0" cy="880.1" r="2.6"/><circle class="dV" cx="597.5" cy="881.0" r="2.6"/><rect x="528.90" y="883.90" width="48.60" height="5.90" fill="#f39a2d" stroke="#222" stroke-width="0.5" rx="0"/><line x1="577.50" y1="886.85" x2="586.50" y2="886.85" stroke="#333" stroke-width="0.5"/><circle class="dO" cx="565.5" cy="886.4" r="2.6"/><circle class="dO" cx="571.0" cy="887.3" r="2.6"/><circle class="dO" cx="574.0" cy="886.4" r="2.6"/><circle class="dO" cx="583.0" cy="887.3" r="2.6"/><circle class="dO" cx="588.5" cy="886.4" r="2.6"/><text x="526.60" y="888.97" font-size="11.4" text-anchor="end" fill="#111">Hu22/Hu19</text><line x1="526.40" y1="883.67" x2="528.90" y2="883.67" stroke="#111" stroke-width="0.7"/><rect x="528.90" y="893.40" width="80.70" height="5.40" fill="#d98af0" stroke="#222" stroke-width="0.5" rx="0"/><line x1="609.60" y1="896.10" x2="617.00" y2="896.10" stroke="#333" stroke-width="0.5"/><circle class="dV" cx="597.5" cy="895.7" r="2.6"/><circle class="dV" cx="606.0" cy="896.6" r="2.6"/><circle class="dV" cx="610.0" cy="895.7" r="2.6"/><circle class="dV" cx="614.0" cy="896.6" r="2.6"/><circle class="dV" cx="619.0" cy="895.7" r="2.6"/><rect x="528.90" y="899.70" width="83.70" height="5.80" fill="#f39a2d" stroke="#222" stroke-width="0.5" rx="0"/><line x1="612.60" y1="902.60" x2="620.00" y2="902.60" stroke="#333" stroke-width="0.5"/><circle class="dO" cx="602.5" cy="902.2" r="2.6"/><circle class="dO" cx="610.0" cy="903.1" r="2.6"/><circle class="dO" cx="611.0" cy="902.2" r="2.6"/><circle class="dO" cx="619.0" cy="903.1" r="2.6"/><circle class="dO" cx="622.0" cy="902.2" r="2.6"/><text x="526.60" y="904.65" font-size="11.4" text-anchor="end" fill="#111">Hu22/Mu19</text><line x1="526.40" y1="899.35" x2="528.90" y2="899.35" stroke="#111" stroke-width="0.7"/><rect x="528.90" y="919.00" width="49.80" height="5.40" fill="#3e9e8f" stroke="#222" stroke-width="0.5" rx="0"/><line x1="578.70" y1="921.70" x2="589.00" y2="921.70" stroke="#333" stroke-width="0.5"/><circle class="dT" cx="565.5" cy="921.3" r="2.6"/><circle class="dT" cx="572.0" cy="922.2" r="2.6"/><circle class="dT" cx="578.0" cy="921.3" r="2.6"/><circle class="dT" cx="583.5" cy="922.2" r="2.6"/><circle class="dT" cx="591.0" cy="921.3" r="2.6"/><rect x="528.90" y="925.10" width="60.00" height="5.60" fill="#d98af0" stroke="#222" stroke-width="0.5" rx="0"/><line x1="588.90" y1="927.90" x2="597.50" y2="927.90" stroke="#333" stroke-width="0.5"/><circle class="dV" cx="570.5" cy="927.5" r="2.6"/><circle class="dV" cx="583.5" cy="928.4" r="2.6"/><circle class="dV" cx="586.5" cy="927.5" r="2.6"/><circle class="dV" cx="597.0" cy="928.4" r="2.6"/><circle class="dV" cx="599.5" cy="927.5" r="2.6"/><rect x="528.90" y="931.40" width="44.70" height="5.40" fill="#f39a2d" stroke="#222" stroke-width="0.5" rx="0"/><line x1="573.60" y1="934.10" x2="581.50" y2="934.10" stroke="#333" stroke-width="0.5"/><circle class="dO" cx="562.5" cy="933.7" r="2.6"/><circle class="dO" cx="567.0" cy="934.6" r="2.6"/><circle class="dO" cx="571.0" cy="933.7" r="2.6"/><circle class="dO" cx="578.5" cy="934.6" r="2.6"/><circle class="dO" cx="583.5" cy="933.7" r="2.6"/><text x="526.60" y="933.20" font-size="11.4" text-anchor="end" fill="#111">Mu20/Mu22/Mu19</text><line x1="526.40" y1="927.90" x2="528.90" y2="927.90" stroke="#111" stroke-width="0.7"/><rect x="528.90" y="941.20" width="47.60" height="5.50" fill="#3e9e8f" stroke="#222" stroke-width="0.5" rx="0"/><line x1="576.50" y1="943.95" x2="584.00" y2="943.95" stroke="#333" stroke-width="0.5"/><circle class="dT" cx="569.5" cy="943.6" r="2.6"/><circle class="dT" cx="574.5" cy="944.5" r="2.6"/><circle class="dT" cx="578.5" cy="943.6" r="2.6"/><circle class="dT" cx="585.0" cy="944.5" r="2.6"/><circle class="dT" cx="586.0" cy="943.6" r="2.6"/><rect x="528.90" y="947.50" width="42.50" height="5.40" fill="#d98af0" stroke="#222" stroke-width="0.5" rx="0"/><line x1="571.40" y1="950.20" x2="580.50" y2="950.20" stroke="#333" stroke-width="0.5"/><circle class="dV" cx="560.5" cy="949.8" r="2.6"/><circle class="dV" cx="565.5" cy="950.7" r="2.6"/><circle class="dV" cx="570.5" cy="949.8" r="2.6"/><circle class="dV" cx="575.5" cy="950.7" r="2.6"/><circle class="dV" cx="582.5" cy="949.8" r="2.6"/><rect x="528.90" y="953.90" width="60.00" height="5.50" fill="#f39a2d" stroke="#222" stroke-width="0.5" rx="0"/><line x1="588.90" y1="956.65" x2="584.50" y2="956.65" stroke="#333" stroke-width="0.5"/><circle class="dO" cx="570.5" cy="956.2" r="2.6"/><circle class="dO" cx="578.5" cy="957.1" r="2.6"/><circle class="dO" cx="582.0" cy="956.2" r="2.6"/><circle class="dO" cx="584.5" cy="957.1" r="2.6"/><circle class="dO" cx="586.5" cy="956.2" r="2.6"/><text x="526.60" y="955.57" font-size="11.4" text-anchor="end" fill="#111">Hu20/Hu22/Hu19</text><line x1="526.40" y1="950.27" x2="528.90" y2="950.27" stroke="#111" stroke-width="0.7"/><rect x="528.90" y="963.40" width="75.30" height="5.50" fill="#3e9e8f" stroke="#222" stroke-width="0.5" rx="0"/><line x1="604.20" y1="966.15" x2="608.50" y2="966.15" stroke="#333" stroke-width="0.5"/><circle class="dT" cx="591.0" cy="965.8" r="2.6"/><circle class="dT" cx="597.0" cy="966.6" r="2.6"/><circle class="dT" cx="602.5" cy="965.8" r="2.6"/><circle class="dT" cx="607.5" cy="966.6" r="2.6"/><circle class="dT" cx="610.5" cy="965.8" r="2.6"/><rect x="528.90" y="969.70" width="56.40" height="5.50" fill="#d98af0" stroke="#222" stroke-width="0.5" rx="0"/><line x1="585.30" y1="972.45" x2="594.00" y2="972.45" stroke="#333" stroke-width="0.5"/><circle class="dV" cx="584.0" cy="972.1" r="2.6"/><circle class="dV" cx="591.0" cy="973.0" r="2.6"/><circle class="dV" cx="596.0" cy="972.1" r="2.6"/><rect x="528.90" y="975.90" width="86.30" height="5.90" fill="#f39a2d" stroke="#222" stroke-width="0.5" rx="0"/><line x1="615.20" y1="978.85" x2="611.50" y2="978.85" stroke="#333" stroke-width="0.5"/><circle class="dO" cx="600.0" cy="978.4" r="2.6"/><circle class="dO" cx="603.0" cy="979.3" r="2.6"/><circle class="dO" cx="607.5" cy="978.4" r="2.6"/><circle class="dO" cx="610.5" cy="979.3" r="2.6"/><circle class="dO" cx="613.5" cy="978.4" r="2.6"/><text x="526.60" y="977.78" font-size="11.4" text-anchor="end" fill="#111">Hu20/Hu22/Mu19</text><line x1="526.40" y1="972.48" x2="528.90" y2="972.48" stroke="#111" stroke-width="0.7"/><line x1="529.50" y1="807.00" x2="656.40" y2="807.00" stroke="#222" stroke-width="0.8" stroke-dasharray="1.2 1.6"/><line x1="529.50" y1="912.30" x2="656.40" y2="912.30" stroke="#222" stroke-width="0.8" stroke-dasharray="1.2 1.6"/><path d="M624.9,742.2 L629.6,742.2 L629.6,751.4 L622.0,751.4" fill="none" stroke="#333" stroke-width="0.6"/><text x="634.80" y="746.80" font-size="9.8" text-anchor="middle" fill="#111" transform="rotate(90 634.8 746.8)" dominant-baseline="central">ns</text><path d="M611.5,765.6 L624.7,765.6 L624.7,774.1 L619.6,774.1" fill="none" stroke="#333" stroke-width="0.6"/><text x="629.00" y="769.85" font-size="8.5" text-anchor="middle" fill="#111" transform="rotate(90 629.0 769.85)" dominant-baseline="central">**</text><path d="M608.5,789.9 L617.9,789.9 L617.9,798.4 L613.5,798.4" fill="none" stroke="#333" stroke-width="0.6"/><text x="621.40" y="794.15" font-size="8.5" text-anchor="middle" fill="#111" transform="rotate(90 621.4 794.15)" dominant-baseline="central">**</text><path d="M598.0,839.1 L641.0,839.1 L641.0,854.4 L633.0,854.4" fill="none" stroke="#333" stroke-width="0.6"/><text x="644.40" y="846.75" font-size="8.0" text-anchor="middle" fill="#111" transform="rotate(90 644.4 846.75)" dominant-baseline="central">****</text><path d="M595.0,887.6 L633.7,887.6 L633.7,903.6 L627.9,903.6" fill="none" stroke="#333" stroke-width="0.6"/><text x="637.40" y="895.60" font-size="8.0" text-anchor="middle" fill="#111" transform="rotate(90 637.4 895.6)" dominant-baseline="central">****</text><circle cx="666.20" cy="757.80" r="3.30" fill="#f39a2d" stroke="#222" stroke-width="0.5"/><text x="666.20" y="789.00" font-size="12.2" text-anchor="middle" fill="#111" transform="rotate(90 666.2 789.0)" dominant-baseline="central">CD19 ECD</text><circle cx="666.20" cy="829.60" r="3.30" fill="#3e9e8f" stroke="#222" stroke-width="0.5"/><text x="666.20" y="860.50" font-size="12.2" text-anchor="middle" fill="#111" transform="rotate(90 666.2 860.5)" dominant-baseline="central">CD20 ECD</text><circle cx="666.20" cy="897.90" r="3.30" fill="#d98af0" stroke="#222" stroke-width="0.5"/><text x="666.20" y="929.00" font-size="12.2" text-anchor="middle" fill="#111" transform="rotate(90 666.2 929.0)" dominant-baseline="central">CD22 ECD</text></svg></body></html>
